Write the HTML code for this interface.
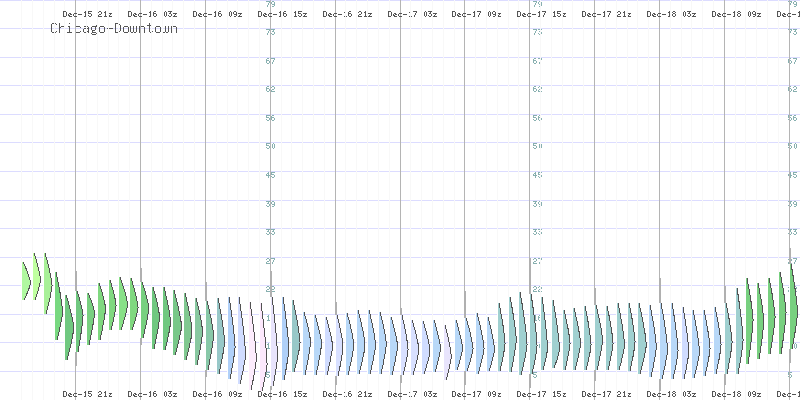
<!DOCTYPE html><html><head><meta charset="utf-8"><style>html,body{margin:0;padding:0;background:#fff;width:800px;height:400px;overflow:hidden}svg{display:block}</style></head><body>
<svg width="800" height="400" viewBox="0 0 800 400" shape-rendering="crispEdges">
<rect width="800" height="400" fill="#fff"/>
<path d="M0 0h800v1h-800zM0 28h800v1h-800zM0 57h800v1h-800zM0 85h800v1h-800zM0 114h800v1h-800zM0 142h800v1h-800zM0 171h800v1h-800zM0 200h800v1h-800zM0 228h800v1h-800zM0 257h800v1h-800zM0 285h800v1h-800zM0 314h800v1h-800zM0 342h800v1h-800zM0 371h800v1h-800z" fill="#dcdcff"/>
<path d="M266 1h4v1h-4zM272 1h2v1h-2zM269 2h1v1h-1zM271 2h1v1h-1zM274 2h1v1h-1zM268 3h1v1h-1zM271 3h1v1h-1zM274 3h1v1h-1zM268 4h1v1h-1zM272 4h3v1h-3zM267 5h1v1h-1zM274 5h1v1h-1zM267 6h1v1h-1zM272 6h2v1h-2zM533 1h4v1h-4zM539 1h2v1h-2zM536 2h1v1h-1zM538 2h1v1h-1zM541 2h1v1h-1zM535 3h1v1h-1zM538 3h1v1h-1zM541 3h1v1h-1zM535 4h1v1h-1zM539 4h3v1h-3zM534 5h1v1h-1zM541 5h1v1h-1zM534 6h1v1h-1zM539 6h2v1h-2zM788 1h4v1h-4zM794 1h2v1h-2zM791 2h1v1h-1zM793 2h1v1h-1zM796 2h1v1h-1zM790 3h1v1h-1zM793 3h1v1h-1zM796 3h1v1h-1zM790 4h1v1h-1zM794 4h3v1h-3zM789 5h1v1h-1zM796 5h1v1h-1zM789 6h1v1h-1zM794 6h2v1h-2zM266 29h4v1h-4zM271 29h4v1h-4zM269 30h1v1h-1zM273 30h1v1h-1zM268 31h1v1h-1zM272 31h2v1h-2zM268 32h1v1h-1zM274 32h1v1h-1zM267 33h1v1h-1zM271 33h1v1h-1zM274 33h1v1h-1zM267 34h1v1h-1zM272 34h2v1h-2zM533 29h4v1h-4zM538 29h4v1h-4zM536 30h1v1h-1zM540 30h1v1h-1zM535 31h1v1h-1zM539 31h2v1h-2zM535 32h1v1h-1zM541 32h1v1h-1zM534 33h1v1h-1zM538 33h1v1h-1zM541 33h1v1h-1zM534 34h1v1h-1zM539 34h2v1h-2zM788 29h4v1h-4zM793 29h4v1h-4zM791 30h1v1h-1zM795 30h1v1h-1zM790 31h1v1h-1zM794 31h2v1h-2zM790 32h1v1h-1zM796 32h1v1h-1zM789 33h1v1h-1zM793 33h1v1h-1zM796 33h1v1h-1zM789 34h1v1h-1zM794 34h2v1h-2zM267 58h2v1h-2zM271 58h4v1h-4zM266 59h1v1h-1zM274 59h1v1h-1zM266 60h3v1h-3zM273 60h1v1h-1zM266 61h1v1h-1zM269 61h1v1h-1zM273 61h1v1h-1zM266 62h1v1h-1zM269 62h1v1h-1zM272 62h1v1h-1zM267 63h2v1h-2zM272 63h1v1h-1zM534 58h2v1h-2zM538 58h4v1h-4zM533 59h1v1h-1zM541 59h1v1h-1zM533 60h3v1h-3zM540 60h1v1h-1zM533 61h1v1h-1zM536 61h1v1h-1zM540 61h1v1h-1zM533 62h1v1h-1zM536 62h1v1h-1zM539 62h1v1h-1zM534 63h2v1h-2zM539 63h1v1h-1zM789 58h2v1h-2zM793 58h4v1h-4zM788 59h1v1h-1zM796 59h1v1h-1zM788 60h3v1h-3zM795 60h1v1h-1zM788 61h1v1h-1zM791 61h1v1h-1zM795 61h1v1h-1zM788 62h1v1h-1zM791 62h1v1h-1zM794 62h1v1h-1zM789 63h2v1h-2zM794 63h1v1h-1zM267 86h2v1h-2zM272 86h2v1h-2zM266 87h1v1h-1zM271 87h1v1h-1zM274 87h1v1h-1zM266 88h3v1h-3zM274 88h1v1h-1zM266 89h1v1h-1zM269 89h1v1h-1zM272 89h2v1h-2zM266 90h1v1h-1zM269 90h1v1h-1zM271 90h1v1h-1zM267 91h2v1h-2zM271 91h4v1h-4zM534 86h2v1h-2zM539 86h2v1h-2zM533 87h1v1h-1zM538 87h1v1h-1zM541 87h1v1h-1zM533 88h3v1h-3zM541 88h1v1h-1zM533 89h1v1h-1zM536 89h1v1h-1zM539 89h2v1h-2zM533 90h1v1h-1zM536 90h1v1h-1zM538 90h1v1h-1zM534 91h2v1h-2zM538 91h4v1h-4zM789 86h2v1h-2zM794 86h2v1h-2zM788 87h1v1h-1zM793 87h1v1h-1zM796 87h1v1h-1zM788 88h3v1h-3zM796 88h1v1h-1zM788 89h1v1h-1zM791 89h1v1h-1zM794 89h2v1h-2zM788 90h1v1h-1zM791 90h1v1h-1zM793 90h1v1h-1zM789 91h2v1h-2zM793 91h4v1h-4zM266 115h4v1h-4zM272 115h2v1h-2zM266 116h1v1h-1zM271 116h1v1h-1zM266 117h3v1h-3zM271 117h3v1h-3zM269 118h1v1h-1zM271 118h1v1h-1zM274 118h1v1h-1zM266 119h1v1h-1zM269 119h1v1h-1zM271 119h1v1h-1zM274 119h1v1h-1zM267 120h2v1h-2zM272 120h2v1h-2zM533 115h4v1h-4zM539 115h2v1h-2zM533 116h1v1h-1zM538 116h1v1h-1zM533 117h3v1h-3zM538 117h3v1h-3zM536 118h1v1h-1zM538 118h1v1h-1zM541 118h1v1h-1zM533 119h1v1h-1zM536 119h1v1h-1zM538 119h1v1h-1zM541 119h1v1h-1zM534 120h2v1h-2zM539 120h2v1h-2zM788 115h4v1h-4zM794 115h2v1h-2zM788 116h1v1h-1zM793 116h1v1h-1zM788 117h3v1h-3zM793 117h3v1h-3zM791 118h1v1h-1zM793 118h1v1h-1zM796 118h1v1h-1zM788 119h1v1h-1zM791 119h1v1h-1zM793 119h1v1h-1zM796 119h1v1h-1zM789 120h2v1h-2zM794 120h2v1h-2zM266 143h4v1h-4zM273 143h1v1h-1zM266 144h1v1h-1zM272 144h1v1h-1zM274 144h1v1h-1zM266 145h3v1h-3zM272 145h1v1h-1zM274 145h1v1h-1zM269 146h1v1h-1zM272 146h1v1h-1zM274 146h1v1h-1zM266 147h1v1h-1zM269 147h1v1h-1zM272 147h1v1h-1zM274 147h1v1h-1zM267 148h2v1h-2zM273 148h1v1h-1zM533 143h4v1h-4zM540 143h1v1h-1zM533 144h1v1h-1zM539 144h1v1h-1zM541 144h1v1h-1zM533 145h3v1h-3zM539 145h1v1h-1zM541 145h1v1h-1zM536 146h1v1h-1zM539 146h1v1h-1zM541 146h1v1h-1zM533 147h1v1h-1zM536 147h1v1h-1zM539 147h1v1h-1zM541 147h1v1h-1zM534 148h2v1h-2zM540 148h1v1h-1zM788 143h4v1h-4zM795 143h1v1h-1zM788 144h1v1h-1zM794 144h1v1h-1zM796 144h1v1h-1zM788 145h3v1h-3zM794 145h1v1h-1zM796 145h1v1h-1zM791 146h1v1h-1zM794 146h1v1h-1zM796 146h1v1h-1zM788 147h1v1h-1zM791 147h1v1h-1zM794 147h1v1h-1zM796 147h1v1h-1zM789 148h2v1h-2zM795 148h1v1h-1zM268 172h1v1h-1zM271 172h4v1h-4zM267 173h2v1h-2zM271 173h1v1h-1zM266 174h1v1h-1zM268 174h1v1h-1zM271 174h3v1h-3zM266 175h4v1h-4zM274 175h1v1h-1zM268 176h1v1h-1zM271 176h1v1h-1zM274 176h1v1h-1zM268 177h1v1h-1zM272 177h2v1h-2zM535 172h1v1h-1zM538 172h4v1h-4zM534 173h2v1h-2zM538 173h1v1h-1zM533 174h1v1h-1zM535 174h1v1h-1zM538 174h3v1h-3zM533 175h4v1h-4zM541 175h1v1h-1zM535 176h1v1h-1zM538 176h1v1h-1zM541 176h1v1h-1zM535 177h1v1h-1zM539 177h2v1h-2zM790 172h1v1h-1zM793 172h4v1h-4zM789 173h2v1h-2zM793 173h1v1h-1zM788 174h1v1h-1zM790 174h1v1h-1zM793 174h3v1h-3zM788 175h4v1h-4zM796 175h1v1h-1zM790 176h1v1h-1zM793 176h1v1h-1zM796 176h1v1h-1zM790 177h1v1h-1zM794 177h2v1h-2zM266 201h4v1h-4zM272 201h2v1h-2zM268 202h1v1h-1zM271 202h1v1h-1zM274 202h1v1h-1zM267 203h2v1h-2zM271 203h1v1h-1zM274 203h1v1h-1zM269 204h1v1h-1zM272 204h3v1h-3zM266 205h1v1h-1zM269 205h1v1h-1zM274 205h1v1h-1zM267 206h2v1h-2zM272 206h2v1h-2zM533 201h4v1h-4zM539 201h2v1h-2zM535 202h1v1h-1zM538 202h1v1h-1zM541 202h1v1h-1zM534 203h2v1h-2zM538 203h1v1h-1zM541 203h1v1h-1zM536 204h1v1h-1zM539 204h3v1h-3zM533 205h1v1h-1zM536 205h1v1h-1zM541 205h1v1h-1zM534 206h2v1h-2zM539 206h2v1h-2zM788 201h4v1h-4zM794 201h2v1h-2zM790 202h1v1h-1zM793 202h1v1h-1zM796 202h1v1h-1zM789 203h2v1h-2zM793 203h1v1h-1zM796 203h1v1h-1zM791 204h1v1h-1zM794 204h3v1h-3zM788 205h1v1h-1zM791 205h1v1h-1zM796 205h1v1h-1zM789 206h2v1h-2zM794 206h2v1h-2zM266 229h4v1h-4zM271 229h4v1h-4zM268 230h1v1h-1zM273 230h1v1h-1zM267 231h2v1h-2zM272 231h2v1h-2zM269 232h1v1h-1zM274 232h1v1h-1zM266 233h1v1h-1zM269 233h1v1h-1zM271 233h1v1h-1zM274 233h1v1h-1zM267 234h2v1h-2zM272 234h2v1h-2zM533 229h4v1h-4zM538 229h4v1h-4zM535 230h1v1h-1zM540 230h1v1h-1zM534 231h2v1h-2zM539 231h2v1h-2zM536 232h1v1h-1zM541 232h1v1h-1zM533 233h1v1h-1zM536 233h1v1h-1zM538 233h1v1h-1zM541 233h1v1h-1zM534 234h2v1h-2zM539 234h2v1h-2zM788 229h4v1h-4zM793 229h4v1h-4zM790 230h1v1h-1zM795 230h1v1h-1zM789 231h2v1h-2zM794 231h2v1h-2zM791 232h1v1h-1zM796 232h1v1h-1zM788 233h1v1h-1zM791 233h1v1h-1zM793 233h1v1h-1zM796 233h1v1h-1zM789 234h2v1h-2zM794 234h2v1h-2zM267 258h2v1h-2zM271 258h4v1h-4zM266 259h1v1h-1zM269 259h1v1h-1zM274 259h1v1h-1zM269 260h1v1h-1zM273 260h1v1h-1zM267 261h2v1h-2zM273 261h1v1h-1zM266 262h1v1h-1zM272 262h1v1h-1zM266 263h4v1h-4zM272 263h1v1h-1zM534 258h2v1h-2zM538 258h4v1h-4zM533 259h1v1h-1zM536 259h1v1h-1zM541 259h1v1h-1zM536 260h1v1h-1zM540 260h1v1h-1zM534 261h2v1h-2zM540 261h1v1h-1zM533 262h1v1h-1zM539 262h1v1h-1zM533 263h4v1h-4zM539 263h1v1h-1zM789 258h2v1h-2zM793 258h4v1h-4zM788 259h1v1h-1zM791 259h1v1h-1zM796 259h1v1h-1zM791 260h1v1h-1zM795 260h1v1h-1zM789 261h2v1h-2zM795 261h1v1h-1zM788 262h1v1h-1zM794 262h1v1h-1zM788 263h4v1h-4zM794 263h1v1h-1zM267 286h2v1h-2zM272 286h2v1h-2zM266 287h1v1h-1zM269 287h1v1h-1zM271 287h1v1h-1zM274 287h1v1h-1zM269 288h1v1h-1zM274 288h1v1h-1zM267 289h2v1h-2zM272 289h2v1h-2zM266 290h1v1h-1zM271 290h1v1h-1zM266 291h4v1h-4zM271 291h4v1h-4zM534 286h2v1h-2zM539 286h2v1h-2zM533 287h1v1h-1zM536 287h1v1h-1zM538 287h1v1h-1zM541 287h1v1h-1zM536 288h1v1h-1zM541 288h1v1h-1zM534 289h2v1h-2zM539 289h2v1h-2zM533 290h1v1h-1zM538 290h1v1h-1zM533 291h4v1h-4zM538 291h4v1h-4zM789 286h2v1h-2zM794 286h2v1h-2zM788 287h1v1h-1zM791 287h1v1h-1zM793 287h1v1h-1zM796 287h1v1h-1zM791 288h1v1h-1zM796 288h1v1h-1zM789 289h2v1h-2zM794 289h2v1h-2zM788 290h1v1h-1zM793 290h1v1h-1zM788 291h4v1h-4zM793 291h4v1h-4zM268 315h1v1h-1zM272 315h2v1h-2zM267 316h2v1h-2zM271 316h1v1h-1zM268 317h1v1h-1zM271 317h3v1h-3zM268 318h1v1h-1zM271 318h1v1h-1zM274 318h1v1h-1zM268 319h1v1h-1zM271 319h1v1h-1zM274 319h1v1h-1zM267 320h3v1h-3zM272 320h2v1h-2zM535 315h1v1h-1zM539 315h2v1h-2zM534 316h2v1h-2zM538 316h1v1h-1zM535 317h1v1h-1zM538 317h3v1h-3zM535 318h1v1h-1zM538 318h1v1h-1zM541 318h1v1h-1zM535 319h1v1h-1zM538 319h1v1h-1zM541 319h1v1h-1zM534 320h3v1h-3zM539 320h2v1h-2zM790 315h1v1h-1zM794 315h2v1h-2zM789 316h2v1h-2zM793 316h1v1h-1zM790 317h1v1h-1zM793 317h3v1h-3zM790 318h1v1h-1zM793 318h1v1h-1zM796 318h1v1h-1zM790 319h1v1h-1zM793 319h1v1h-1zM796 319h1v1h-1zM789 320h3v1h-3zM794 320h2v1h-2zM268 343h1v1h-1zM273 343h1v1h-1zM267 344h2v1h-2zM272 344h1v1h-1zM274 344h1v1h-1zM268 345h1v1h-1zM272 345h1v1h-1zM274 345h1v1h-1zM268 346h1v1h-1zM272 346h1v1h-1zM274 346h1v1h-1zM268 347h1v1h-1zM272 347h1v1h-1zM274 347h1v1h-1zM267 348h3v1h-3zM273 348h1v1h-1zM535 343h1v1h-1zM540 343h1v1h-1zM534 344h2v1h-2zM539 344h1v1h-1zM541 344h1v1h-1zM535 345h1v1h-1zM539 345h1v1h-1zM541 345h1v1h-1zM535 346h1v1h-1zM539 346h1v1h-1zM541 346h1v1h-1zM535 347h1v1h-1zM539 347h1v1h-1zM541 347h1v1h-1zM534 348h3v1h-3zM540 348h1v1h-1zM790 343h1v1h-1zM795 343h1v1h-1zM789 344h2v1h-2zM794 344h1v1h-1zM796 344h1v1h-1zM790 345h1v1h-1zM794 345h1v1h-1zM796 345h1v1h-1zM790 346h1v1h-1zM794 346h1v1h-1zM796 346h1v1h-1zM790 347h1v1h-1zM794 347h1v1h-1zM796 347h1v1h-1zM789 348h3v1h-3zM795 348h1v1h-1zM266 372h4v1h-4zM266 373h1v1h-1zM266 374h3v1h-3zM269 375h1v1h-1zM266 376h1v1h-1zM269 376h1v1h-1zM267 377h2v1h-2zM533 372h4v1h-4zM533 373h1v1h-1zM533 374h3v1h-3zM536 375h1v1h-1zM533 376h1v1h-1zM536 376h1v1h-1zM534 377h2v1h-2zM788 372h4v1h-4zM788 373h1v1h-1zM788 374h3v1h-3zM791 375h1v1h-1zM788 376h1v1h-1zM791 376h1v1h-1zM789 377h2v1h-2z" fill="#88b0b0"/>
<path d="M52 23h4v1h-4zM59 23h1v1h-1zM69 23h1v1h-1zM115 23h4v1h-4zM149 23h1v1h-1zM51 24h1v1h-1zM56 24h1v1h-1zM59 24h1v1h-1zM115 24h1v1h-1zM119 24h1v1h-1zM149 24h1v1h-1zM51 25h1v1h-1zM59 25h1v1h-1zM96 25h1v1h-1zM115 25h1v1h-1zM120 25h1v1h-1zM147 25h5v1h-5zM51 26h1v1h-1zM59 26h1v1h-1zM61 26h3v1h-3zM68 26h2v1h-2zM76 26h4v1h-4zM84 26h4v1h-4zM92 26h5v1h-5zM100 26h4v1h-4zM115 26h1v1h-1zM120 26h1v1h-1zM124 26h4v1h-4zM130 26h1v1h-1zM133 26h1v1h-1zM136 26h1v1h-1zM139 26h1v1h-1zM141 26h3v1h-3zM149 26h1v1h-1zM156 26h4v1h-4zM162 26h1v1h-1zM165 26h1v1h-1zM168 26h1v1h-1zM171 26h1v1h-1zM173 26h3v1h-3zM51 27h1v1h-1zM59 27h2v1h-2zM64 27h1v1h-1zM69 27h1v1h-1zM75 27h1v1h-1zM80 27h1v1h-1zM88 27h1v1h-1zM91 27h1v1h-1zM95 27h1v1h-1zM99 27h1v1h-1zM104 27h1v1h-1zM115 27h1v1h-1zM120 27h1v1h-1zM123 27h1v1h-1zM128 27h1v1h-1zM130 27h1v1h-1zM133 27h1v1h-1zM136 27h1v1h-1zM139 27h2v1h-2zM144 27h1v1h-1zM149 27h1v1h-1zM155 27h1v1h-1zM160 27h1v1h-1zM162 27h1v1h-1zM165 27h1v1h-1zM168 27h1v1h-1zM171 27h2v1h-2zM176 27h1v1h-1zM51 28h1v1h-1zM59 28h1v1h-1zM64 28h1v1h-1zM69 28h1v1h-1zM75 28h1v1h-1zM84 28h5v1h-5zM91 28h1v1h-1zM95 28h1v1h-1zM99 28h1v1h-1zM104 28h1v1h-1zM107 28h6v1h-6zM115 28h1v1h-1zM120 28h1v1h-1zM123 28h1v1h-1zM128 28h1v1h-1zM130 28h1v1h-1zM133 28h1v1h-1zM136 28h1v1h-1zM139 28h1v1h-1zM144 28h1v1h-1zM149 28h1v1h-1zM155 28h1v1h-1zM160 28h1v1h-1zM162 28h1v1h-1zM165 28h1v1h-1zM168 28h1v1h-1zM171 28h1v1h-1zM176 28h1v1h-1zM51 29h1v1h-1zM59 29h1v1h-1zM64 29h1v1h-1zM69 29h1v1h-1zM75 29h1v1h-1zM83 29h1v1h-1zM88 29h1v1h-1zM91 29h1v1h-1zM95 29h1v1h-1zM99 29h1v1h-1zM104 29h1v1h-1zM115 29h1v1h-1zM120 29h1v1h-1zM123 29h1v1h-1zM128 29h1v1h-1zM130 29h1v1h-1zM133 29h1v1h-1zM136 29h1v1h-1zM139 29h1v1h-1zM144 29h1v1h-1zM149 29h1v1h-1zM155 29h1v1h-1zM160 29h1v1h-1zM162 29h1v1h-1zM165 29h1v1h-1zM168 29h1v1h-1zM171 29h1v1h-1zM176 29h1v1h-1zM51 30h1v1h-1zM59 30h1v1h-1zM64 30h1v1h-1zM69 30h1v1h-1zM75 30h1v1h-1zM83 30h1v1h-1zM88 30h1v1h-1zM92 30h3v1h-3zM99 30h1v1h-1zM104 30h1v1h-1zM115 30h1v1h-1zM120 30h1v1h-1zM123 30h1v1h-1zM128 30h1v1h-1zM130 30h1v1h-1zM133 30h1v1h-1zM136 30h1v1h-1zM139 30h1v1h-1zM144 30h1v1h-1zM149 30h1v1h-1zM155 30h1v1h-1zM160 30h1v1h-1zM162 30h1v1h-1zM165 30h1v1h-1zM168 30h1v1h-1zM171 30h1v1h-1zM176 30h1v1h-1zM51 31h1v1h-1zM56 31h1v1h-1zM59 31h1v1h-1zM64 31h1v1h-1zM69 31h1v1h-1zM75 31h1v1h-1zM80 31h1v1h-1zM83 31h1v1h-1zM87 31h2v1h-2zM92 31h1v1h-1zM99 31h1v1h-1zM104 31h1v1h-1zM115 31h1v1h-1zM119 31h1v1h-1zM123 31h1v1h-1zM128 31h1v1h-1zM130 31h1v1h-1zM133 31h1v1h-1zM136 31h1v1h-1zM139 31h1v1h-1zM144 31h1v1h-1zM149 31h1v1h-1zM152 31h1v1h-1zM155 31h1v1h-1zM160 31h1v1h-1zM162 31h1v1h-1zM165 31h1v1h-1zM168 31h1v1h-1zM171 31h1v1h-1zM176 31h1v1h-1zM52 32h4v1h-4zM59 32h1v1h-1zM64 32h1v1h-1zM67 32h5v1h-5zM76 32h4v1h-4zM84 32h3v1h-3zM88 32h1v1h-1zM92 32h4v1h-4zM100 32h4v1h-4zM115 32h4v1h-4zM124 32h4v1h-4zM131 32h2v1h-2zM134 32h2v1h-2zM139 32h1v1h-1zM144 32h1v1h-1zM150 32h2v1h-2zM156 32h4v1h-4zM163 32h2v1h-2zM166 32h2v1h-2zM171 32h1v1h-1zM176 32h1v1h-1zM91 33h1v1h-1zM96 33h1v1h-1zM92 34h4v1h-4z" fill="#555555"/>
<path d="M21 0h1v400h-1z" fill="#f8f8f8"/>
<path d="M32 0h1v400h-1z" fill="#f8f8f8"/>
<path d="M43 0h1v400h-1z" fill="#f8f8f8"/>
<path d="M54 0h1v400h-1z" fill="#f8f8f8"/>
<path d="M64 0h1v400h-1z" fill="#f8f8f8"/>
<path d="M75 0h1v400h-1z" fill="#b4b4b4"/>
<path d="M63 11h3v1h-3zM85 11h1v1h-1zM88 11h4v1h-4zM99 11h2v1h-2zM105 11h1v1h-1zM63 12h1v1h-1zM66 12h1v1h-1zM84 12h2v1h-2zM88 12h1v1h-1zM98 12h1v1h-1zM101 12h1v1h-1zM104 12h2v1h-2zM63 13h1v1h-1zM66 13h1v1h-1zM69 13h2v1h-2zM74 13h3v1h-3zM85 13h1v1h-1zM88 13h3v1h-3zM101 13h1v1h-1zM105 13h1v1h-1zM108 13h4v1h-4zM63 14h1v1h-1zM66 14h1v1h-1zM68 14h1v1h-1zM70 14h2v1h-2zM73 14h1v1h-1zM78 14h4v1h-4zM85 14h1v1h-1zM91 14h1v1h-1zM99 14h2v1h-2zM105 14h1v1h-1zM110 14h1v1h-1zM63 15h1v1h-1zM66 15h1v1h-1zM68 15h2v1h-2zM73 15h1v1h-1zM85 15h1v1h-1zM88 15h1v1h-1zM91 15h1v1h-1zM98 15h1v1h-1zM105 15h1v1h-1zM109 15h1v1h-1zM63 16h3v1h-3zM69 16h3v1h-3zM74 16h3v1h-3zM84 16h3v1h-3zM89 16h2v1h-2zM98 16h4v1h-4zM104 16h3v1h-3zM108 16h4v1h-4zM63 391h3v1h-3zM85 391h1v1h-1zM88 391h4v1h-4zM99 391h2v1h-2zM105 391h1v1h-1zM63 392h1v1h-1zM66 392h1v1h-1zM84 392h2v1h-2zM88 392h1v1h-1zM98 392h1v1h-1zM101 392h1v1h-1zM104 392h2v1h-2zM63 393h1v1h-1zM66 393h1v1h-1zM69 393h2v1h-2zM74 393h3v1h-3zM85 393h1v1h-1zM88 393h3v1h-3zM101 393h1v1h-1zM105 393h1v1h-1zM108 393h4v1h-4zM63 394h1v1h-1zM66 394h1v1h-1zM68 394h1v1h-1zM70 394h2v1h-2zM73 394h1v1h-1zM78 394h4v1h-4zM85 394h1v1h-1zM91 394h1v1h-1zM99 394h2v1h-2zM105 394h1v1h-1zM110 394h1v1h-1zM63 395h1v1h-1zM66 395h1v1h-1zM68 395h2v1h-2zM73 395h1v1h-1zM85 395h1v1h-1zM88 395h1v1h-1zM91 395h1v1h-1zM98 395h1v1h-1zM105 395h1v1h-1zM109 395h1v1h-1zM63 396h3v1h-3zM69 396h3v1h-3zM74 396h3v1h-3zM84 396h3v1h-3zM89 396h2v1h-2zM98 396h4v1h-4zM104 396h3v1h-3zM108 396h4v1h-4z" fill="#555555"/>
<path d="M86 0h1v400h-1z" fill="#f8f8f8"/>
<path d="M97 0h1v400h-1z" fill="#f8f8f8"/>
<path d="M108 0h1v400h-1z" fill="#f8f8f8"/>
<path d="M118 0h1v400h-1z" fill="#f8f8f8"/>
<path d="M129 0h1v400h-1z" fill="#f8f8f8"/>
<path d="M140 0h1v400h-1z" fill="#b4b4b4"/>
<path d="M128 11h3v1h-3zM150 11h1v1h-1zM154 11h2v1h-2zM165 11h1v1h-1zM168 11h4v1h-4zM128 12h1v1h-1zM131 12h1v1h-1zM149 12h2v1h-2zM153 12h1v1h-1zM164 12h1v1h-1zM166 12h1v1h-1zM170 12h1v1h-1zM128 13h1v1h-1zM131 13h1v1h-1zM134 13h2v1h-2zM139 13h3v1h-3zM150 13h1v1h-1zM153 13h3v1h-3zM164 13h1v1h-1zM166 13h1v1h-1zM169 13h2v1h-2zM173 13h4v1h-4zM128 14h1v1h-1zM131 14h1v1h-1zM133 14h1v1h-1zM135 14h2v1h-2zM138 14h1v1h-1zM143 14h4v1h-4zM150 14h1v1h-1zM153 14h1v1h-1zM156 14h1v1h-1zM164 14h1v1h-1zM166 14h1v1h-1zM171 14h1v1h-1zM175 14h1v1h-1zM128 15h1v1h-1zM131 15h1v1h-1zM133 15h2v1h-2zM138 15h1v1h-1zM150 15h1v1h-1zM153 15h1v1h-1zM156 15h1v1h-1zM164 15h1v1h-1zM166 15h1v1h-1zM168 15h1v1h-1zM171 15h1v1h-1zM174 15h1v1h-1zM128 16h3v1h-3zM134 16h3v1h-3zM139 16h3v1h-3zM149 16h3v1h-3zM154 16h2v1h-2zM165 16h1v1h-1zM169 16h2v1h-2zM173 16h4v1h-4zM128 391h3v1h-3zM150 391h1v1h-1zM154 391h2v1h-2zM165 391h1v1h-1zM168 391h4v1h-4zM128 392h1v1h-1zM131 392h1v1h-1zM149 392h2v1h-2zM153 392h1v1h-1zM164 392h1v1h-1zM166 392h1v1h-1zM170 392h1v1h-1zM128 393h1v1h-1zM131 393h1v1h-1zM134 393h2v1h-2zM139 393h3v1h-3zM150 393h1v1h-1zM153 393h3v1h-3zM164 393h1v1h-1zM166 393h1v1h-1zM169 393h2v1h-2zM173 393h4v1h-4zM128 394h1v1h-1zM131 394h1v1h-1zM133 394h1v1h-1zM135 394h2v1h-2zM138 394h1v1h-1zM143 394h4v1h-4zM150 394h1v1h-1zM153 394h1v1h-1zM156 394h1v1h-1zM164 394h1v1h-1zM166 394h1v1h-1zM171 394h1v1h-1zM175 394h1v1h-1zM128 395h1v1h-1zM131 395h1v1h-1zM133 395h2v1h-2zM138 395h1v1h-1zM150 395h1v1h-1zM153 395h1v1h-1zM156 395h1v1h-1zM164 395h1v1h-1zM166 395h1v1h-1zM168 395h1v1h-1zM171 395h1v1h-1zM174 395h1v1h-1zM128 396h3v1h-3zM134 396h3v1h-3zM139 396h3v1h-3zM149 396h3v1h-3zM154 396h2v1h-2zM165 396h1v1h-1zM169 396h2v1h-2zM173 396h4v1h-4z" fill="#555555"/>
<path d="M151 0h1v400h-1z" fill="#f8f8f8"/>
<path d="M162 0h1v400h-1z" fill="#f8f8f8"/>
<path d="M172 0h1v400h-1z" fill="#f8f8f8"/>
<path d="M183 0h1v400h-1z" fill="#f8f8f8"/>
<path d="M194 0h1v400h-1z" fill="#f8f8f8"/>
<path d="M205 0h1v400h-1z" fill="#b4b4b4"/>
<path d="M193 11h3v1h-3zM215 11h1v1h-1zM219 11h2v1h-2zM230 11h1v1h-1zM234 11h2v1h-2zM193 12h1v1h-1zM196 12h1v1h-1zM214 12h2v1h-2zM218 12h1v1h-1zM229 12h1v1h-1zM231 12h1v1h-1zM233 12h1v1h-1zM236 12h1v1h-1zM193 13h1v1h-1zM196 13h1v1h-1zM199 13h2v1h-2zM204 13h3v1h-3zM215 13h1v1h-1zM218 13h3v1h-3zM229 13h1v1h-1zM231 13h1v1h-1zM233 13h1v1h-1zM236 13h1v1h-1zM238 13h4v1h-4zM193 14h1v1h-1zM196 14h1v1h-1zM198 14h1v1h-1zM200 14h2v1h-2zM203 14h1v1h-1zM208 14h4v1h-4zM215 14h1v1h-1zM218 14h1v1h-1zM221 14h1v1h-1zM229 14h1v1h-1zM231 14h1v1h-1zM234 14h3v1h-3zM240 14h1v1h-1zM193 15h1v1h-1zM196 15h1v1h-1zM198 15h2v1h-2zM203 15h1v1h-1zM215 15h1v1h-1zM218 15h1v1h-1zM221 15h1v1h-1zM229 15h1v1h-1zM231 15h1v1h-1zM236 15h1v1h-1zM239 15h1v1h-1zM193 16h3v1h-3zM199 16h3v1h-3zM204 16h3v1h-3zM214 16h3v1h-3zM219 16h2v1h-2zM230 16h1v1h-1zM234 16h2v1h-2zM238 16h4v1h-4zM193 391h3v1h-3zM215 391h1v1h-1zM219 391h2v1h-2zM230 391h1v1h-1zM234 391h2v1h-2zM193 392h1v1h-1zM196 392h1v1h-1zM214 392h2v1h-2zM218 392h1v1h-1zM229 392h1v1h-1zM231 392h1v1h-1zM233 392h1v1h-1zM236 392h1v1h-1zM193 393h1v1h-1zM196 393h1v1h-1zM199 393h2v1h-2zM204 393h3v1h-3zM215 393h1v1h-1zM218 393h3v1h-3zM229 393h1v1h-1zM231 393h1v1h-1zM233 393h1v1h-1zM236 393h1v1h-1zM238 393h4v1h-4zM193 394h1v1h-1zM196 394h1v1h-1zM198 394h1v1h-1zM200 394h2v1h-2zM203 394h1v1h-1zM208 394h4v1h-4zM215 394h1v1h-1zM218 394h1v1h-1zM221 394h1v1h-1zM229 394h1v1h-1zM231 394h1v1h-1zM234 394h3v1h-3zM240 394h1v1h-1zM193 395h1v1h-1zM196 395h1v1h-1zM198 395h2v1h-2zM203 395h1v1h-1zM215 395h1v1h-1zM218 395h1v1h-1zM221 395h1v1h-1zM229 395h1v1h-1zM231 395h1v1h-1zM236 395h1v1h-1zM239 395h1v1h-1zM193 396h3v1h-3zM199 396h3v1h-3zM204 396h3v1h-3zM214 396h3v1h-3zM219 396h2v1h-2zM230 396h1v1h-1zM234 396h2v1h-2zM238 396h4v1h-4z" fill="#555555"/>
<path d="M216 0h1v400h-1z" fill="#f8f8f8"/>
<path d="M227 0h1v400h-1z" fill="#f8f8f8"/>
<path d="M237 0h1v400h-1z" fill="#f8f8f8"/>
<path d="M248 0h1v400h-1z" fill="#f8f8f8"/>
<path d="M259 0h1v400h-1z" fill="#f8f8f8"/>
<path d="M270 0h1v400h-1z" fill="#b4b4b4"/>
<path d="M258 11h3v1h-3zM280 11h1v1h-1zM284 11h2v1h-2zM295 11h1v1h-1zM298 11h4v1h-4zM258 12h1v1h-1zM261 12h1v1h-1zM279 12h2v1h-2zM283 12h1v1h-1zM294 12h2v1h-2zM298 12h1v1h-1zM258 13h1v1h-1zM261 13h1v1h-1zM264 13h2v1h-2zM269 13h3v1h-3zM280 13h1v1h-1zM283 13h3v1h-3zM295 13h1v1h-1zM298 13h3v1h-3zM303 13h4v1h-4zM258 14h1v1h-1zM261 14h1v1h-1zM263 14h1v1h-1zM265 14h2v1h-2zM268 14h1v1h-1zM273 14h4v1h-4zM280 14h1v1h-1zM283 14h1v1h-1zM286 14h1v1h-1zM295 14h1v1h-1zM301 14h1v1h-1zM305 14h1v1h-1zM258 15h1v1h-1zM261 15h1v1h-1zM263 15h2v1h-2zM268 15h1v1h-1zM280 15h1v1h-1zM283 15h1v1h-1zM286 15h1v1h-1zM295 15h1v1h-1zM298 15h1v1h-1zM301 15h1v1h-1zM304 15h1v1h-1zM258 16h3v1h-3zM264 16h3v1h-3zM269 16h3v1h-3zM279 16h3v1h-3zM284 16h2v1h-2zM294 16h3v1h-3zM299 16h2v1h-2zM303 16h4v1h-4zM258 391h3v1h-3zM280 391h1v1h-1zM284 391h2v1h-2zM295 391h1v1h-1zM298 391h4v1h-4zM258 392h1v1h-1zM261 392h1v1h-1zM279 392h2v1h-2zM283 392h1v1h-1zM294 392h2v1h-2zM298 392h1v1h-1zM258 393h1v1h-1zM261 393h1v1h-1zM264 393h2v1h-2zM269 393h3v1h-3zM280 393h1v1h-1zM283 393h3v1h-3zM295 393h1v1h-1zM298 393h3v1h-3zM303 393h4v1h-4zM258 394h1v1h-1zM261 394h1v1h-1zM263 394h1v1h-1zM265 394h2v1h-2zM268 394h1v1h-1zM273 394h4v1h-4zM280 394h1v1h-1zM283 394h1v1h-1zM286 394h1v1h-1zM295 394h1v1h-1zM301 394h1v1h-1zM305 394h1v1h-1zM258 395h1v1h-1zM261 395h1v1h-1zM263 395h2v1h-2zM268 395h1v1h-1zM280 395h1v1h-1zM283 395h1v1h-1zM286 395h1v1h-1zM295 395h1v1h-1zM298 395h1v1h-1zM301 395h1v1h-1zM304 395h1v1h-1zM258 396h3v1h-3zM264 396h3v1h-3zM269 396h3v1h-3zM279 396h3v1h-3zM284 396h2v1h-2zM294 396h3v1h-3zM299 396h2v1h-2zM303 396h4v1h-4z" fill="#555555"/>
<path d="M281 0h1v400h-1z" fill="#f8f8f8"/>
<path d="M291 0h1v400h-1z" fill="#f8f8f8"/>
<path d="M302 0h1v400h-1z" fill="#f8f8f8"/>
<path d="M313 0h1v400h-1z" fill="#f8f8f8"/>
<path d="M324 0h1v400h-1z" fill="#f8f8f8"/>
<path d="M335 0h1v400h-1z" fill="#b4b4b4"/>
<path d="M323 11h3v1h-3zM345 11h1v1h-1zM349 11h2v1h-2zM359 11h2v1h-2zM365 11h1v1h-1zM323 12h1v1h-1zM326 12h1v1h-1zM344 12h2v1h-2zM348 12h1v1h-1zM358 12h1v1h-1zM361 12h1v1h-1zM364 12h2v1h-2zM323 13h1v1h-1zM326 13h1v1h-1zM329 13h2v1h-2zM334 13h3v1h-3zM345 13h1v1h-1zM348 13h3v1h-3zM361 13h1v1h-1zM365 13h1v1h-1zM368 13h4v1h-4zM323 14h1v1h-1zM326 14h1v1h-1zM328 14h1v1h-1zM330 14h2v1h-2zM333 14h1v1h-1zM338 14h4v1h-4zM345 14h1v1h-1zM348 14h1v1h-1zM351 14h1v1h-1zM359 14h2v1h-2zM365 14h1v1h-1zM370 14h1v1h-1zM323 15h1v1h-1zM326 15h1v1h-1zM328 15h2v1h-2zM333 15h1v1h-1zM345 15h1v1h-1zM348 15h1v1h-1zM351 15h1v1h-1zM358 15h1v1h-1zM365 15h1v1h-1zM369 15h1v1h-1zM323 16h3v1h-3zM329 16h3v1h-3zM334 16h3v1h-3zM344 16h3v1h-3zM349 16h2v1h-2zM358 16h4v1h-4zM364 16h3v1h-3zM368 16h4v1h-4zM323 391h3v1h-3zM345 391h1v1h-1zM349 391h2v1h-2zM359 391h2v1h-2zM365 391h1v1h-1zM323 392h1v1h-1zM326 392h1v1h-1zM344 392h2v1h-2zM348 392h1v1h-1zM358 392h1v1h-1zM361 392h1v1h-1zM364 392h2v1h-2zM323 393h1v1h-1zM326 393h1v1h-1zM329 393h2v1h-2zM334 393h3v1h-3zM345 393h1v1h-1zM348 393h3v1h-3zM361 393h1v1h-1zM365 393h1v1h-1zM368 393h4v1h-4zM323 394h1v1h-1zM326 394h1v1h-1zM328 394h1v1h-1zM330 394h2v1h-2zM333 394h1v1h-1zM338 394h4v1h-4zM345 394h1v1h-1zM348 394h1v1h-1zM351 394h1v1h-1zM359 394h2v1h-2zM365 394h1v1h-1zM370 394h1v1h-1zM323 395h1v1h-1zM326 395h1v1h-1zM328 395h2v1h-2zM333 395h1v1h-1zM345 395h1v1h-1zM348 395h1v1h-1zM351 395h1v1h-1zM358 395h1v1h-1zM365 395h1v1h-1zM369 395h1v1h-1zM323 396h3v1h-3zM329 396h3v1h-3zM334 396h3v1h-3zM344 396h3v1h-3zM349 396h2v1h-2zM358 396h4v1h-4zM364 396h3v1h-3zM368 396h4v1h-4z" fill="#555555"/>
<path d="M345 0h1v400h-1z" fill="#f8f8f8"/>
<path d="M356 0h1v400h-1z" fill="#f8f8f8"/>
<path d="M367 0h1v400h-1z" fill="#f8f8f8"/>
<path d="M378 0h1v400h-1z" fill="#f8f8f8"/>
<path d="M389 0h1v400h-1z" fill="#f8f8f8"/>
<path d="M400 0h1v400h-1z" fill="#b4b4b4"/>
<path d="M388 11h3v1h-3zM410 11h1v1h-1zM413 11h4v1h-4zM425 11h1v1h-1zM428 11h4v1h-4zM388 12h1v1h-1zM391 12h1v1h-1zM409 12h2v1h-2zM416 12h1v1h-1zM424 12h1v1h-1zM426 12h1v1h-1zM430 12h1v1h-1zM388 13h1v1h-1zM391 13h1v1h-1zM394 13h2v1h-2zM399 13h3v1h-3zM410 13h1v1h-1zM415 13h1v1h-1zM424 13h1v1h-1zM426 13h1v1h-1zM429 13h2v1h-2zM433 13h4v1h-4zM388 14h1v1h-1zM391 14h1v1h-1zM393 14h1v1h-1zM395 14h2v1h-2zM398 14h1v1h-1zM403 14h4v1h-4zM410 14h1v1h-1zM415 14h1v1h-1zM424 14h1v1h-1zM426 14h1v1h-1zM431 14h1v1h-1zM435 14h1v1h-1zM388 15h1v1h-1zM391 15h1v1h-1zM393 15h2v1h-2zM398 15h1v1h-1zM410 15h1v1h-1zM414 15h1v1h-1zM424 15h1v1h-1zM426 15h1v1h-1zM428 15h1v1h-1zM431 15h1v1h-1zM434 15h1v1h-1zM388 16h3v1h-3zM394 16h3v1h-3zM399 16h3v1h-3zM409 16h3v1h-3zM414 16h1v1h-1zM425 16h1v1h-1zM429 16h2v1h-2zM433 16h4v1h-4zM388 391h3v1h-3zM410 391h1v1h-1zM413 391h4v1h-4zM425 391h1v1h-1zM428 391h4v1h-4zM388 392h1v1h-1zM391 392h1v1h-1zM409 392h2v1h-2zM416 392h1v1h-1zM424 392h1v1h-1zM426 392h1v1h-1zM430 392h1v1h-1zM388 393h1v1h-1zM391 393h1v1h-1zM394 393h2v1h-2zM399 393h3v1h-3zM410 393h1v1h-1zM415 393h1v1h-1zM424 393h1v1h-1zM426 393h1v1h-1zM429 393h2v1h-2zM433 393h4v1h-4zM388 394h1v1h-1zM391 394h1v1h-1zM393 394h1v1h-1zM395 394h2v1h-2zM398 394h1v1h-1zM403 394h4v1h-4zM410 394h1v1h-1zM415 394h1v1h-1zM424 394h1v1h-1zM426 394h1v1h-1zM431 394h1v1h-1zM435 394h1v1h-1zM388 395h1v1h-1zM391 395h1v1h-1zM393 395h2v1h-2zM398 395h1v1h-1zM410 395h1v1h-1zM414 395h1v1h-1zM424 395h1v1h-1zM426 395h1v1h-1zM428 395h1v1h-1zM431 395h1v1h-1zM434 395h1v1h-1zM388 396h3v1h-3zM394 396h3v1h-3zM399 396h3v1h-3zM409 396h3v1h-3zM414 396h1v1h-1zM425 396h1v1h-1zM429 396h2v1h-2zM433 396h4v1h-4z" fill="#555555"/>
<path d="M410 0h1v400h-1z" fill="#f8f8f8"/>
<path d="M421 0h1v400h-1z" fill="#f8f8f8"/>
<path d="M432 0h1v400h-1z" fill="#f8f8f8"/>
<path d="M443 0h1v400h-1z" fill="#f8f8f8"/>
<path d="M454 0h1v400h-1z" fill="#f8f8f8"/>
<path d="M464 0h1v400h-1z" fill="#b4b4b4"/>
<path d="M452 11h3v1h-3zM474 11h1v1h-1zM477 11h4v1h-4zM489 11h1v1h-1zM493 11h2v1h-2zM452 12h1v1h-1zM455 12h1v1h-1zM473 12h2v1h-2zM480 12h1v1h-1zM488 12h1v1h-1zM490 12h1v1h-1zM492 12h1v1h-1zM495 12h1v1h-1zM452 13h1v1h-1zM455 13h1v1h-1zM458 13h2v1h-2zM463 13h3v1h-3zM474 13h1v1h-1zM479 13h1v1h-1zM488 13h1v1h-1zM490 13h1v1h-1zM492 13h1v1h-1zM495 13h1v1h-1zM497 13h4v1h-4zM452 14h1v1h-1zM455 14h1v1h-1zM457 14h1v1h-1zM459 14h2v1h-2zM462 14h1v1h-1zM467 14h4v1h-4zM474 14h1v1h-1zM479 14h1v1h-1zM488 14h1v1h-1zM490 14h1v1h-1zM493 14h3v1h-3zM499 14h1v1h-1zM452 15h1v1h-1zM455 15h1v1h-1zM457 15h2v1h-2zM462 15h1v1h-1zM474 15h1v1h-1zM478 15h1v1h-1zM488 15h1v1h-1zM490 15h1v1h-1zM495 15h1v1h-1zM498 15h1v1h-1zM452 16h3v1h-3zM458 16h3v1h-3zM463 16h3v1h-3zM473 16h3v1h-3zM478 16h1v1h-1zM489 16h1v1h-1zM493 16h2v1h-2zM497 16h4v1h-4zM452 391h3v1h-3zM474 391h1v1h-1zM477 391h4v1h-4zM489 391h1v1h-1zM493 391h2v1h-2zM452 392h1v1h-1zM455 392h1v1h-1zM473 392h2v1h-2zM480 392h1v1h-1zM488 392h1v1h-1zM490 392h1v1h-1zM492 392h1v1h-1zM495 392h1v1h-1zM452 393h1v1h-1zM455 393h1v1h-1zM458 393h2v1h-2zM463 393h3v1h-3zM474 393h1v1h-1zM479 393h1v1h-1zM488 393h1v1h-1zM490 393h1v1h-1zM492 393h1v1h-1zM495 393h1v1h-1zM497 393h4v1h-4zM452 394h1v1h-1zM455 394h1v1h-1zM457 394h1v1h-1zM459 394h2v1h-2zM462 394h1v1h-1zM467 394h4v1h-4zM474 394h1v1h-1zM479 394h1v1h-1zM488 394h1v1h-1zM490 394h1v1h-1zM493 394h3v1h-3zM499 394h1v1h-1zM452 395h1v1h-1zM455 395h1v1h-1zM457 395h2v1h-2zM462 395h1v1h-1zM474 395h1v1h-1zM478 395h1v1h-1zM488 395h1v1h-1zM490 395h1v1h-1zM495 395h1v1h-1zM498 395h1v1h-1zM452 396h3v1h-3zM458 396h3v1h-3zM463 396h3v1h-3zM473 396h3v1h-3zM478 396h1v1h-1zM489 396h1v1h-1zM493 396h2v1h-2zM497 396h4v1h-4z" fill="#555555"/>
<path d="M475 0h1v400h-1z" fill="#f8f8f8"/>
<path d="M486 0h1v400h-1z" fill="#f8f8f8"/>
<path d="M497 0h1v400h-1z" fill="#f8f8f8"/>
<path d="M508 0h1v400h-1z" fill="#f8f8f8"/>
<path d="M518 0h1v400h-1z" fill="#f8f8f8"/>
<path d="M529 0h1v400h-1z" fill="#b4b4b4"/>
<path d="M517 11h3v1h-3zM539 11h1v1h-1zM542 11h4v1h-4zM554 11h1v1h-1zM557 11h4v1h-4zM517 12h1v1h-1zM520 12h1v1h-1zM538 12h2v1h-2zM545 12h1v1h-1zM553 12h2v1h-2zM557 12h1v1h-1zM517 13h1v1h-1zM520 13h1v1h-1zM523 13h2v1h-2zM528 13h3v1h-3zM539 13h1v1h-1zM544 13h1v1h-1zM554 13h1v1h-1zM557 13h3v1h-3zM562 13h4v1h-4zM517 14h1v1h-1zM520 14h1v1h-1zM522 14h1v1h-1zM524 14h2v1h-2zM527 14h1v1h-1zM532 14h4v1h-4zM539 14h1v1h-1zM544 14h1v1h-1zM554 14h1v1h-1zM560 14h1v1h-1zM564 14h1v1h-1zM517 15h1v1h-1zM520 15h1v1h-1zM522 15h2v1h-2zM527 15h1v1h-1zM539 15h1v1h-1zM543 15h1v1h-1zM554 15h1v1h-1zM557 15h1v1h-1zM560 15h1v1h-1zM563 15h1v1h-1zM517 16h3v1h-3zM523 16h3v1h-3zM528 16h3v1h-3zM538 16h3v1h-3zM543 16h1v1h-1zM553 16h3v1h-3zM558 16h2v1h-2zM562 16h4v1h-4zM517 391h3v1h-3zM539 391h1v1h-1zM542 391h4v1h-4zM554 391h1v1h-1zM557 391h4v1h-4zM517 392h1v1h-1zM520 392h1v1h-1zM538 392h2v1h-2zM545 392h1v1h-1zM553 392h2v1h-2zM557 392h1v1h-1zM517 393h1v1h-1zM520 393h1v1h-1zM523 393h2v1h-2zM528 393h3v1h-3zM539 393h1v1h-1zM544 393h1v1h-1zM554 393h1v1h-1zM557 393h3v1h-3zM562 393h4v1h-4zM517 394h1v1h-1zM520 394h1v1h-1zM522 394h1v1h-1zM524 394h2v1h-2zM527 394h1v1h-1zM532 394h4v1h-4zM539 394h1v1h-1zM544 394h1v1h-1zM554 394h1v1h-1zM560 394h1v1h-1zM564 394h1v1h-1zM517 395h1v1h-1zM520 395h1v1h-1zM522 395h2v1h-2zM527 395h1v1h-1zM539 395h1v1h-1zM543 395h1v1h-1zM554 395h1v1h-1zM557 395h1v1h-1zM560 395h1v1h-1zM563 395h1v1h-1zM517 396h3v1h-3zM523 396h3v1h-3zM528 396h3v1h-3zM538 396h3v1h-3zM543 396h1v1h-1zM553 396h3v1h-3zM558 396h2v1h-2zM562 396h4v1h-4z" fill="#555555"/>
<path d="M540 0h1v400h-1z" fill="#f8f8f8"/>
<path d="M551 0h1v400h-1z" fill="#f8f8f8"/>
<path d="M562 0h1v400h-1z" fill="#f8f8f8"/>
<path d="M572 0h1v400h-1z" fill="#f8f8f8"/>
<path d="M583 0h1v400h-1z" fill="#f8f8f8"/>
<path d="M594 0h1v400h-1z" fill="#b4b4b4"/>
<path d="M582 11h3v1h-3zM604 11h1v1h-1zM607 11h4v1h-4zM618 11h2v1h-2zM624 11h1v1h-1zM582 12h1v1h-1zM585 12h1v1h-1zM603 12h2v1h-2zM610 12h1v1h-1zM617 12h1v1h-1zM620 12h1v1h-1zM623 12h2v1h-2zM582 13h1v1h-1zM585 13h1v1h-1zM588 13h2v1h-2zM593 13h3v1h-3zM604 13h1v1h-1zM609 13h1v1h-1zM620 13h1v1h-1zM624 13h1v1h-1zM627 13h4v1h-4zM582 14h1v1h-1zM585 14h1v1h-1zM587 14h1v1h-1zM589 14h2v1h-2zM592 14h1v1h-1zM597 14h4v1h-4zM604 14h1v1h-1zM609 14h1v1h-1zM618 14h2v1h-2zM624 14h1v1h-1zM629 14h1v1h-1zM582 15h1v1h-1zM585 15h1v1h-1zM587 15h2v1h-2zM592 15h1v1h-1zM604 15h1v1h-1zM608 15h1v1h-1zM617 15h1v1h-1zM624 15h1v1h-1zM628 15h1v1h-1zM582 16h3v1h-3zM588 16h3v1h-3zM593 16h3v1h-3zM603 16h3v1h-3zM608 16h1v1h-1zM617 16h4v1h-4zM623 16h3v1h-3zM627 16h4v1h-4zM582 391h3v1h-3zM604 391h1v1h-1zM607 391h4v1h-4zM618 391h2v1h-2zM624 391h1v1h-1zM582 392h1v1h-1zM585 392h1v1h-1zM603 392h2v1h-2zM610 392h1v1h-1zM617 392h1v1h-1zM620 392h1v1h-1zM623 392h2v1h-2zM582 393h1v1h-1zM585 393h1v1h-1zM588 393h2v1h-2zM593 393h3v1h-3zM604 393h1v1h-1zM609 393h1v1h-1zM620 393h1v1h-1zM624 393h1v1h-1zM627 393h4v1h-4zM582 394h1v1h-1zM585 394h1v1h-1zM587 394h1v1h-1zM589 394h2v1h-2zM592 394h1v1h-1zM597 394h4v1h-4zM604 394h1v1h-1zM609 394h1v1h-1zM618 394h2v1h-2zM624 394h1v1h-1zM629 394h1v1h-1zM582 395h1v1h-1zM585 395h1v1h-1zM587 395h2v1h-2zM592 395h1v1h-1zM604 395h1v1h-1zM608 395h1v1h-1zM617 395h1v1h-1zM624 395h1v1h-1zM628 395h1v1h-1zM582 396h3v1h-3zM588 396h3v1h-3zM593 396h3v1h-3zM603 396h3v1h-3zM608 396h1v1h-1zM617 396h4v1h-4zM623 396h3v1h-3zM627 396h4v1h-4z" fill="#555555"/>
<path d="M605 0h1v400h-1z" fill="#f8f8f8"/>
<path d="M616 0h1v400h-1z" fill="#f8f8f8"/>
<path d="M627 0h1v400h-1z" fill="#f8f8f8"/>
<path d="M637 0h1v400h-1z" fill="#f8f8f8"/>
<path d="M648 0h1v400h-1z" fill="#f8f8f8"/>
<path d="M659 0h1v400h-1z" fill="#b4b4b4"/>
<path d="M647 11h3v1h-3zM669 11h1v1h-1zM673 11h2v1h-2zM684 11h1v1h-1zM687 11h4v1h-4zM647 12h1v1h-1zM650 12h1v1h-1zM668 12h2v1h-2zM672 12h1v1h-1zM675 12h1v1h-1zM683 12h1v1h-1zM685 12h1v1h-1zM689 12h1v1h-1zM647 13h1v1h-1zM650 13h1v1h-1zM653 13h2v1h-2zM658 13h3v1h-3zM669 13h1v1h-1zM673 13h2v1h-2zM683 13h1v1h-1zM685 13h1v1h-1zM688 13h2v1h-2zM692 13h4v1h-4zM647 14h1v1h-1zM650 14h1v1h-1zM652 14h1v1h-1zM654 14h2v1h-2zM657 14h1v1h-1zM662 14h4v1h-4zM669 14h1v1h-1zM672 14h1v1h-1zM675 14h1v1h-1zM683 14h1v1h-1zM685 14h1v1h-1zM690 14h1v1h-1zM694 14h1v1h-1zM647 15h1v1h-1zM650 15h1v1h-1zM652 15h2v1h-2zM657 15h1v1h-1zM669 15h1v1h-1zM672 15h1v1h-1zM675 15h1v1h-1zM683 15h1v1h-1zM685 15h1v1h-1zM687 15h1v1h-1zM690 15h1v1h-1zM693 15h1v1h-1zM647 16h3v1h-3zM653 16h3v1h-3zM658 16h3v1h-3zM668 16h3v1h-3zM673 16h2v1h-2zM684 16h1v1h-1zM688 16h2v1h-2zM692 16h4v1h-4zM647 391h3v1h-3zM669 391h1v1h-1zM673 391h2v1h-2zM684 391h1v1h-1zM687 391h4v1h-4zM647 392h1v1h-1zM650 392h1v1h-1zM668 392h2v1h-2zM672 392h1v1h-1zM675 392h1v1h-1zM683 392h1v1h-1zM685 392h1v1h-1zM689 392h1v1h-1zM647 393h1v1h-1zM650 393h1v1h-1zM653 393h2v1h-2zM658 393h3v1h-3zM669 393h1v1h-1zM673 393h2v1h-2zM683 393h1v1h-1zM685 393h1v1h-1zM688 393h2v1h-2zM692 393h4v1h-4zM647 394h1v1h-1zM650 394h1v1h-1zM652 394h1v1h-1zM654 394h2v1h-2zM657 394h1v1h-1zM662 394h4v1h-4zM669 394h1v1h-1zM672 394h1v1h-1zM675 394h1v1h-1zM683 394h1v1h-1zM685 394h1v1h-1zM690 394h1v1h-1zM694 394h1v1h-1zM647 395h1v1h-1zM650 395h1v1h-1zM652 395h2v1h-2zM657 395h1v1h-1zM669 395h1v1h-1zM672 395h1v1h-1zM675 395h1v1h-1zM683 395h1v1h-1zM685 395h1v1h-1zM687 395h1v1h-1zM690 395h1v1h-1zM693 395h1v1h-1zM647 396h3v1h-3zM653 396h3v1h-3zM658 396h3v1h-3zM668 396h3v1h-3zM673 396h2v1h-2zM684 396h1v1h-1zM688 396h2v1h-2zM692 396h4v1h-4z" fill="#555555"/>
<path d="M670 0h1v400h-1z" fill="#f8f8f8"/>
<path d="M681 0h1v400h-1z" fill="#f8f8f8"/>
<path d="M691 0h1v400h-1z" fill="#f8f8f8"/>
<path d="M702 0h1v400h-1z" fill="#f8f8f8"/>
<path d="M713 0h1v400h-1z" fill="#f8f8f8"/>
<path d="M724 0h1v400h-1z" fill="#b4b4b4"/>
<path d="M712 11h3v1h-3zM734 11h1v1h-1zM738 11h2v1h-2zM749 11h1v1h-1zM753 11h2v1h-2zM712 12h1v1h-1zM715 12h1v1h-1zM733 12h2v1h-2zM737 12h1v1h-1zM740 12h1v1h-1zM748 12h1v1h-1zM750 12h1v1h-1zM752 12h1v1h-1zM755 12h1v1h-1zM712 13h1v1h-1zM715 13h1v1h-1zM718 13h2v1h-2zM723 13h3v1h-3zM734 13h1v1h-1zM738 13h2v1h-2zM748 13h1v1h-1zM750 13h1v1h-1zM752 13h1v1h-1zM755 13h1v1h-1zM757 13h4v1h-4zM712 14h1v1h-1zM715 14h1v1h-1zM717 14h1v1h-1zM719 14h2v1h-2zM722 14h1v1h-1zM727 14h4v1h-4zM734 14h1v1h-1zM737 14h1v1h-1zM740 14h1v1h-1zM748 14h1v1h-1zM750 14h1v1h-1zM753 14h3v1h-3zM759 14h1v1h-1zM712 15h1v1h-1zM715 15h1v1h-1zM717 15h2v1h-2zM722 15h1v1h-1zM734 15h1v1h-1zM737 15h1v1h-1zM740 15h1v1h-1zM748 15h1v1h-1zM750 15h1v1h-1zM755 15h1v1h-1zM758 15h1v1h-1zM712 16h3v1h-3zM718 16h3v1h-3zM723 16h3v1h-3zM733 16h3v1h-3zM738 16h2v1h-2zM749 16h1v1h-1zM753 16h2v1h-2zM757 16h4v1h-4zM712 391h3v1h-3zM734 391h1v1h-1zM738 391h2v1h-2zM749 391h1v1h-1zM753 391h2v1h-2zM712 392h1v1h-1zM715 392h1v1h-1zM733 392h2v1h-2zM737 392h1v1h-1zM740 392h1v1h-1zM748 392h1v1h-1zM750 392h1v1h-1zM752 392h1v1h-1zM755 392h1v1h-1zM712 393h1v1h-1zM715 393h1v1h-1zM718 393h2v1h-2zM723 393h3v1h-3zM734 393h1v1h-1zM738 393h2v1h-2zM748 393h1v1h-1zM750 393h1v1h-1zM752 393h1v1h-1zM755 393h1v1h-1zM757 393h4v1h-4zM712 394h1v1h-1zM715 394h1v1h-1zM717 394h1v1h-1zM719 394h2v1h-2zM722 394h1v1h-1zM727 394h4v1h-4zM734 394h1v1h-1zM737 394h1v1h-1zM740 394h1v1h-1zM748 394h1v1h-1zM750 394h1v1h-1zM753 394h3v1h-3zM759 394h1v1h-1zM712 395h1v1h-1zM715 395h1v1h-1zM717 395h2v1h-2zM722 395h1v1h-1zM734 395h1v1h-1zM737 395h1v1h-1zM740 395h1v1h-1zM748 395h1v1h-1zM750 395h1v1h-1zM755 395h1v1h-1zM758 395h1v1h-1zM712 396h3v1h-3zM718 396h3v1h-3zM723 396h3v1h-3zM733 396h3v1h-3zM738 396h2v1h-2zM749 396h1v1h-1zM753 396h2v1h-2zM757 396h4v1h-4z" fill="#555555"/>
<path d="M735 0h1v400h-1z" fill="#f8f8f8"/>
<path d="M745 0h1v400h-1z" fill="#f8f8f8"/>
<path d="M756 0h1v400h-1z" fill="#f8f8f8"/>
<path d="M767 0h1v400h-1z" fill="#f8f8f8"/>
<path d="M778 0h1v400h-1z" fill="#f8f8f8"/>
<path d="M789 0h1v400h-1z" fill="#b4b4b4"/>
<path d="M777 11h3v1h-3zM799 11h1v1h-1zM803 11h2v1h-2zM814 11h1v1h-1zM817 11h4v1h-4zM777 12h1v1h-1zM780 12h1v1h-1zM798 12h2v1h-2zM802 12h1v1h-1zM805 12h1v1h-1zM813 12h2v1h-2zM817 12h1v1h-1zM777 13h1v1h-1zM780 13h1v1h-1zM783 13h2v1h-2zM788 13h3v1h-3zM799 13h1v1h-1zM803 13h2v1h-2zM814 13h1v1h-1zM817 13h3v1h-3zM822 13h4v1h-4zM777 14h1v1h-1zM780 14h1v1h-1zM782 14h1v1h-1zM784 14h2v1h-2zM787 14h1v1h-1zM792 14h4v1h-4zM799 14h1v1h-1zM802 14h1v1h-1zM805 14h1v1h-1zM814 14h1v1h-1zM820 14h1v1h-1zM824 14h1v1h-1zM777 15h1v1h-1zM780 15h1v1h-1zM782 15h2v1h-2zM787 15h1v1h-1zM799 15h1v1h-1zM802 15h1v1h-1zM805 15h1v1h-1zM814 15h1v1h-1zM817 15h1v1h-1zM820 15h1v1h-1zM823 15h1v1h-1zM777 16h3v1h-3zM783 16h3v1h-3zM788 16h3v1h-3zM798 16h3v1h-3zM803 16h2v1h-2zM813 16h3v1h-3zM818 16h2v1h-2zM822 16h4v1h-4zM777 391h3v1h-3zM799 391h1v1h-1zM803 391h2v1h-2zM814 391h1v1h-1zM817 391h4v1h-4zM777 392h1v1h-1zM780 392h1v1h-1zM798 392h2v1h-2zM802 392h1v1h-1zM805 392h1v1h-1zM813 392h2v1h-2zM817 392h1v1h-1zM777 393h1v1h-1zM780 393h1v1h-1zM783 393h2v1h-2zM788 393h3v1h-3zM799 393h1v1h-1zM803 393h2v1h-2zM814 393h1v1h-1zM817 393h3v1h-3zM822 393h4v1h-4zM777 394h1v1h-1zM780 394h1v1h-1zM782 394h1v1h-1zM784 394h2v1h-2zM787 394h1v1h-1zM792 394h4v1h-4zM799 394h1v1h-1zM802 394h1v1h-1zM805 394h1v1h-1zM814 394h1v1h-1zM820 394h1v1h-1zM824 394h1v1h-1zM777 395h1v1h-1zM780 395h1v1h-1zM782 395h2v1h-2zM787 395h1v1h-1zM799 395h1v1h-1zM802 395h1v1h-1zM805 395h1v1h-1zM814 395h1v1h-1zM817 395h1v1h-1zM820 395h1v1h-1zM823 395h1v1h-1zM777 396h3v1h-3zM783 396h3v1h-3zM788 396h3v1h-3zM798 396h3v1h-3zM803 396h2v1h-2zM813 396h3v1h-3zM818 396h2v1h-2zM822 396h4v1h-4z" fill="#555555"/>
<path d="M21 262h1v38h-1z" fill="#fff"/>
<path d="M22 262L23 262L23.5 263L23.9 264L24.4 265L24.9 266L25.3 267L25.7 268L26.2 269L26.6 270L27.0 271L27.4 272L27.7 273L28.1 274L28.5 275L28.8 276L29.1 277L29.4 278L29.7 279L30.0 280L30.2 281L30.4 282L30.5 283L30.3 284L30.1 285L29.8 286L29.5 287L29.2 288L28.8 289L28.4 290L28.0 291L27.6 292L27.2 293L26.8 294L26.4 295L25.9 296L25.4 297L25.0 298L24.5 299L24 300L22 300Z" fill="#b0f8a0"/>
<path d="M23 262L23.5 263L23.9 264L24.4 265L24.9 266L25.3 267L25.7 268L26.2 269L26.6 270L27.0 271L27.4 272L27.7 273L28.1 274L28.5 275L28.8 276L29.1 277L29.4 278L29.7 279L30.0 280L30.2 281L30.4 282L30.5 283L30.3 284L30.1 285L29.8 286L29.5 287L29.2 288L28.8 289L28.4 290L28.0 291L27.6 292L27.2 293L26.8 294L26.4 295L25.9 296L25.4 297L25.0 298L24.5 299L24 300" fill="none" stroke="#525252" stroke-width="1"/>
<path d="M32 253h1v47h-1z" fill="#fff"/>
<path d="M33 253L34 253L34.3 254L34.6 255L35.0 256L35.3 257L35.6 258L35.9 259L36.2 260L36.5 261L36.7 262L37.0 263L37.3 264L37.6 265L37.8 266L38.1 267L38.3 268L38.6 269L38.8 270L39.0 271L39.2 272L39.4 273L39.6 274L39.8 275L40.0 276L40.2 277L40.3 278L40.4 279L40.5 280L40.4 281L40.2 282L40.0 283L39.8 284L39.6 285L39.4 286L39.1 287L38.8 288L38.6 289L38.3 290L38.0 291L37.7 292L37.4 293L37.0 294L36.7 295L36.4 296L36.0 297L35.7 298L35.4 299L35 300L33 300Z" fill="#c0ffa0"/>
<path d="M34 253L34.3 254L34.6 255L35.0 256L35.3 257L35.6 258L35.9 259L36.2 260L36.5 261L36.7 262L37.0 263L37.3 264L37.6 265L37.8 266L38.1 267L38.3 268L38.6 269L38.8 270L39.0 271L39.2 272L39.4 273L39.6 274L39.8 275L40.0 276L40.2 277L40.3 278L40.4 279L40.5 280L40.4 281L40.2 282L40.0 283L39.8 284L39.6 285L39.4 286L39.1 287L38.8 288L38.6 289L38.3 290L38.0 291L37.7 292L37.4 293L37.0 294L36.7 295L36.4 296L36.0 297L35.7 298L35.4 299L35 300" fill="none" stroke="#525252" stroke-width="1"/>
<path d="M43 253h1v61h-1z" fill="#fff"/>
<path d="M44 253L45 253L45.3 254L45.6 255L45.9 256L46.1 257L46.4 258L46.7 259L47.0 260L47.2 261L47.5 262L47.7 263L48.0 264L48.2 265L48.5 266L48.7 267L49.0 268L49.2 269L49.4 270L49.6 271L49.9 272L50.1 273L50.3 274L50.5 275L50.7 276L50.9 277L51.0 278L51.2 279L51.4 280L51.5 281L51.7 282L51.8 283L51.9 284L52.0 285L52.0 286L51.9 287L51.8 288L51.6 289L51.5 290L51.3 291L51.1 292L50.9 293L50.8 294L50.6 295L50.4 296L50.2 297L49.9 298L49.7 299L49.5 300L49.3 301L49.0 302L48.8 303L48.6 304L48.3 305L48.1 306L47.8 307L47.6 308L47.3 309L47.1 310L46.8 311L46.5 312L46.3 313L46 314L44 314Z" fill="#a8f098"/>
<path d="M45 253L45.3 254L45.6 255L45.9 256L46.1 257L46.4 258L46.7 259L47.0 260L47.2 261L47.5 262L47.7 263L48.0 264L48.2 265L48.5 266L48.7 267L49.0 268L49.2 269L49.4 270L49.6 271L49.9 272L50.1 273L50.3 274L50.5 275L50.7 276L50.9 277L51.0 278L51.2 279L51.4 280L51.5 281L51.7 282L51.8 283L51.9 284L52.0 285L52.0 286L51.9 287L51.8 288L51.6 289L51.5 290L51.3 291L51.1 292L50.9 293L50.8 294L50.6 295L50.4 296L50.2 297L49.9 298L49.7 299L49.5 300L49.3 301L49.0 302L48.8 303L48.6 304L48.3 305L48.1 306L47.8 307L47.6 308L47.3 309L47.1 310L46.8 311L46.5 312L46.3 313L46 314" fill="none" stroke="#525252" stroke-width="1"/>
<path d="M54 272h1v68h-1z" fill="#fff"/>
<path d="M55 272L56 272L56.2 273L56.4 274L56.6 275L56.9 276L57.1 277L57.3 278L57.5 279L57.7 280L57.9 281L58.1 282L58.3 283L58.5 284L58.6 285L58.8 286L59.0 287L59.2 288L59.4 289L59.6 290L59.7 291L59.9 292L60.1 293L60.2 294L60.4 295L60.6 296L60.7 297L60.9 298L61.0 299L61.2 300L61.3 301L61.4 302L61.6 303L61.7 304L61.8 305L62.0 306L62.1 307L62.2 308L62.3 309L62.3 310L62.4 311L62.5 312L62.5 313L62.4 314L62.3 315L62.1 316L62.0 317L61.8 318L61.7 319L61.5 320L61.3 321L61.1 322L60.9 323L60.7 324L60.5 325L60.3 326L60.1 327L59.9 328L59.7 329L59.4 330L59.2 331L59.0 332L58.7 333L58.5 334L58.3 335L58.0 336L57.8 337L57.5 338L57.3 339L57 340L55 340Z" fill="#78d880"/>
<path d="M56 272L56.2 273L56.4 274L56.6 275L56.9 276L57.1 277L57.3 278L57.5 279L57.7 280L57.9 281L58.1 282L58.3 283L58.5 284L58.6 285L58.8 286L59.0 287L59.2 288L59.4 289L59.6 290L59.7 291L59.9 292L60.1 293L60.2 294L60.4 295L60.6 296L60.7 297L60.9 298L61.0 299L61.2 300L61.3 301L61.4 302L61.6 303L61.7 304L61.8 305L62.0 306L62.1 307L62.2 308L62.3 309L62.3 310L62.4 311L62.5 312L62.5 313L62.4 314L62.3 315L62.1 316L62.0 317L61.8 318L61.7 319L61.5 320L61.3 321L61.1 322L60.9 323L60.7 324L60.5 325L60.3 326L60.1 327L59.9 328L59.7 329L59.4 330L59.2 331L59.0 332L58.7 333L58.5 334L58.3 335L58.0 336L57.8 337L57.5 338L57.3 339L57 340" fill="none" stroke="#525252" stroke-width="1"/>
<path d="M64 295h1v65h-1z" fill="#fff"/>
<path d="M65 295L66 295L66.3 296L66.6 297L66.9 298L67.3 299L67.6 300L67.9 301L68.2 302L68.5 303L68.7 304L69.0 305L69.3 306L69.6 307L69.9 308L70.1 309L70.4 310L70.6 311L70.9 312L71.1 313L71.4 314L71.6 315L71.8 316L72.1 317L72.3 318L72.5 319L72.7 320L72.9 321L73.0 322L73.2 323L73.4 324L73.5 325L73.6 326L73.7 327L73.7 328L73.6 329L73.5 330L73.4 331L73.2 332L73.1 333L72.9 334L72.7 335L72.6 336L72.4 337L72.2 338L72.0 339L71.8 340L71.6 341L71.4 342L71.2 343L70.9 344L70.7 345L70.5 346L70.3 347L70.0 348L69.8 349L69.5 350L69.3 351L69.1 352L68.8 353L68.6 354L68.3 355L68.1 356L67.8 357L67.5 358L67.3 359L67 360L65 360Z" fill="#70c880"/>
<path d="M66 295L66.3 296L66.6 297L66.9 298L67.3 299L67.6 300L67.9 301L68.2 302L68.5 303L68.7 304L69.0 305L69.3 306L69.6 307L69.9 308L70.1 309L70.4 310L70.6 311L70.9 312L71.1 313L71.4 314L71.6 315L71.8 316L72.1 317L72.3 318L72.5 319L72.7 320L72.9 321L73.0 322L73.2 323L73.4 324L73.5 325L73.6 326L73.7 327L73.7 328L73.6 329L73.5 330L73.4 331L73.2 332L73.1 333L72.9 334L72.7 335L72.6 336L72.4 337L72.2 338L72.0 339L71.8 340L71.6 341L71.4 342L71.2 343L70.9 344L70.7 345L70.5 346L70.3 347L70.0 348L69.8 349L69.5 350L69.3 351L69.1 352L68.8 353L68.6 354L68.3 355L68.1 356L67.8 357L67.5 358L67.3 359L67 360" fill="none" stroke="#525252" stroke-width="1"/>
<path d="M75 271h2v20h-2zM75 352h2v14h-2z" fill="#b0b0b0"/>
<path d="M75 291h1v61h-1z" fill="#fff"/>
<path d="M76 291L77 291L77.3 292L77.7 293L78.0 294L78.3 295L78.6 296L78.9 297L79.2 298L79.5 299L79.8 300L80.0 301L80.3 302L80.6 303L80.8 304L81.1 305L81.3 306L81.6 307L81.8 308L82.0 309L82.2 310L82.4 311L82.6 312L82.7 313L82.9 314L83.0 315L83.0 316L82.9 317L82.9 318L82.8 319L82.7 320L82.6 321L82.5 322L82.4 323L82.3 324L82.1 325L82.0 326L81.9 327L81.8 328L81.6 329L81.5 330L81.4 331L81.2 332L81.1 333L80.9 334L80.8 335L80.6 336L80.5 337L80.3 338L80.2 339L80.0 340L79.9 341L79.7 342L79.5 343L79.4 344L79.2 345L79.0 346L78.9 347L78.7 348L78.5 349L78.4 350L78.2 351L78 352L76 352Z" fill="#70c880"/>
<path d="M77 291L77.3 292L77.7 293L78.0 294L78.3 295L78.6 296L78.9 297L79.2 298L79.5 299L79.8 300L80.0 301L80.3 302L80.6 303L80.8 304L81.1 305L81.3 306L81.6 307L81.8 308L82.0 309L82.2 310L82.4 311L82.6 312L82.7 313L82.9 314L83.0 315L83.0 316L82.9 317L82.9 318L82.8 319L82.7 320L82.6 321L82.5 322L82.4 323L82.3 324L82.1 325L82.0 326L81.9 327L81.8 328L81.6 329L81.5 330L81.4 331L81.2 332L81.1 333L80.9 334L80.8 335L80.6 336L80.5 337L80.3 338L80.2 339L80.0 340L79.9 341L79.7 342L79.5 343L79.4 344L79.2 345L79.0 346L78.9 347L78.7 348L78.5 349L78.4 350L78.2 351L78 352" fill="none" stroke="#525252" stroke-width="1"/>
<path d="M86 293h1v52h-1z" fill="#fff"/>
<path d="M87 293L88 293L88.4 294L88.9 295L89.3 296L89.7 297L90.1 298L90.5 299L90.9 300L91.3 301L91.7 302L92.0 303L92.4 304L92.7 305L93.0 306L93.3 307L93.6 308L93.9 309L94.1 310L94.3 311L94.5 312L94.5 313L94.4 314L94.3 315L94.2 316L94.1 317L94.0 318L93.8 319L93.7 320L93.5 321L93.4 322L93.2 323L93.1 324L92.9 325L92.7 326L92.6 327L92.4 328L92.2 329L92.0 330L91.9 331L91.7 332L91.5 333L91.3 334L91.1 335L90.9 336L90.7 337L90.5 338L90.3 339L90.1 340L89.9 341L89.6 342L89.4 343L89.2 344L89 345L87 345Z" fill="#78d080"/>
<path d="M88 293L88.4 294L88.9 295L89.3 296L89.7 297L90.1 298L90.5 299L90.9 300L91.3 301L91.7 302L92.0 303L92.4 304L92.7 305L93.0 306L93.3 307L93.6 308L93.9 309L94.1 310L94.3 311L94.5 312L94.5 313L94.4 314L94.3 315L94.2 316L94.1 317L94.0 318L93.8 319L93.7 320L93.5 321L93.4 322L93.2 323L93.1 324L92.9 325L92.7 326L92.6 327L92.4 328L92.2 329L92.0 330L91.9 331L91.7 332L91.5 333L91.3 334L91.1 335L90.9 336L90.7 337L90.5 338L90.3 339L90.1 340L89.9 341L89.6 342L89.4 343L89.2 344L89 345" fill="none" stroke="#525252" stroke-width="1"/>
<path d="M97 283h1v57h-1z" fill="#fff"/>
<path d="M98 283L99 283L99.3 284L99.7 285L100.0 286L100.3 287L100.7 288L101.0 289L101.3 290L101.6 291L101.9 292L102.2 293L102.5 294L102.7 295L103.0 296L103.3 297L103.5 298L103.8 299L104.0 300L104.3 301L104.5 302L104.7 303L104.9 304L105.1 305L105.2 306L105.4 307L105.5 308L105.5 309L105.4 310L105.3 311L105.2 312L105.1 313L104.9 314L104.8 315L104.7 316L104.5 317L104.3 318L104.2 319L104.0 320L103.8 321L103.7 322L103.5 323L103.3 324L103.1 325L102.9 326L102.7 327L102.5 328L102.4 329L102.2 330L101.9 331L101.7 332L101.5 333L101.3 334L101.1 335L100.9 336L100.7 337L100.4 338L100.2 339L100 340L98 340Z" fill="#80d880"/>
<path d="M99 283L99.3 284L99.7 285L100.0 286L100.3 287L100.7 288L101.0 289L101.3 290L101.6 291L101.9 292L102.2 293L102.5 294L102.7 295L103.0 296L103.3 297L103.5 298L103.8 299L104.0 300L104.3 301L104.5 302L104.7 303L104.9 304L105.1 305L105.2 306L105.4 307L105.5 308L105.5 309L105.4 310L105.3 311L105.2 312L105.1 313L104.9 314L104.8 315L104.7 316L104.5 317L104.3 318L104.2 319L104.0 320L103.8 321L103.7 322L103.5 323L103.3 324L103.1 325L102.9 326L102.7 327L102.5 328L102.4 329L102.2 330L101.9 331L101.7 332L101.5 333L101.3 334L101.1 335L100.9 336L100.7 337L100.4 338L100.2 339L100 340" fill="none" stroke="#525252" stroke-width="1"/>
<path d="M108 280h1v50h-1z" fill="#fff"/>
<path d="M109 280L110 280L110.3 281L110.6 282L110.9 283L111.2 284L111.5 285L111.8 286L112.1 287L112.4 288L112.7 289L112.9 290L113.2 291L113.5 292L113.7 293L114.0 294L114.2 295L114.4 296L114.6 297L114.9 298L115.1 299L115.2 300L115.4 301L115.6 302L115.7 303L115.9 304L116.0 305L116.0 306L115.9 307L115.8 308L115.6 309L115.5 310L115.3 311L115.1 312L114.9 313L114.7 314L114.6 315L114.3 316L114.1 317L113.9 318L113.7 319L113.5 320L113.2 321L113.0 322L112.8 323L112.5 324L112.3 325L112.0 326L111.8 327L111.5 328L111.3 329L111 330L109 330Z" fill="#80d880"/>
<path d="M110 280L110.3 281L110.6 282L110.9 283L111.2 284L111.5 285L111.8 286L112.1 287L112.4 288L112.7 289L112.9 290L113.2 291L113.5 292L113.7 293L114.0 294L114.2 295L114.4 296L114.6 297L114.9 298L115.1 299L115.2 300L115.4 301L115.6 302L115.7 303L115.9 304L116.0 305L116.0 306L115.9 307L115.8 308L115.6 309L115.5 310L115.3 311L115.1 312L114.9 313L114.7 314L114.6 315L114.3 316L114.1 317L113.9 318L113.7 319L113.5 320L113.2 321L113.0 322L112.8 323L112.5 324L112.3 325L112.0 326L111.8 327L111.5 328L111.3 329L111 330" fill="none" stroke="#525252" stroke-width="1"/>
<path d="M118 277h1v53h-1z" fill="#fff"/>
<path d="M119 277L120 277L120.4 278L120.7 279L121.1 280L121.4 281L121.8 282L122.1 283L122.5 284L122.8 285L123.1 286L123.4 287L123.7 288L124.0 289L124.3 290L124.6 291L124.9 292L125.2 293L125.5 294L125.7 295L126.0 296L126.2 297L126.4 298L126.6 299L126.8 300L127.0 301L127.2 302L127.4 303L127.5 304L127.5 305L127.3 306L127.2 307L127.0 308L126.8 309L126.6 310L126.4 311L126.2 312L125.9 313L125.7 314L125.4 315L125.2 316L124.9 317L124.6 318L124.4 319L124.1 320L123.8 321L123.5 322L123.2 323L122.9 324L122.6 325L122.3 326L122.0 327L121.6 328L121.3 329L121 330L119 330Z" fill="#88e088"/>
<path d="M120 277L120.4 278L120.7 279L121.1 280L121.4 281L121.8 282L122.1 283L122.5 284L122.8 285L123.1 286L123.4 287L123.7 288L124.0 289L124.3 290L124.6 291L124.9 292L125.2 293L125.5 294L125.7 295L126.0 296L126.2 297L126.4 298L126.6 299L126.8 300L127.0 301L127.2 302L127.4 303L127.5 304L127.5 305L127.3 306L127.2 307L127.0 308L126.8 309L126.6 310L126.4 311L126.2 312L125.9 313L125.7 314L125.4 315L125.2 316L124.9 317L124.6 318L124.4 319L124.1 320L123.8 321L123.5 322L123.2 323L122.9 324L122.6 325L122.3 326L122.0 327L121.6 328L121.3 329L121 330" fill="none" stroke="#525252" stroke-width="1"/>
<path d="M129 278h1v52h-1z" fill="#fff"/>
<path d="M130 278L131 278L131.3 279L131.6 280L131.9 281L132.3 282L132.6 283L132.9 284L133.1 285L133.4 286L133.7 287L134.0 288L134.3 289L134.5 290L134.8 291L135.1 292L135.3 293L135.6 294L135.8 295L136.0 296L136.3 297L136.5 298L136.7 299L136.9 300L137.1 301L137.3 302L137.4 303L137.6 304L137.7 305L137.9 306L138.0 307L138.0 308L137.8 309L137.7 310L137.5 311L137.3 312L137.0 313L136.8 314L136.6 315L136.3 316L136.0 317L135.8 318L135.5 319L135.2 320L134.9 321L134.6 322L134.3 323L134.0 324L133.7 325L133.3 326L133.0 327L132.7 328L132.3 329L132 330L130 330Z" fill="#80d880"/>
<path d="M131 278L131.3 279L131.6 280L131.9 281L132.3 282L132.6 283L132.9 284L133.1 285L133.4 286L133.7 287L134.0 288L134.3 289L134.5 290L134.8 291L135.1 292L135.3 293L135.6 294L135.8 295L136.0 296L136.3 297L136.5 298L136.7 299L136.9 300L137.1 301L137.3 302L137.4 303L137.6 304L137.7 305L137.9 306L138.0 307L138.0 308L137.8 309L137.7 310L137.5 311L137.3 312L137.0 313L136.8 314L136.6 315L136.3 316L136.0 317L135.8 318L135.5 319L135.2 320L134.9 321L134.6 322L134.3 323L134.0 324L133.7 325L133.3 326L133.0 327L132.7 328L132.3 329L132 330" fill="none" stroke="#525252" stroke-width="1"/>
<path d="M140 268h2v14h-2zM140 338h2v7h-2z" fill="#b0b0b0"/>
<path d="M140 282h1v56h-1z" fill="#fff"/>
<path d="M141 282L142 282L142.3 283L142.7 284L143.0 285L143.4 286L143.7 287L144.0 288L144.3 289L144.6 290L144.9 291L145.2 292L145.5 293L145.8 294L146.1 295L146.4 296L146.6 297L146.9 298L147.1 299L147.4 300L147.6 301L147.8 302L148.0 303L148.2 304L148.4 305L148.5 306L148.7 307L148.8 308L148.7 309L148.6 310L148.5 311L148.3 312L148.2 313L148.0 314L147.9 315L147.7 316L147.6 317L147.4 318L147.2 319L147.0 320L146.8 321L146.6 322L146.4 323L146.2 324L146.0 325L145.8 326L145.6 327L145.4 328L145.1 329L144.9 330L144.7 331L144.4 332L144.2 333L144.0 334L143.7 335L143.5 336L143.2 337L143 338L141 338Z" fill="#78d080"/>
<path d="M142 282L142.3 283L142.7 284L143.0 285L143.4 286L143.7 287L144.0 288L144.3 289L144.6 290L144.9 291L145.2 292L145.5 293L145.8 294L146.1 295L146.4 296L146.6 297L146.9 298L147.1 299L147.4 300L147.6 301L147.8 302L148.0 303L148.2 304L148.4 305L148.5 306L148.7 307L148.8 308L148.7 309L148.6 310L148.5 311L148.3 312L148.2 313L148.0 314L147.9 315L147.7 316L147.6 317L147.4 318L147.2 319L147.0 320L146.8 321L146.6 322L146.4 323L146.2 324L146.0 325L145.8 326L145.6 327L145.4 328L145.1 329L144.9 330L144.7 331L144.4 332L144.2 333L144.0 334L143.7 335L143.5 336L143.2 337L143 338" fill="none" stroke="#525252" stroke-width="1"/>
<path d="M151 287h1v62h-1z" fill="#fff"/>
<path d="M152 287L153 287L153.3 288L153.6 289L153.9 290L154.1 291L154.4 292L154.7 293L155.0 294L155.2 295L155.5 296L155.7 297L156.0 298L156.2 299L156.5 300L156.7 301L157.0 302L157.2 303L157.4 304L157.6 305L157.8 306L158.0 307L158.2 308L158.4 309L158.6 310L158.8 311L158.9 312L159.1 313L159.2 314L159.3 315L159.4 316L159.5 317L159.4 318L159.4 319L159.3 320L159.1 321L159.0 322L158.9 323L158.7 324L158.6 325L158.4 326L158.3 327L158.1 328L158.0 329L157.8 330L157.6 331L157.4 332L157.3 333L157.1 334L156.9 335L156.7 336L156.5 337L156.3 338L156.1 339L155.9 340L155.7 341L155.5 342L155.3 343L155.1 344L154.9 345L154.7 346L154.4 347L154.2 348L154 349L152 349Z" fill="#70c880"/>
<path d="M153 287L153.3 288L153.6 289L153.9 290L154.1 291L154.4 292L154.7 293L155.0 294L155.2 295L155.5 296L155.7 297L156.0 298L156.2 299L156.5 300L156.7 301L157.0 302L157.2 303L157.4 304L157.6 305L157.8 306L158.0 307L158.2 308L158.4 309L158.6 310L158.8 311L158.9 312L159.1 313L159.2 314L159.3 315L159.4 316L159.5 317L159.4 318L159.4 319L159.3 320L159.1 321L159.0 322L158.9 323L158.7 324L158.6 325L158.4 326L158.3 327L158.1 328L158.0 329L157.8 330L157.6 331L157.4 332L157.3 333L157.1 334L156.9 335L156.7 336L156.5 337L156.3 338L156.1 339L155.9 340L155.7 341L155.5 342L155.3 343L155.1 344L154.9 345L154.7 346L154.4 347L154.2 348L154 349" fill="none" stroke="#525252" stroke-width="1"/>
<path d="M162 287h1v63h-1z" fill="#fff"/>
<path d="M163 287L164 287L164.2 288L164.5 289L164.7 290L165.0 291L165.2 292L165.5 293L165.7 294L165.9 295L166.1 296L166.4 297L166.6 298L166.8 299L167.0 300L167.2 301L167.4 302L167.7 303L167.9 304L168.0 305L168.2 306L168.4 307L168.6 308L168.8 309L169.0 310L169.1 311L169.3 312L169.5 313L169.6 314L169.8 315L169.9 316L170.0 317L170.2 318L170.3 319L170.4 320L170.4 321L170.5 322L170.4 323L170.3 324L170.2 325L170.1 326L169.9 327L169.8 328L169.6 329L169.4 330L169.2 331L169.1 332L168.9 333L168.7 334L168.5 335L168.3 336L168.1 337L167.8 338L167.6 339L167.4 340L167.2 341L166.9 342L166.7 343L166.5 344L166.2 345L166.0 346L165.8 347L165.5 348L165.3 349L165 350L163 350Z" fill="#70c880"/>
<path d="M164 287L164.2 288L164.5 289L164.7 290L165.0 291L165.2 292L165.5 293L165.7 294L165.9 295L166.1 296L166.4 297L166.6 298L166.8 299L167.0 300L167.2 301L167.4 302L167.7 303L167.9 304L168.0 305L168.2 306L168.4 307L168.6 308L168.8 309L169.0 310L169.1 311L169.3 312L169.5 313L169.6 314L169.8 315L169.9 316L170.0 317L170.2 318L170.3 319L170.4 320L170.4 321L170.5 322L170.4 323L170.3 324L170.2 325L170.1 326L169.9 327L169.8 328L169.6 329L169.4 330L169.2 331L169.1 332L168.9 333L168.7 334L168.5 335L168.3 336L168.1 337L167.8 338L167.6 339L167.4 340L167.2 341L166.9 342L166.7 343L166.5 344L166.2 345L166.0 346L165.8 347L165.5 348L165.3 349L165 350" fill="none" stroke="#525252" stroke-width="1"/>
<path d="M172 290h1v65h-1z" fill="#fff"/>
<path d="M173 290L174 290L174.3 291L174.5 292L174.8 293L175.1 294L175.4 295L175.6 296L175.9 297L176.1 298L176.4 299L176.6 300L176.9 301L177.1 302L177.4 303L177.6 304L177.8 305L178.1 306L178.3 307L178.5 308L178.7 309L178.9 310L179.1 311L179.3 312L179.5 313L179.7 314L179.9 315L180.1 316L180.3 317L180.5 318L180.6 319L180.8 320L180.9 321L181.1 322L181.2 323L181.3 324L181.4 325L181.5 326L181.5 327L181.4 328L181.2 329L181.1 330L180.9 331L180.7 332L180.5 333L180.3 334L180.1 335L179.9 336L179.7 337L179.5 338L179.3 339L179.0 340L178.8 341L178.5 342L178.3 343L178.0 344L177.8 345L177.5 346L177.3 347L177.0 348L176.7 349L176.4 350L176.2 351L175.9 352L175.6 353L175.3 354L175 355L173 355Z" fill="#78c888"/>
<path d="M174 290L174.3 291L174.5 292L174.8 293L175.1 294L175.4 295L175.6 296L175.9 297L176.1 298L176.4 299L176.6 300L176.9 301L177.1 302L177.4 303L177.6 304L177.8 305L178.1 306L178.3 307L178.5 308L178.7 309L178.9 310L179.1 311L179.3 312L179.5 313L179.7 314L179.9 315L180.1 316L180.3 317L180.5 318L180.6 319L180.8 320L180.9 321L181.1 322L181.2 323L181.3 324L181.4 325L181.5 326L181.5 327L181.4 328L181.2 329L181.1 330L180.9 331L180.7 332L180.5 333L180.3 334L180.1 335L179.9 336L179.7 337L179.5 338L179.3 339L179.0 340L178.8 341L178.5 342L178.3 343L178.0 344L177.8 345L177.5 346L177.3 347L177.0 348L176.7 349L176.4 350L176.2 351L175.9 352L175.6 353L175.3 354L175 355" fill="none" stroke="#525252" stroke-width="1"/>
<path d="M183 293h1v67h-1z" fill="#fff"/>
<path d="M184 293L185 293L185.2 294L185.5 295L185.7 296L186.0 297L186.2 298L186.4 299L186.7 300L186.9 301L187.1 302L187.4 303L187.6 304L187.8 305L188.0 306L188.2 307L188.4 308L188.7 309L188.9 310L189.1 311L189.3 312L189.4 313L189.6 314L189.8 315L190.0 316L190.2 317L190.4 318L190.5 319L190.7 320L190.8 321L191.0 322L191.1 323L191.3 324L191.4 325L191.5 326L191.7 327L191.8 328L191.9 329L191.9 330L192.0 331L191.9 332L191.8 333L191.7 334L191.5 335L191.4 336L191.2 337L191.1 338L190.9 339L190.7 340L190.5 341L190.3 342L190.1 343L189.9 344L189.7 345L189.4 346L189.2 347L189.0 348L188.8 349L188.5 350L188.3 351L188.0 352L187.8 353L187.6 354L187.3 355L187.0 356L186.8 357L186.5 358L186.3 359L186 360L184 360Z" fill="#80c890"/>
<path d="M185 293L185.2 294L185.5 295L185.7 296L186.0 297L186.2 298L186.4 299L186.7 300L186.9 301L187.1 302L187.4 303L187.6 304L187.8 305L188.0 306L188.2 307L188.4 308L188.7 309L188.9 310L189.1 311L189.3 312L189.4 313L189.6 314L189.8 315L190.0 316L190.2 317L190.4 318L190.5 319L190.7 320L190.8 321L191.0 322L191.1 323L191.3 324L191.4 325L191.5 326L191.7 327L191.8 328L191.9 329L191.9 330L192.0 331L191.9 332L191.8 333L191.7 334L191.5 335L191.4 336L191.2 337L191.1 338L190.9 339L190.7 340L190.5 341L190.3 342L190.1 343L189.9 344L189.7 345L189.4 346L189.2 347L189.0 348L188.8 349L188.5 350L188.3 351L188.0 352L187.8 353L187.6 354L187.3 355L187.0 356L186.8 357L186.5 358L186.3 359L186 360" fill="none" stroke="#525252" stroke-width="1"/>
<path d="M194 298h1v67h-1z" fill="#fff"/>
<path d="M195 298L196 298L196.3 299L196.5 300L196.8 301L197.0 302L197.3 303L197.5 304L197.8 305L198.0 306L198.2 307L198.5 308L198.7 309L198.9 310L199.2 311L199.4 312L199.6 313L199.8 314L200.0 315L200.2 316L200.4 317L200.6 318L200.8 319L201.0 320L201.1 321L201.3 322L201.5 323L201.6 324L201.8 325L201.9 326L202.1 327L202.2 328L202.3 329L202.4 330L202.5 331L202.5 332L202.4 333L202.3 334L202.2 335L202.1 336L202.0 337L201.9 338L201.7 339L201.6 340L201.4 341L201.3 342L201.1 343L201.0 344L200.8 345L200.7 346L200.5 347L200.3 348L200.1 349L200.0 350L199.8 351L199.6 352L199.4 353L199.2 354L199.0 355L198.8 356L198.6 357L198.4 358L198.2 359L198.0 360L197.8 361L197.6 362L197.4 363L197.2 364L197 365L195 365Z" fill="#88c8a0"/>
<path d="M196 298L196.3 299L196.5 300L196.8 301L197.0 302L197.3 303L197.5 304L197.8 305L198.0 306L198.2 307L198.5 308L198.7 309L198.9 310L199.2 311L199.4 312L199.6 313L199.8 314L200.0 315L200.2 316L200.4 317L200.6 318L200.8 319L201.0 320L201.1 321L201.3 322L201.5 323L201.6 324L201.8 325L201.9 326L202.1 327L202.2 328L202.3 329L202.4 330L202.5 331L202.5 332L202.4 333L202.3 334L202.2 335L202.1 336L202.0 337L201.9 338L201.7 339L201.6 340L201.4 341L201.3 342L201.1 343L201.0 344L200.8 345L200.7 346L200.5 347L200.3 348L200.1 349L200.0 350L199.8 351L199.6 352L199.4 353L199.2 354L199.0 355L198.8 356L198.6 357L198.4 358L198.2 359L198.0 360L197.8 361L197.6 362L197.4 363L197.2 364L197 365" fill="none" stroke="#525252" stroke-width="1"/>
<path d="M205 282h2v19h-2zM205 370h2v7h-2z" fill="#b0b0b0"/>
<path d="M205 301h1v69h-1z" fill="#fff"/>
<path d="M206 301L207 301L207.3 302L207.5 303L207.8 304L208.0 305L208.3 306L208.5 307L208.7 308L209.0 309L209.2 310L209.4 311L209.7 312L209.9 313L210.1 314L210.3 315L210.5 316L210.7 317L211.0 318L211.2 319L211.3 320L211.5 321L211.7 322L211.9 323L212.1 324L212.3 325L212.4 326L212.6 327L212.7 328L212.9 329L213.0 330L213.1 331L213.3 332L213.4 333L213.4 334L213.5 335L213.5 336L213.4 337L213.3 338L213.2 339L213.1 340L213.0 341L212.8 342L212.7 343L212.6 344L212.4 345L212.3 346L212.1 347L212.0 348L211.8 349L211.7 350L211.5 351L211.4 352L211.2 353L211.0 354L210.8 355L210.7 356L210.5 357L210.3 358L210.1 359L209.9 360L209.8 361L209.6 362L209.4 363L209.2 364L209.0 365L208.8 366L208.6 367L208.4 368L208.2 369L208 370L206 370Z" fill="#88c8a8"/>
<path d="M207 301L207.3 302L207.5 303L207.8 304L208.0 305L208.3 306L208.5 307L208.7 308L209.0 309L209.2 310L209.4 311L209.7 312L209.9 313L210.1 314L210.3 315L210.5 316L210.7 317L211.0 318L211.2 319L211.3 320L211.5 321L211.7 322L211.9 323L212.1 324L212.3 325L212.4 326L212.6 327L212.7 328L212.9 329L213.0 330L213.1 331L213.3 332L213.4 333L213.4 334L213.5 335L213.5 336L213.4 337L213.3 338L213.2 339L213.1 340L213.0 341L212.8 342L212.7 343L212.6 344L212.4 345L212.3 346L212.1 347L212.0 348L211.8 349L211.7 350L211.5 351L211.4 352L211.2 353L211.0 354L210.8 355L210.7 356L210.5 357L210.3 358L210.1 359L209.9 360L209.8 361L209.6 362L209.4 363L209.2 364L209.0 365L208.8 366L208.6 367L208.4 368L208.2 369L208 370" fill="none" stroke="#525252" stroke-width="1"/>
<path d="M216 298h1v76h-1z" fill="#fff"/>
<path d="M217 298L218 298L218.2 299L218.4 300L218.6 301L218.8 302L219.0 303L219.2 304L219.4 305L219.6 306L219.7 307L219.9 308L220.1 309L220.3 310L220.5 311L220.7 312L220.8 313L221.0 314L221.2 315L221.3 316L221.5 317L221.7 318L221.8 319L222.0 320L222.1 321L222.3 322L222.5 323L222.6 324L222.7 325L222.9 326L223.0 327L223.2 328L223.3 329L223.4 330L223.5 331L223.7 332L223.8 333L223.9 334L224.0 335L224.1 336L224.2 337L224.3 338L224.4 339L224.4 340L224.5 341L224.5 342L224.4 343L224.3 344L224.2 345L224.1 346L224.0 347L223.8 348L223.7 349L223.5 350L223.4 351L223.2 352L223.1 353L222.9 354L222.7 355L222.6 356L222.4 357L222.2 358L222.0 359L221.9 360L221.7 361L221.5 362L221.3 363L221.1 364L220.9 365L220.7 366L220.5 367L220.3 368L220.1 369L219.9 370L219.6 371L219.4 372L219.2 373L219 374L217 374Z" fill="#98c8c8"/>
<path d="M218 298L218.2 299L218.4 300L218.6 301L218.8 302L219.0 303L219.2 304L219.4 305L219.6 306L219.7 307L219.9 308L220.1 309L220.3 310L220.5 311L220.7 312L220.8 313L221.0 314L221.2 315L221.3 316L221.5 317L221.7 318L221.8 319L222.0 320L222.1 321L222.3 322L222.5 323L222.6 324L222.7 325L222.9 326L223.0 327L223.2 328L223.3 329L223.4 330L223.5 331L223.7 332L223.8 333L223.9 334L224.0 335L224.1 336L224.2 337L224.3 338L224.4 339L224.4 340L224.5 341L224.5 342L224.4 343L224.3 344L224.2 345L224.1 346L224.0 347L223.8 348L223.7 349L223.5 350L223.4 351L223.2 352L223.1 353L222.9 354L222.7 355L222.6 356L222.4 357L222.2 358L222.0 359L221.9 360L221.7 361L221.5 362L221.3 363L221.1 364L220.9 365L220.7 366L220.5 367L220.3 368L220.1 369L219.9 370L219.6 371L219.4 372L219.2 373L219 374" fill="none" stroke="#525252" stroke-width="1"/>
<path d="M227 297h1v82h-1z" fill="#fff"/>
<path d="M228 297L229 297L229.2 298L229.3 299L229.5 300L229.6 301L229.8 302L230.0 303L230.1 304L230.3 305L230.4 306L230.6 307L230.7 308L230.9 309L231.0 310L231.1 311L231.3 312L231.4 313L231.6 314L231.7 315L231.9 316L232.0 317L232.1 318L232.3 319L232.4 320L232.5 321L232.6 322L232.8 323L232.9 324L233.0 325L233.1 326L233.3 327L233.4 328L233.5 329L233.6 330L233.7 331L233.8 332L233.9 333L234.0 334L234.1 335L234.2 336L234.3 337L234.4 338L234.5 339L234.6 340L234.7 341L234.7 342L234.8 343L234.9 344L234.9 345L235.0 346L235.0 347L235.0 348L234.9 349L234.8 350L234.7 351L234.6 352L234.4 353L234.3 354L234.2 355L234.1 356L233.9 357L233.8 358L233.6 359L233.5 360L233.3 361L233.1 362L233.0 363L232.8 364L232.6 365L232.5 366L232.3 367L232.1 368L231.9 369L231.7 370L231.6 371L231.4 372L231.2 373L231.0 374L230.8 375L230.6 376L230.4 377L230.2 378L230 379L228 379Z" fill="#b0d0f8"/>
<path d="M229 297L229.2 298L229.3 299L229.5 300L229.6 301L229.8 302L230.0 303L230.1 304L230.3 305L230.4 306L230.6 307L230.7 308L230.9 309L231.0 310L231.1 311L231.3 312L231.4 313L231.6 314L231.7 315L231.9 316L232.0 317L232.1 318L232.3 319L232.4 320L232.5 321L232.6 322L232.8 323L232.9 324L233.0 325L233.1 326L233.3 327L233.4 328L233.5 329L233.6 330L233.7 331L233.8 332L233.9 333L234.0 334L234.1 335L234.2 336L234.3 337L234.4 338L234.5 339L234.6 340L234.7 341L234.7 342L234.8 343L234.9 344L234.9 345L235.0 346L235.0 347L235.0 348L234.9 349L234.8 350L234.7 351L234.6 352L234.4 353L234.3 354L234.2 355L234.1 356L233.9 357L233.8 358L233.6 359L233.5 360L233.3 361L233.1 362L233.0 363L232.8 364L232.6 365L232.5 366L232.3 367L232.1 368L231.9 369L231.7 370L231.6 371L231.4 372L231.2 373L231.0 374L230.8 375L230.6 376L230.4 377L230.2 378L230 379" fill="none" stroke="#525252" stroke-width="1"/>
<path d="M237 297h1v87h-1z" fill="#fff"/>
<path d="M238 297L239 297L239.2 298L239.3 299L239.4 300L239.6 301L239.7 302L239.9 303L240.0 304L240.2 305L240.3 306L240.5 307L240.6 308L240.7 309L240.9 310L241.0 311L241.2 312L241.3 313L241.4 314L241.6 315L241.7 316L241.8 317L242.0 318L242.1 319L242.2 320L242.3 321L242.5 322L242.6 323L242.7 324L242.8 325L243.0 326L243.1 327L243.2 328L243.3 329L243.4 330L243.5 331L243.6 332L243.7 333L243.9 334L244.0 335L244.1 336L244.2 337L244.3 338L244.4 339L244.5 340L244.5 341L244.6 342L244.7 343L244.8 344L244.9 345L245.0 346L245.1 347L245.1 348L245.2 349L245.3 350L245.3 351L245.4 352L245.4 353L245.5 354L245.5 355L245.4 356L245.3 357L245.2 358L245.1 359L245.0 360L244.8 361L244.6 362L244.5 363L244.3 364L244.1 365L243.9 366L243.8 367L243.6 368L243.4 369L243.2 370L243.0 371L242.8 372L242.5 373L242.3 374L242.1 375L241.9 376L241.7 377L241.4 378L241.2 379L241.0 380L240.7 381L240.5 382L240.2 383L240 384L238 384Z" fill="#d0dcff"/>
<path d="M239 297L239.2 298L239.3 299L239.4 300L239.6 301L239.7 302L239.9 303L240.0 304L240.2 305L240.3 306L240.5 307L240.6 308L240.7 309L240.9 310L241.0 311L241.2 312L241.3 313L241.4 314L241.6 315L241.7 316L241.8 317L242.0 318L242.1 319L242.2 320L242.3 321L242.5 322L242.6 323L242.7 324L242.8 325L243.0 326L243.1 327L243.2 328L243.3 329L243.4 330L243.5 331L243.6 332L243.7 333L243.9 334L244.0 335L244.1 336L244.2 337L244.3 338L244.4 339L244.5 340L244.5 341L244.6 342L244.7 343L244.8 344L244.9 345L245.0 346L245.1 347L245.1 348L245.2 349L245.3 350L245.3 351L245.4 352L245.4 353L245.5 354L245.5 355L245.4 356L245.3 357L245.2 358L245.1 359L245.0 360L244.8 361L244.6 362L244.5 363L244.3 364L244.1 365L243.9 366L243.8 367L243.6 368L243.4 369L243.2 370L243.0 371L242.8 372L242.5 373L242.3 374L242.1 375L241.9 376L241.7 377L241.4 378L241.2 379L241.0 380L240.7 381L240.5 382L240.2 383L240 384" fill="none" stroke="#525252" stroke-width="1"/>
<path d="M248 302h1v88h-1z" fill="#fff"/>
<path d="M249 302L250 302L250.1 303L250.3 304L250.4 305L250.6 306L250.7 307L250.9 308L251.0 309L251.2 310L251.3 311L251.4 312L251.6 313L251.7 314L251.9 315L252.0 316L252.1 317L252.3 318L252.4 319L252.5 320L252.7 321L252.8 322L252.9 323L253.0 324L253.2 325L253.3 326L253.4 327L253.5 328L253.7 329L253.8 330L253.9 331L254.0 332L254.1 333L254.2 334L254.3 335L254.4 336L254.6 337L254.7 338L254.8 339L254.9 340L255.0 341L255.1 342L255.2 343L255.3 344L255.3 345L255.4 346L255.5 347L255.6 348L255.7 349L255.8 350L255.8 351L255.9 352L256.0 353L256.0 354L256.1 355L256.2 356L256.2 357L256.2 358L256.2 359L256.2 360L256.1 361L256.0 362L255.8 363L255.7 364L255.6 365L255.4 366L255.3 367L255.2 368L255.0 369L254.8 370L254.7 371L254.5 372L254.3 373L254.2 374L254.0 375L253.8 376L253.6 377L253.4 378L253.2 379L253.1 380L252.9 381L252.7 382L252.5 383L252.3 384L252.1 385L251.8 386L251.6 387L251.4 388L251.2 389L251 390L249 390Z" fill="#fcecfc"/>
<path d="M250 302L250.1 303L250.3 304L250.4 305L250.6 306L250.7 307L250.9 308L251.0 309L251.2 310L251.3 311L251.4 312L251.6 313L251.7 314L251.9 315L252.0 316L252.1 317L252.3 318L252.4 319L252.5 320L252.7 321L252.8 322L252.9 323L253.0 324L253.2 325L253.3 326L253.4 327L253.5 328L253.7 329L253.8 330L253.9 331L254.0 332L254.1 333L254.2 334L254.3 335L254.4 336L254.6 337L254.7 338L254.8 339L254.9 340L255.0 341L255.1 342L255.2 343L255.3 344L255.3 345L255.4 346L255.5 347L255.6 348L255.7 349L255.8 350L255.8 351L255.9 352L256.0 353L256.0 354L256.1 355L256.2 356L256.2 357L256.2 358L256.2 359L256.2 360L256.1 361L256.0 362L255.8 363L255.7 364L255.6 365L255.4 366L255.3 367L255.2 368L255.0 369L254.8 370L254.7 371L254.5 372L254.3 373L254.2 374L254.0 375L253.8 376L253.6 377L253.4 378L253.2 379L253.1 380L252.9 381L252.7 382L252.5 383L252.3 384L252.1 385L251.8 386L251.6 387L251.4 388L251.2 389L251 390" fill="none" stroke="#525252" stroke-width="1"/>
<path d="M259 303h1v88h-1z" fill="#fff"/>
<path d="M260 303L261 303L261.1 304L261.3 305L261.4 306L261.5 307L261.6 308L261.8 309L261.9 310L262.0 311L262.2 312L262.3 313L262.4 314L262.5 315L262.6 316L262.8 317L262.9 318L263.0 319L263.1 320L263.2 321L263.4 322L263.5 323L263.6 324L263.7 325L263.8 326L263.9 327L264.0 328L264.1 329L264.3 330L264.4 331L264.5 332L264.6 333L264.7 334L264.8 335L264.9 336L265.0 337L265.1 338L265.2 339L265.3 340L265.4 341L265.5 342L265.5 343L265.6 344L265.7 345L265.8 346L265.9 347L266.0 348L266.1 349L266.1 350L266.2 351L266.3 352L266.4 353L266.4 354L266.5 355L266.6 356L266.6 357L266.7 358L266.8 359L266.8 360L266.9 361L266.9 362L267.0 363L267.0 364L267.0 365L266.9 366L266.8 367L266.7 368L266.5 369L266.4 370L266.2 371L266.0 372L265.9 373L265.7 374L265.5 375L265.3 376L265.1 377L264.9 378L264.7 379L264.5 380L264.3 381L264.1 382L263.9 383L263.6 384L263.4 385L263.2 386L263.0 387L262.7 388L262.5 389L262.2 390L262 391L260 391Z" fill="#fce8fc"/>
<path d="M261 303L261.1 304L261.3 305L261.4 306L261.5 307L261.6 308L261.8 309L261.9 310L262.0 311L262.2 312L262.3 313L262.4 314L262.5 315L262.6 316L262.8 317L262.9 318L263.0 319L263.1 320L263.2 321L263.4 322L263.5 323L263.6 324L263.7 325L263.8 326L263.9 327L264.0 328L264.1 329L264.3 330L264.4 331L264.5 332L264.6 333L264.7 334L264.8 335L264.9 336L265.0 337L265.1 338L265.2 339L265.3 340L265.4 341L265.5 342L265.5 343L265.6 344L265.7 345L265.8 346L265.9 347L266.0 348L266.1 349L266.1 350L266.2 351L266.3 352L266.4 353L266.4 354L266.5 355L266.6 356L266.6 357L266.7 358L266.8 359L266.8 360L266.9 361L266.9 362L267.0 363L267.0 364L267.0 365L266.9 366L266.8 367L266.7 368L266.5 369L266.4 370L266.2 371L266.0 372L265.9 373L265.7 374L265.5 375L265.3 376L265.1 377L264.9 378L264.7 379L264.5 380L264.3 381L264.1 382L263.9 383L263.6 384L263.4 385L263.2 386L263.0 387L262.7 388L262.5 389L262.2 390L262 391" fill="none" stroke="#525252" stroke-width="1"/>
<path d="M270 271h2v26h-2zM270 386h2v4h-2z" fill="#b0b0b0"/>
<path d="M270 297h1v89h-1z" fill="#fff"/>
<path d="M271 297L272 297L272.1 298L272.3 299L272.4 300L272.5 301L272.6 302L272.7 303L272.9 304L273.0 305L273.1 306L273.2 307L273.3 308L273.5 309L273.6 310L273.7 311L273.8 312L273.9 313L274.0 314L274.1 315L274.2 316L274.4 317L274.5 318L274.6 319L274.7 320L274.8 321L274.9 322L275.0 323L275.1 324L275.2 325L275.3 326L275.4 327L275.5 328L275.6 329L275.7 330L275.8 331L275.9 332L276.0 333L276.0 334L276.1 335L276.2 336L276.3 337L276.4 338L276.5 339L276.6 340L276.6 341L276.7 342L276.8 343L276.9 344L276.9 345L277.0 346L277.1 347L277.1 348L277.2 349L277.2 350L277.3 351L277.4 352L277.4 353L277.4 354L277.5 355L277.5 356L277.5 357L277.4 358L277.3 359L277.2 360L277.1 361L277.0 362L276.8 363L276.7 364L276.6 365L276.4 366L276.3 367L276.2 368L276.0 369L275.8 370L275.7 371L275.5 372L275.4 373L275.2 374L275.0 375L274.9 376L274.7 377L274.5 378L274.3 379L274.1 380L274.0 381L273.8 382L273.6 383L273.4 384L273.2 385L273 386L271 386Z" fill="#e8e4fc"/>
<path d="M272 297L272.1 298L272.3 299L272.4 300L272.5 301L272.6 302L272.7 303L272.9 304L273.0 305L273.1 306L273.2 307L273.3 308L273.5 309L273.6 310L273.7 311L273.8 312L273.9 313L274.0 314L274.1 315L274.2 316L274.4 317L274.5 318L274.6 319L274.7 320L274.8 321L274.9 322L275.0 323L275.1 324L275.2 325L275.3 326L275.4 327L275.5 328L275.6 329L275.7 330L275.8 331L275.9 332L276.0 333L276.0 334L276.1 335L276.2 336L276.3 337L276.4 338L276.5 339L276.6 340L276.6 341L276.7 342L276.8 343L276.9 344L276.9 345L277.0 346L277.1 347L277.1 348L277.2 349L277.2 350L277.3 351L277.4 352L277.4 353L277.4 354L277.5 355L277.5 356L277.5 357L277.4 358L277.3 359L277.2 360L277.1 361L277.0 362L276.8 363L276.7 364L276.6 365L276.4 366L276.3 367L276.2 368L276.0 369L275.8 370L275.7 371L275.5 372L275.4 373L275.2 374L275.0 375L274.9 376L274.7 377L274.5 378L274.3 379L274.1 380L274.0 381L273.8 382L273.6 383L273.4 384L273.2 385L273 386" fill="none" stroke="#525252" stroke-width="1"/>
<path d="M281 297h1v83h-1z" fill="#fff"/>
<path d="M282 297L283 297L283.1 298L283.3 299L283.4 300L283.6 301L283.7 302L283.9 303L284.0 304L284.2 305L284.3 306L284.4 307L284.6 308L284.7 309L284.9 310L285.0 311L285.1 312L285.2 313L285.4 314L285.5 315L285.6 316L285.8 317L285.9 318L286.0 319L286.1 320L286.3 321L286.4 322L286.5 323L286.6 324L286.7 325L286.8 326L286.9 327L287.1 328L287.2 329L287.3 330L287.4 331L287.5 332L287.6 333L287.7 334L287.8 335L287.9 336L288.0 337L288.0 338L288.1 339L288.2 340L288.3 341L288.4 342L288.4 343L288.5 344L288.6 345L288.6 346L288.7 347L288.7 348L288.8 349L288.7 350L288.6 351L288.5 352L288.4 353L288.3 354L288.2 355L288.1 356L288.0 357L287.8 358L287.7 359L287.5 360L287.4 361L287.2 362L287.1 363L286.9 364L286.8 365L286.6 366L286.4 367L286.2 368L286.1 369L285.9 370L285.7 371L285.5 372L285.3 373L285.2 374L285.0 375L284.8 376L284.6 377L284.4 378L284.2 379L284 380L282 380Z" fill="#b0d0f8"/>
<path d="M283 297L283.1 298L283.3 299L283.4 300L283.6 301L283.7 302L283.9 303L284.0 304L284.2 305L284.3 306L284.4 307L284.6 308L284.7 309L284.9 310L285.0 311L285.1 312L285.2 313L285.4 314L285.5 315L285.6 316L285.8 317L285.9 318L286.0 319L286.1 320L286.3 321L286.4 322L286.5 323L286.6 324L286.7 325L286.8 326L286.9 327L287.1 328L287.2 329L287.3 330L287.4 331L287.5 332L287.6 333L287.7 334L287.8 335L287.9 336L288.0 337L288.0 338L288.1 339L288.2 340L288.3 341L288.4 342L288.4 343L288.5 344L288.6 345L288.6 346L288.7 347L288.7 348L288.8 349L288.7 350L288.6 351L288.5 352L288.4 353L288.3 354L288.2 355L288.1 356L288.0 357L287.8 358L287.7 359L287.5 360L287.4 361L287.2 362L287.1 363L286.9 364L286.8 365L286.6 366L286.4 367L286.2 368L286.1 369L285.9 370L285.7 371L285.5 372L285.3 373L285.2 374L285.0 375L284.8 376L284.6 377L284.4 378L284.2 379L284 380" fill="none" stroke="#525252" stroke-width="1"/>
<path d="M291 300h1v72h-1z" fill="#fff"/>
<path d="M292 300L293 300L293.2 301L293.4 302L293.7 303L293.9 304L294.1 305L294.3 306L294.5 307L294.7 308L294.9 309L295.1 310L295.3 311L295.5 312L295.7 313L295.9 314L296.1 315L296.3 316L296.5 317L296.6 318L296.8 319L297.0 320L297.2 321L297.3 322L297.5 323L297.7 324L297.8 325L298.0 326L298.2 327L298.3 328L298.5 329L298.6 330L298.8 331L298.9 332L299.0 333L299.2 334L299.3 335L299.4 336L299.5 337L299.6 338L299.7 339L299.8 340L299.9 341L300.0 342L300.0 343L299.9 344L299.8 345L299.7 346L299.5 347L299.4 348L299.2 349L299.1 350L298.9 351L298.7 352L298.5 353L298.3 354L298.1 355L297.9 356L297.7 357L297.4 358L297.2 359L297.0 360L296.8 361L296.5 362L296.3 363L296.0 364L295.8 365L295.6 366L295.3 367L295.0 368L294.8 369L294.5 370L294.3 371L294 372L292 372Z" fill="#98c8c8"/>
<path d="M293 300L293.2 301L293.4 302L293.7 303L293.9 304L294.1 305L294.3 306L294.5 307L294.7 308L294.9 309L295.1 310L295.3 311L295.5 312L295.7 313L295.9 314L296.1 315L296.3 316L296.5 317L296.6 318L296.8 319L297.0 320L297.2 321L297.3 322L297.5 323L297.7 324L297.8 325L298.0 326L298.2 327L298.3 328L298.5 329L298.6 330L298.8 331L298.9 332L299.0 333L299.2 334L299.3 335L299.4 336L299.5 337L299.6 338L299.7 339L299.8 340L299.9 341L300.0 342L300.0 343L299.9 344L299.8 345L299.7 346L299.5 347L299.4 348L299.2 349L299.1 350L298.9 351L298.7 352L298.5 353L298.3 354L298.1 355L297.9 356L297.7 357L297.4 358L297.2 359L297.0 360L296.8 361L296.5 362L296.3 363L296.0 364L295.8 365L295.6 366L295.3 367L295.0 368L294.8 369L294.5 370L294.3 371L294 372" fill="none" stroke="#525252" stroke-width="1"/>
<path d="M302 312h1v63h-1z" fill="#fff"/>
<path d="M303 312L304 312L304.3 313L304.6 314L304.9 315L305.1 316L305.4 317L305.7 318L306.0 319L306.2 320L306.5 321L306.7 322L307.0 323L307.2 324L307.5 325L307.7 326L308.0 327L308.2 328L308.4 329L308.6 330L308.8 331L309.0 332L309.2 333L309.4 334L309.6 335L309.8 336L309.9 337L310.1 338L310.2 339L310.3 340L310.4 341L310.5 342L310.4 343L310.4 344L310.3 345L310.2 346L310.0 347L309.9 348L309.8 349L309.6 350L309.5 351L309.3 352L309.2 353L309.0 354L308.9 355L308.7 356L308.5 357L308.4 358L308.2 359L308.0 360L307.8 361L307.6 362L307.4 363L307.3 364L307.1 365L306.9 366L306.7 367L306.5 368L306.3 369L306.1 370L305.8 371L305.6 372L305.4 373L305.2 374L305 375L303 375Z" fill="#b8d8f8"/>
<path d="M304 312L304.3 313L304.6 314L304.9 315L305.1 316L305.4 317L305.7 318L306.0 319L306.2 320L306.5 321L306.7 322L307.0 323L307.2 324L307.5 325L307.7 326L308.0 327L308.2 328L308.4 329L308.6 330L308.8 331L309.0 332L309.2 333L309.4 334L309.6 335L309.8 336L309.9 337L310.1 338L310.2 339L310.3 340L310.4 341L310.5 342L310.4 343L310.4 344L310.3 345L310.2 346L310.0 347L309.9 348L309.8 349L309.6 350L309.5 351L309.3 352L309.2 353L309.0 354L308.9 355L308.7 356L308.5 357L308.4 358L308.2 359L308.0 360L307.8 361L307.6 362L307.4 363L307.3 364L307.1 365L306.9 366L306.7 367L306.5 368L306.3 369L306.1 370L305.8 371L305.6 372L305.4 373L305.2 374L305 375" fill="none" stroke="#525252" stroke-width="1"/>
<path d="M313 315h1v60h-1z" fill="#fff"/>
<path d="M314 315L315 315L315.3 316L315.6 317L315.9 318L316.2 319L316.5 320L316.8 321L317.1 322L317.3 323L317.6 324L317.9 325L318.1 326L318.4 327L318.6 328L318.9 329L319.1 330L319.4 331L319.6 332L319.8 333L320.0 334L320.2 335L320.4 336L320.6 337L320.8 338L321.0 339L321.1 340L321.3 341L321.4 342L321.5 343L321.5 344L321.4 345L321.3 346L321.2 347L321.1 348L320.9 349L320.8 350L320.7 351L320.5 352L320.3 353L320.2 354L320.0 355L319.8 356L319.7 357L319.5 358L319.3 359L319.1 360L318.9 361L318.7 362L318.5 363L318.4 364L318.2 365L317.9 366L317.7 367L317.5 368L317.3 369L317.1 370L316.9 371L316.7 372L316.4 373L316.2 374L316 375L314 375Z" fill="#b8d8f8"/>
<path d="M315 315L315.3 316L315.6 317L315.9 318L316.2 319L316.5 320L316.8 321L317.1 322L317.3 323L317.6 324L317.9 325L318.1 326L318.4 327L318.6 328L318.9 329L319.1 330L319.4 331L319.6 332L319.8 333L320.0 334L320.2 335L320.4 336L320.6 337L320.8 338L321.0 339L321.1 340L321.3 341L321.4 342L321.5 343L321.5 344L321.4 345L321.3 346L321.2 347L321.1 348L320.9 349L320.8 350L320.7 351L320.5 352L320.3 353L320.2 354L320.0 355L319.8 356L319.7 357L319.5 358L319.3 359L319.1 360L318.9 361L318.7 362L318.5 363L318.4 364L318.2 365L317.9 366L317.7 367L317.5 368L317.3 369L317.1 370L316.9 371L316.7 372L316.4 373L316.2 374L316 375" fill="none" stroke="#525252" stroke-width="1"/>
<path d="M324 317h1v58h-1z" fill="#fff"/>
<path d="M325 317L326 317L326.3 318L326.6 319L326.9 320L327.2 321L327.5 322L327.7 323L328.0 324L328.3 325L328.6 326L328.8 327L329.1 328L329.3 329L329.6 330L329.8 331L330.1 332L330.3 333L330.5 334L330.7 335L331.0 336L331.2 337L331.4 338L331.5 339L331.7 340L331.9 341L332.1 342L332.2 343L332.3 344L332.4 345L332.5 346L332.4 347L332.3 348L332.2 349L332.1 350L332.0 351L331.8 352L331.6 353L331.5 354L331.3 355L331.1 356L330.9 357L330.8 358L330.6 359L330.4 360L330.2 361L330.0 362L329.8 363L329.5 364L329.3 365L329.1 366L328.9 367L328.7 368L328.4 369L328.2 370L328.0 371L327.7 372L327.5 373L327.2 374L327 375L325 375Z" fill="#d0dcff"/>
<path d="M326 317L326.3 318L326.6 319L326.9 320L327.2 321L327.5 322L327.7 323L328.0 324L328.3 325L328.6 326L328.8 327L329.1 328L329.3 329L329.6 330L329.8 331L330.1 332L330.3 333L330.5 334L330.7 335L331.0 336L331.2 337L331.4 338L331.5 339L331.7 340L331.9 341L332.1 342L332.2 343L332.3 344L332.4 345L332.5 346L332.4 347L332.3 348L332.2 349L332.1 350L332.0 351L331.8 352L331.6 353L331.5 354L331.3 355L331.1 356L330.9 357L330.8 358L330.6 359L330.4 360L330.2 361L330.0 362L329.8 363L329.5 364L329.3 365L329.1 366L328.9 367L328.7 368L328.4 369L328.2 370L328.0 371L327.7 372L327.5 373L327.2 374L327 375" fill="none" stroke="#525252" stroke-width="1"/>
<path d="M335 302h2v13h-2zM335 376h2v9h-2z" fill="#b0b0b0"/>
<path d="M335 315h1v61h-1z" fill="#fff"/>
<path d="M336 315L337 315L337.3 316L337.5 317L337.8 318L338.0 319L338.3 320L338.5 321L338.8 322L339.0 323L339.2 324L339.5 325L339.7 326L339.9 327L340.1 328L340.3 329L340.5 330L340.7 331L340.9 332L341.1 333L341.3 334L341.5 335L341.7 336L341.9 337L342.0 338L342.2 339L342.3 340L342.5 341L342.6 342L342.7 343L342.9 344L342.9 345L343.0 346L342.9 347L342.9 348L342.8 349L342.6 350L342.5 351L342.4 352L342.3 353L342.1 354L342.0 355L341.8 356L341.7 357L341.5 358L341.3 359L341.2 360L341.0 361L340.8 362L340.6 363L340.4 364L340.2 365L340.1 366L339.9 367L339.7 368L339.5 369L339.3 370L339.1 371L338.8 372L338.6 373L338.4 374L338.2 375L338 376L336 376Z" fill="#d8e0ff"/>
<path d="M337 315L337.3 316L337.5 317L337.8 318L338.0 319L338.3 320L338.5 321L338.8 322L339.0 323L339.2 324L339.5 325L339.7 326L339.9 327L340.1 328L340.3 329L340.5 330L340.7 331L340.9 332L341.1 333L341.3 334L341.5 335L341.7 336L341.9 337L342.0 338L342.2 339L342.3 340L342.5 341L342.6 342L342.7 343L342.9 344L342.9 345L343.0 346L342.9 347L342.9 348L342.8 349L342.6 350L342.5 351L342.4 352L342.3 353L342.1 354L342.0 355L341.8 356L341.7 357L341.5 358L341.3 359L341.2 360L341.0 361L340.8 362L340.6 363L340.4 364L340.2 365L340.1 366L339.9 367L339.7 368L339.5 369L339.3 370L339.1 371L338.8 372L338.6 373L338.4 374L338.2 375L338 376" fill="none" stroke="#525252" stroke-width="1"/>
<path d="M345 313h1v62h-1z" fill="#fff"/>
<path d="M346 313L347 313L347.3 314L347.6 315L347.8 316L348.1 317L348.4 318L348.7 319L348.9 320L349.2 321L349.4 322L349.7 323L349.9 324L350.2 325L350.4 326L350.6 327L350.9 328L351.1 329L351.3 330L351.5 331L351.7 332L352.0 333L352.2 334L352.3 335L352.5 336L352.7 337L352.9 338L353.0 339L353.2 340L353.3 341L353.5 342L353.6 343L353.7 344L353.8 345L353.7 346L353.6 347L353.5 348L353.3 349L353.2 350L353.0 351L352.9 352L352.7 353L352.6 354L352.4 355L352.2 356L352.0 357L351.8 358L351.6 359L351.4 360L351.2 361L351.0 362L350.8 363L350.6 364L350.4 365L350.1 366L349.9 367L349.7 368L349.4 369L349.2 370L349.0 371L348.7 372L348.5 373L348.2 374L348 375L346 375Z" fill="#b8d8f8"/>
<path d="M347 313L347.3 314L347.6 315L347.8 316L348.1 317L348.4 318L348.7 319L348.9 320L349.2 321L349.4 322L349.7 323L349.9 324L350.2 325L350.4 326L350.6 327L350.9 328L351.1 329L351.3 330L351.5 331L351.7 332L352.0 333L352.2 334L352.3 335L352.5 336L352.7 337L352.9 338L353.0 339L353.2 340L353.3 341L353.5 342L353.6 343L353.7 344L353.8 345L353.7 346L353.6 347L353.5 348L353.3 349L353.2 350L353.0 351L352.9 352L352.7 353L352.6 354L352.4 355L352.2 356L352.0 357L351.8 358L351.6 359L351.4 360L351.2 361L351.0 362L350.8 363L350.6 364L350.4 365L350.1 366L349.9 367L349.7 368L349.4 369L349.2 370L349.0 371L348.7 372L348.5 373L348.2 374L348 375" fill="none" stroke="#525252" stroke-width="1"/>
<path d="M356 310h1v64h-1z" fill="#fff"/>
<path d="M357 310L358 310L358.3 311L358.5 312L358.8 313L359.1 314L359.3 315L359.6 316L359.8 317L360.1 318L360.3 319L360.6 320L360.8 321L361.0 322L361.3 323L361.5 324L361.7 325L361.9 326L362.1 327L362.4 328L362.6 329L362.8 330L363.0 331L363.2 332L363.3 333L363.5 334L363.7 335L363.9 336L364.0 337L364.2 338L364.4 339L364.5 340L364.6 341L364.7 342L364.9 343L364.9 344L365.0 345L364.9 346L364.8 347L364.7 348L364.5 349L364.4 350L364.2 351L364.1 352L363.9 353L363.7 354L363.5 355L363.3 356L363.1 357L362.9 358L362.7 359L362.4 360L362.2 361L362.0 362L361.8 363L361.5 364L361.3 365L361.0 366L360.8 367L360.6 368L360.3 369L360.0 370L359.8 371L359.5 372L359.3 373L359 374L357 374Z" fill="#b8d8f8"/>
<path d="M358 310L358.3 311L358.5 312L358.8 313L359.1 314L359.3 315L359.6 316L359.8 317L360.1 318L360.3 319L360.6 320L360.8 321L361.0 322L361.3 323L361.5 324L361.7 325L361.9 326L362.1 327L362.4 328L362.6 329L362.8 330L363.0 331L363.2 332L363.3 333L363.5 334L363.7 335L363.9 336L364.0 337L364.2 338L364.4 339L364.5 340L364.6 341L364.7 342L364.9 343L364.9 344L365.0 345L364.9 346L364.8 347L364.7 348L364.5 349L364.4 350L364.2 351L364.1 352L363.9 353L363.7 354L363.5 355L363.3 356L363.1 357L362.9 358L362.7 359L362.4 360L362.2 361L362.0 362L361.8 363L361.5 364L361.3 365L361.0 366L360.8 367L360.6 368L360.3 369L360.0 370L359.8 371L359.5 372L359.3 373L359 374" fill="none" stroke="#525252" stroke-width="1"/>
<path d="M367 310h1v64h-1z" fill="#fff"/>
<path d="M368 310L369 310L369.2 311L369.5 312L369.7 313L370.0 314L370.2 315L370.5 316L370.7 317L370.9 318L371.1 319L371.4 320L371.6 321L371.8 322L372.0 323L372.2 324L372.4 325L372.7 326L372.9 327L373.0 328L373.2 329L373.4 330L373.6 331L373.8 332L374.0 333L374.1 334L374.3 335L374.5 336L374.6 337L374.8 338L374.9 339L375.0 340L375.2 341L375.3 342L375.4 343L375.4 344L375.5 345L375.4 346L375.3 347L375.2 348L375.1 349L375.0 350L374.8 351L374.6 352L374.5 353L374.3 354L374.1 355L373.9 356L373.8 357L373.6 358L373.4 359L373.2 360L373.0 361L372.8 362L372.5 363L372.3 364L372.1 365L371.9 366L371.7 367L371.4 368L371.2 369L371.0 370L370.7 371L370.5 372L370.2 373L370 374L368 374Z" fill="#b8d8f8"/>
<path d="M369 310L369.2 311L369.5 312L369.7 313L370.0 314L370.2 315L370.5 316L370.7 317L370.9 318L371.1 319L371.4 320L371.6 321L371.8 322L372.0 323L372.2 324L372.4 325L372.7 326L372.9 327L373.0 328L373.2 329L373.4 330L373.6 331L373.8 332L374.0 333L374.1 334L374.3 335L374.5 336L374.6 337L374.8 338L374.9 339L375.0 340L375.2 341L375.3 342L375.4 343L375.4 344L375.5 345L375.4 346L375.3 347L375.2 348L375.1 349L375.0 350L374.8 351L374.6 352L374.5 353L374.3 354L374.1 355L373.9 356L373.8 357L373.6 358L373.4 359L373.2 360L373.0 361L372.8 362L372.5 363L372.3 364L372.1 365L371.9 366L371.7 367L371.4 368L371.2 369L371.0 370L370.7 371L370.5 372L370.2 373L370 374" fill="none" stroke="#525252" stroke-width="1"/>
<path d="M378 312h1v62h-1z" fill="#fff"/>
<path d="M379 312L380 312L380.3 313L380.5 314L380.8 315L381.0 316L381.3 317L381.5 318L381.8 319L382.0 320L382.2 321L382.5 322L382.7 323L382.9 324L383.2 325L383.4 326L383.6 327L383.8 328L384.0 329L384.2 330L384.4 331L384.6 332L384.8 333L385.0 334L385.1 335L385.3 336L385.4 337L385.6 338L385.7 339L385.9 340L386.0 341L386.1 342L386.2 343L386.2 344L386.2 345L386.1 346L386.0 347L385.9 348L385.8 349L385.6 350L385.5 351L385.3 352L385.2 353L385.0 354L384.8 355L384.7 356L384.5 357L384.3 358L384.1 359L383.9 360L383.7 361L383.5 362L383.4 363L383.2 364L382.9 365L382.7 366L382.5 367L382.3 368L382.1 369L381.9 370L381.7 371L381.4 372L381.2 373L381 374L379 374Z" fill="#b8d8f8"/>
<path d="M380 312L380.3 313L380.5 314L380.8 315L381.0 316L381.3 317L381.5 318L381.8 319L382.0 320L382.2 321L382.5 322L382.7 323L382.9 324L383.2 325L383.4 326L383.6 327L383.8 328L384.0 329L384.2 330L384.4 331L384.6 332L384.8 333L385.0 334L385.1 335L385.3 336L385.4 337L385.6 338L385.7 339L385.9 340L386.0 341L386.1 342L386.2 343L386.2 344L386.2 345L386.1 346L386.0 347L385.9 348L385.8 349L385.6 350L385.5 351L385.3 352L385.2 353L385.0 354L384.8 355L384.7 356L384.5 357L384.3 358L384.1 359L383.9 360L383.7 361L383.5 362L383.4 363L383.2 364L382.9 365L382.7 366L382.5 367L382.3 368L382.1 369L381.9 370L381.7 371L381.4 372L381.2 373L381 374" fill="none" stroke="#525252" stroke-width="1"/>
<path d="M389 317h1v58h-1z" fill="#fff"/>
<path d="M390 317L391 317L391.3 318L391.6 319L391.9 320L392.2 321L392.5 322L392.7 323L393.0 324L393.3 325L393.6 326L393.8 327L394.1 328L394.3 329L394.6 330L394.8 331L395.1 332L395.3 333L395.5 334L395.7 335L396.0 336L396.2 337L396.4 338L396.5 339L396.7 340L396.9 341L397.1 342L397.2 343L397.3 344L397.4 345L397.5 346L397.4 347L397.3 348L397.2 349L397.1 350L397.0 351L396.8 352L396.6 353L396.5 354L396.3 355L396.1 356L395.9 357L395.8 358L395.6 359L395.4 360L395.2 361L395.0 362L394.8 363L394.5 364L394.3 365L394.1 366L393.9 367L393.7 368L393.4 369L393.2 370L393.0 371L392.7 372L392.5 373L392.2 374L392 375L390 375Z" fill="#b8d8f8"/>
<path d="M391 317L391.3 318L391.6 319L391.9 320L392.2 321L392.5 322L392.7 323L393.0 324L393.3 325L393.6 326L393.8 327L394.1 328L394.3 329L394.6 330L394.8 331L395.1 332L395.3 333L395.5 334L395.7 335L396.0 336L396.2 337L396.4 338L396.5 339L396.7 340L396.9 341L397.1 342L397.2 343L397.3 344L397.4 345L397.5 346L397.4 347L397.3 348L397.2 349L397.1 350L397.0 351L396.8 352L396.6 353L396.5 354L396.3 355L396.1 356L395.9 357L395.8 358L395.6 359L395.4 360L395.2 361L395.0 362L394.8 363L394.5 364L394.3 365L394.1 366L393.9 367L393.7 368L393.4 369L393.2 370L393.0 371L392.7 372L392.5 373L392.2 374L392 375" fill="none" stroke="#525252" stroke-width="1"/>
<path d="M400 308h2v7h-2zM400 375h2v8h-2z" fill="#b0b0b0"/>
<path d="M400 315h1v60h-1z" fill="#fff"/>
<path d="M401 315L402 315L402.2 316L402.5 317L402.7 318L402.9 319L403.1 320L403.4 321L403.6 322L403.8 323L404.0 324L404.2 325L404.4 326L404.6 327L404.8 328L405.0 329L405.2 330L405.4 331L405.6 332L405.8 333L406.0 334L406.1 335L406.3 336L406.5 337L406.6 338L406.8 339L406.9 340L407.1 341L407.2 342L407.4 343L407.5 344L407.6 345L407.7 346L407.8 347L407.9 348L408.0 349L408.0 350L407.9 351L407.8 352L407.6 353L407.5 354L407.3 355L407.2 356L407.0 357L406.8 358L406.6 359L406.4 360L406.2 361L406.0 362L405.8 363L405.6 364L405.4 365L405.2 366L404.9 367L404.7 368L404.5 369L404.2 370L404.0 371L403.8 372L403.5 373L403.3 374L403 375L401 375Z" fill="#d8e0ff"/>
<path d="M402 315L402.2 316L402.5 317L402.7 318L402.9 319L403.1 320L403.4 321L403.6 322L403.8 323L404.0 324L404.2 325L404.4 326L404.6 327L404.8 328L405.0 329L405.2 330L405.4 331L405.6 332L405.8 333L406.0 334L406.1 335L406.3 336L406.5 337L406.6 338L406.8 339L406.9 340L407.1 341L407.2 342L407.4 343L407.5 344L407.6 345L407.7 346L407.8 347L407.9 348L408.0 349L408.0 350L407.9 351L407.8 352L407.6 353L407.5 354L407.3 355L407.2 356L407.0 357L406.8 358L406.6 359L406.4 360L406.2 361L406.0 362L405.8 363L405.6 364L405.4 365L405.2 366L404.9 367L404.7 368L404.5 369L404.2 370L404.0 371L403.8 372L403.5 373L403.3 374L403 375" fill="none" stroke="#525252" stroke-width="1"/>
<path d="M410 320h1v55h-1z" fill="#fff"/>
<path d="M411 320L412 320L412.3 321L412.6 322L412.9 323L413.2 324L413.5 325L413.8 326L414.1 327L414.3 328L414.6 329L414.9 330L415.2 331L415.4 332L415.7 333L415.9 334L416.2 335L416.4 336L416.6 337L416.9 338L417.1 339L417.3 340L417.5 341L417.7 342L417.9 343L418.1 344L418.2 345L418.4 346L418.5 347L418.6 348L418.7 349L418.7 350L418.6 351L418.5 352L418.3 353L418.2 354L418.0 355L417.8 356L417.6 357L417.4 358L417.2 359L416.9 360L416.7 361L416.5 362L416.2 363L416.0 364L415.7 365L415.5 366L415.2 367L415.0 368L414.7 369L414.4 370L414.1 371L413.9 372L413.6 373L413.3 374L413 375L411 375Z" fill="#d8e0ff"/>
<path d="M412 320L412.3 321L412.6 322L412.9 323L413.2 324L413.5 325L413.8 326L414.1 327L414.3 328L414.6 329L414.9 330L415.2 331L415.4 332L415.7 333L415.9 334L416.2 335L416.4 336L416.6 337L416.9 338L417.1 339L417.3 340L417.5 341L417.7 342L417.9 343L418.1 344L418.2 345L418.4 346L418.5 347L418.6 348L418.7 349L418.7 350L418.6 351L418.5 352L418.3 353L418.2 354L418.0 355L417.8 356L417.6 357L417.4 358L417.2 359L416.9 360L416.7 361L416.5 362L416.2 363L416.0 364L415.7 365L415.5 366L415.2 367L415.0 368L414.7 369L414.4 370L414.1 371L413.9 372L413.6 373L413.3 374L413 375" fill="none" stroke="#525252" stroke-width="1"/>
<path d="M421 321h1v53h-1z" fill="#fff"/>
<path d="M422 321L423 321L423.3 322L423.6 323L423.9 324L424.2 325L424.5 326L424.8 327L425.1 328L425.4 329L425.7 330L426.0 331L426.2 332L426.5 333L426.7 334L427.0 335L427.3 336L427.5 337L427.7 338L428.0 339L428.2 340L428.4 341L428.6 342L428.8 343L429.0 344L429.2 345L429.4 346L429.5 347L429.7 348L429.8 349L429.9 350L430.0 351L429.9 352L429.8 353L429.6 354L429.4 355L429.2 356L429.0 357L428.7 358L428.5 359L428.2 360L428.0 361L427.7 362L427.4 363L427.1 364L426.8 365L426.5 366L426.2 367L425.9 368L425.6 369L425.3 370L425.0 371L424.7 372L424.3 373L424 374L422 374Z" fill="#d0dcff"/>
<path d="M423 321L423.3 322L423.6 323L423.9 324L424.2 325L424.5 326L424.8 327L425.1 328L425.4 329L425.7 330L426.0 331L426.2 332L426.5 333L426.7 334L427.0 335L427.3 336L427.5 337L427.7 338L428.0 339L428.2 340L428.4 341L428.6 342L428.8 343L429.0 344L429.2 345L429.4 346L429.5 347L429.7 348L429.8 349L429.9 350L430.0 351L429.9 352L429.8 353L429.6 354L429.4 355L429.2 356L429.0 357L428.7 358L428.5 359L428.2 360L428.0 361L427.7 362L427.4 363L427.1 364L426.8 365L426.5 366L426.2 367L425.9 368L425.6 369L425.3 370L425.0 371L424.7 372L424.3 373L424 374" fill="none" stroke="#525252" stroke-width="1"/>
<path d="M432 320h1v52h-1z" fill="#fff"/>
<path d="M433 320L434 320L434.3 321L434.6 322L434.9 323L435.2 324L435.5 325L435.8 326L436.1 327L436.3 328L436.6 329L436.9 330L437.1 331L437.4 332L437.6 333L437.9 334L438.1 335L438.4 336L438.6 337L438.8 338L439.0 339L439.2 340L439.4 341L439.6 342L439.8 343L440.0 344L440.1 345L440.3 346L440.4 347L440.5 348L440.5 349L440.4 350L440.2 351L440.0 352L439.9 353L439.7 354L439.5 355L439.3 356L439.0 357L438.8 358L438.6 359L438.3 360L438.1 361L437.8 362L437.6 363L437.3 364L437.0 365L436.7 366L436.5 367L436.2 368L435.9 369L435.6 370L435.3 371L435 372L433 372Z" fill="#b8d8f8"/>
<path d="M434 320L434.3 321L434.6 322L434.9 323L435.2 324L435.5 325L435.8 326L436.1 327L436.3 328L436.6 329L436.9 330L437.1 331L437.4 332L437.6 333L437.9 334L438.1 335L438.4 336L438.6 337L438.8 338L439.0 339L439.2 340L439.4 341L439.6 342L439.8 343L440.0 344L440.1 345L440.3 346L440.4 347L440.5 348L440.5 349L440.4 350L440.2 351L440.0 352L439.9 353L439.7 354L439.5 355L439.3 356L439.0 357L438.8 358L438.6 359L438.3 360L438.1 361L437.8 362L437.6 363L437.3 364L437.0 365L436.7 366L436.5 367L436.2 368L435.9 369L435.6 370L435.3 371L435 372" fill="none" stroke="#525252" stroke-width="1"/>
<path d="M443 325h1v55h-1z" fill="#fff"/>
<path d="M444 325L445 325L445.3 326L445.5 327L445.8 328L446.0 329L446.3 330L446.5 331L446.8 332L447.0 333L447.2 334L447.5 335L447.7 336L447.9 337L448.2 338L448.4 339L448.6 340L448.8 341L449.0 342L449.2 343L449.4 344L449.6 345L449.8 346L450.0 347L450.1 348L450.3 349L450.4 350L450.6 351L450.7 352L450.9 353L451.0 354L451.1 355L451.2 356L451.2 357L451.2 358L451.0 359L450.9 360L450.7 361L450.5 362L450.3 363L450.1 364L449.9 365L449.7 366L449.5 367L449.2 368L449.0 369L448.8 370L448.5 371L448.2 372L448.0 373L447.7 374L447.4 375L447.2 376L446.9 377L446.6 378L446.3 379L446 380L444 380Z" fill="#e8e4fc"/>
<path d="M445 325L445.3 326L445.5 327L445.8 328L446.0 329L446.3 330L446.5 331L446.8 332L447.0 333L447.2 334L447.5 335L447.7 336L447.9 337L448.2 338L448.4 339L448.6 340L448.8 341L449.0 342L449.2 343L449.4 344L449.6 345L449.8 346L450.0 347L450.1 348L450.3 349L450.4 350L450.6 351L450.7 352L450.9 353L451.0 354L451.1 355L451.2 356L451.2 357L451.2 358L451.0 359L450.9 360L450.7 361L450.5 362L450.3 363L450.1 364L449.9 365L449.7 366L449.5 367L449.2 368L449.0 369L448.8 370L448.5 371L448.2 372L448.0 373L447.7 374L447.4 375L447.2 376L446.9 377L446.6 378L446.3 379L446 380" fill="none" stroke="#525252" stroke-width="1"/>
<path d="M454 320h1v50h-1z" fill="#fff"/>
<path d="M455 320L456 320L456.3 321L456.6 322L456.9 323L457.2 324L457.5 325L457.8 326L458.1 327L458.3 328L458.6 329L458.9 330L459.1 331L459.4 332L459.6 333L459.9 334L460.1 335L460.4 336L460.6 337L460.8 338L461.0 339L461.2 340L461.4 341L461.6 342L461.8 343L462.0 344L462.1 345L462.3 346L462.4 347L462.5 348L462.5 349L462.3 350L462.2 351L462.0 352L461.8 353L461.6 354L461.3 355L461.1 356L460.9 357L460.6 358L460.3 359L460.1 360L459.8 361L459.5 362L459.2 363L458.9 364L458.6 365L458.3 366L458.0 367L457.7 368L457.3 369L457 370L455 370Z" fill="#b8d8f8"/>
<path d="M456 320L456.3 321L456.6 322L456.9 323L457.2 324L457.5 325L457.8 326L458.1 327L458.3 328L458.6 329L458.9 330L459.1 331L459.4 332L459.6 333L459.9 334L460.1 335L460.4 336L460.6 337L460.8 338L461.0 339L461.2 340L461.4 341L461.6 342L461.8 343L462.0 344L462.1 345L462.3 346L462.4 347L462.5 348L462.5 349L462.3 350L462.2 351L462.0 352L461.8 353L461.6 354L461.3 355L461.1 356L460.9 357L460.6 358L460.3 359L460.1 360L459.8 361L459.5 362L459.2 363L458.9 364L458.6 365L458.3 366L458.0 367L457.7 368L457.3 369L457 370" fill="none" stroke="#525252" stroke-width="1"/>
<path d="M464 291h2v27h-2zM464 371h2v14h-2z" fill="#b0b0b0"/>
<path d="M464 318h1v53h-1z" fill="#fff"/>
<path d="M465 318L466 318L466.3 319L466.6 320L466.9 321L467.2 322L467.5 323L467.8 324L468.1 325L468.4 326L468.6 327L468.9 328L469.2 329L469.4 330L469.7 331L469.9 332L470.2 333L470.4 334L470.7 335L470.9 336L471.1 337L471.3 338L471.6 339L471.8 340L471.9 341L472.1 342L472.3 343L472.5 344L472.6 345L472.8 346L472.9 347L473.0 348L473.0 349L472.8 350L472.7 351L472.5 352L472.3 353L472.0 354L471.8 355L471.6 356L471.3 357L471.0 358L470.8 359L470.5 360L470.2 361L469.9 362L469.6 363L469.3 364L469.0 365L468.7 366L468.3 367L468.0 368L467.7 369L467.3 370L467 371L465 371Z" fill="#b8d8f8"/>
<path d="M466 318L466.3 319L466.6 320L466.9 321L467.2 322L467.5 323L467.8 324L468.1 325L468.4 326L468.6 327L468.9 328L469.2 329L469.4 330L469.7 331L469.9 332L470.2 333L470.4 334L470.7 335L470.9 336L471.1 337L471.3 338L471.6 339L471.8 340L471.9 341L472.1 342L472.3 343L472.5 344L472.6 345L472.8 346L472.9 347L473.0 348L473.0 349L472.8 350L472.7 351L472.5 352L472.3 353L472.0 354L471.8 355L471.6 356L471.3 357L471.0 358L470.8 359L470.5 360L470.2 361L469.9 362L469.6 363L469.3 364L469.0 365L468.7 366L468.3 367L468.0 368L467.7 369L467.3 370L467 371" fill="none" stroke="#525252" stroke-width="1"/>
<path d="M475 313h1v61h-1z" fill="#fff"/>
<path d="M476 313L477 313L477.3 314L477.5 315L477.8 316L478.0 317L478.3 318L478.5 319L478.8 320L479.0 321L479.3 322L479.5 323L479.8 324L480.0 325L480.2 326L480.4 327L480.7 328L480.9 329L481.1 330L481.3 331L481.5 332L481.7 333L481.9 334L482.1 335L482.3 336L482.5 337L482.6 338L482.8 339L483.0 340L483.1 341L483.3 342L483.4 343L483.6 344L483.7 345L483.8 346L483.9 347L484.0 348L484.0 349L483.9 350L483.7 351L483.6 352L483.4 353L483.2 354L483.0 355L482.8 356L482.6 357L482.3 358L482.1 359L481.9 360L481.6 361L481.4 362L481.1 363L480.9 364L480.6 365L480.3 366L480.0 367L479.8 368L479.5 369L479.2 370L478.9 371L478.6 372L478.3 373L478 374L476 374Z" fill="#b8d8f8"/>
<path d="M477 313L477.3 314L477.5 315L477.8 316L478.0 317L478.3 318L478.5 319L478.8 320L479.0 321L479.3 322L479.5 323L479.8 324L480.0 325L480.2 326L480.4 327L480.7 328L480.9 329L481.1 330L481.3 331L481.5 332L481.7 333L481.9 334L482.1 335L482.3 336L482.5 337L482.6 338L482.8 339L483.0 340L483.1 341L483.3 342L483.4 343L483.6 344L483.7 345L483.8 346L483.9 347L484.0 348L484.0 349L483.9 350L483.7 351L483.6 352L483.4 353L483.2 354L483.0 355L482.8 356L482.6 357L482.3 358L482.1 359L481.9 360L481.6 361L481.4 362L481.1 363L480.9 364L480.6 365L480.3 366L480.0 367L479.8 368L479.5 369L479.2 370L478.9 371L478.6 372L478.3 373L478 374" fill="none" stroke="#525252" stroke-width="1"/>
<path d="M486 317h1v54h-1z" fill="#fff"/>
<path d="M487 317L488 317L488.3 318L488.5 319L488.8 320L489.1 321L489.3 322L489.6 323L489.8 324L490.1 325L490.3 326L490.5 327L490.8 328L491.0 329L491.2 330L491.5 331L491.7 332L491.9 333L492.1 334L492.3 335L492.5 336L492.7 337L492.9 338L493.1 339L493.3 340L493.4 341L493.6 342L493.8 343L493.9 344L494.0 345L494.2 346L494.3 347L494.4 348L494.5 349L494.5 350L494.3 351L494.2 352L494.0 353L493.8 354L493.6 355L493.3 356L493.1 357L492.9 358L492.6 359L492.3 360L492.1 361L491.8 362L491.5 363L491.2 364L490.9 365L490.6 366L490.3 367L490.0 368L489.7 369L489.3 370L489 371L487 371Z" fill="#b8d8f8"/>
<path d="M488 317L488.3 318L488.5 319L488.8 320L489.1 321L489.3 322L489.6 323L489.8 324L490.1 325L490.3 326L490.5 327L490.8 328L491.0 329L491.2 330L491.5 331L491.7 332L491.9 333L492.1 334L492.3 335L492.5 336L492.7 337L492.9 338L493.1 339L493.3 340L493.4 341L493.6 342L493.8 343L493.9 344L494.0 345L494.2 346L494.3 347L494.4 348L494.5 349L494.5 350L494.3 351L494.2 352L494.0 353L493.8 354L493.6 355L493.3 356L493.1 357L492.9 358L492.6 359L492.3 360L492.1 361L491.8 362L491.5 363L491.2 364L490.9 365L490.6 366L490.3 367L490.0 368L489.7 369L489.3 370L489 371" fill="none" stroke="#525252" stroke-width="1"/>
<path d="M497 303h1v68h-1z" fill="#fff"/>
<path d="M498 303L499 303L499.2 304L499.4 305L499.6 306L499.8 307L500.0 308L500.2 309L500.4 310L500.5 311L500.7 312L500.9 313L501.1 314L501.3 315L501.4 316L501.6 317L501.8 318L502.0 319L502.1 320L502.3 321L502.4 322L502.6 323L502.8 324L502.9 325L503.1 326L503.2 327L503.4 328L503.5 329L503.6 330L503.8 331L503.9 332L504.0 333L504.2 334L504.3 335L504.4 336L504.5 337L504.6 338L504.7 339L504.8 340L504.9 341L504.9 342L505.0 343L505.0 344L504.9 345L504.8 346L504.7 347L504.5 348L504.4 349L504.2 350L504.1 351L503.9 352L503.8 353L503.6 354L503.4 355L503.2 356L503.0 357L502.8 358L502.6 359L502.4 360L502.2 361L502.0 362L501.8 363L501.6 364L501.4 365L501.1 366L500.9 367L500.7 368L500.5 369L500.2 370L500 371L498 371Z" fill="#a0d0d0"/>
<path d="M499 303L499.2 304L499.4 305L499.6 306L499.8 307L500.0 308L500.2 309L500.4 310L500.5 311L500.7 312L500.9 313L501.1 314L501.3 315L501.4 316L501.6 317L501.8 318L502.0 319L502.1 320L502.3 321L502.4 322L502.6 323L502.8 324L502.9 325L503.1 326L503.2 327L503.4 328L503.5 329L503.6 330L503.8 331L503.9 332L504.0 333L504.2 334L504.3 335L504.4 336L504.5 337L504.6 338L504.7 339L504.8 340L504.9 341L504.9 342L505.0 343L505.0 344L504.9 345L504.8 346L504.7 347L504.5 348L504.4 349L504.2 350L504.1 351L503.9 352L503.8 353L503.6 354L503.4 355L503.2 356L503.0 357L502.8 358L502.6 359L502.4 360L502.2 361L502.0 362L501.8 363L501.6 364L501.4 365L501.1 366L500.9 367L500.7 368L500.5 369L500.2 370L500 371" fill="none" stroke="#525252" stroke-width="1"/>
<path d="M508 297h1v75h-1z" fill="#fff"/>
<path d="M509 297L510 297L510.2 298L510.4 299L510.6 300L510.8 301L511.0 302L511.1 303L511.3 304L511.5 305L511.7 306L511.9 307L512.1 308L512.2 309L512.4 310L512.6 311L512.7 312L512.9 313L513.1 314L513.2 315L513.4 316L513.6 317L513.7 318L513.9 319L514.0 320L514.2 321L514.3 322L514.5 323L514.6 324L514.7 325L514.9 326L515.0 327L515.1 328L515.3 329L515.4 330L515.5 331L515.6 332L515.7 333L515.8 334L515.9 335L516.0 336L516.1 337L516.2 338L516.2 339L516.2 340L516.2 341L516.1 342L516.0 343L515.9 344L515.8 345L515.7 346L515.5 347L515.4 348L515.3 349L515.1 350L514.9 351L514.8 352L514.6 353L514.5 354L514.3 355L514.1 356L513.9 357L513.8 358L513.6 359L513.4 360L513.2 361L513.0 362L512.8 363L512.6 364L512.4 365L512.2 366L512.0 367L511.8 368L511.6 369L511.4 370L511.2 371L511 372L509 372Z" fill="#a0d0d0"/>
<path d="M510 297L510.2 298L510.4 299L510.6 300L510.8 301L511.0 302L511.1 303L511.3 304L511.5 305L511.7 306L511.9 307L512.1 308L512.2 309L512.4 310L512.6 311L512.7 312L512.9 313L513.1 314L513.2 315L513.4 316L513.6 317L513.7 318L513.9 319L514.0 320L514.2 321L514.3 322L514.5 323L514.6 324L514.7 325L514.9 326L515.0 327L515.1 328L515.3 329L515.4 330L515.5 331L515.6 332L515.7 333L515.8 334L515.9 335L516.0 336L516.1 337L516.2 338L516.2 339L516.2 340L516.2 341L516.1 342L516.0 343L515.9 344L515.8 345L515.7 346L515.5 347L515.4 348L515.3 349L515.1 350L514.9 351L514.8 352L514.6 353L514.5 354L514.3 355L514.1 356L513.9 357L513.8 358L513.6 359L513.4 360L513.2 361L513.0 362L512.8 363L512.6 364L512.4 365L512.2 366L512.0 367L511.8 368L511.6 369L511.4 370L511.2 371L511 372" fill="none" stroke="#525252" stroke-width="1"/>
<path d="M518 292h1v83h-1z" fill="#fff"/>
<path d="M519 292L520 292L520.2 293L520.4 294L520.5 295L520.7 296L520.9 297L521.0 298L521.2 299L521.4 300L521.6 301L521.7 302L521.9 303L522.1 304L522.2 305L522.4 306L522.5 307L522.7 308L522.8 309L523.0 310L523.2 311L523.3 312L523.5 313L523.6 314L523.8 315L523.9 316L524.0 317L524.2 318L524.3 319L524.5 320L524.6 321L524.7 322L524.9 323L525.0 324L525.1 325L525.2 326L525.4 327L525.5 328L525.6 329L525.7 330L525.8 331L526.0 332L526.1 333L526.2 334L526.3 335L526.4 336L526.5 337L526.5 338L526.6 339L526.7 340L526.8 341L526.9 342L526.9 343L527.0 344L527.0 345L526.9 346L526.8 347L526.7 348L526.6 349L526.4 350L526.3 351L526.1 352L525.9 353L525.7 354L525.6 355L525.4 356L525.2 357L525.0 358L524.8 359L524.6 360L524.3 361L524.1 362L523.9 363L523.7 364L523.4 365L523.2 366L523.0 367L522.7 368L522.5 369L522.3 370L522.0 371L521.8 372L521.5 373L521.3 374L521 375L519 375Z" fill="#a0d0d0"/>
<path d="M520 292L520.2 293L520.4 294L520.5 295L520.7 296L520.9 297L521.0 298L521.2 299L521.4 300L521.6 301L521.7 302L521.9 303L522.1 304L522.2 305L522.4 306L522.5 307L522.7 308L522.8 309L523.0 310L523.2 311L523.3 312L523.5 313L523.6 314L523.8 315L523.9 316L524.0 317L524.2 318L524.3 319L524.5 320L524.6 321L524.7 322L524.9 323L525.0 324L525.1 325L525.2 326L525.4 327L525.5 328L525.6 329L525.7 330L525.8 331L526.0 332L526.1 333L526.2 334L526.3 335L526.4 336L526.5 337L526.5 338L526.6 339L526.7 340L526.8 341L526.9 342L526.9 343L527.0 344L527.0 345L526.9 346L526.8 347L526.7 348L526.6 349L526.4 350L526.3 351L526.1 352L525.9 353L525.7 354L525.6 355L525.4 356L525.2 357L525.0 358L524.8 359L524.6 360L524.3 361L524.1 362L523.9 363L523.7 364L523.4 365L523.2 366L523.0 367L522.7 368L522.5 369L522.3 370L522.0 371L521.8 372L521.5 373L521.3 374L521 375" fill="none" stroke="#525252" stroke-width="1"/>
<path d="M529 258h2v36h-2zM529 374h2v14h-2z" fill="#b0b0b0"/>
<path d="M529 294h1v80h-1z" fill="#fff"/>
<path d="M530 294L531 294L531.2 295L531.3 296L531.5 297L531.6 298L531.8 299L531.9 300L532.1 301L532.2 302L532.4 303L532.5 304L532.6 305L532.8 306L532.9 307L533.1 308L533.2 309L533.3 310L533.5 311L533.6 312L533.8 313L533.9 314L534.0 315L534.1 316L534.3 317L534.4 318L534.5 319L534.6 320L534.8 321L534.9 322L535.0 323L535.1 324L535.2 325L535.3 326L535.5 327L535.6 328L535.7 329L535.8 330L535.9 331L536.0 332L536.1 333L536.2 334L536.3 335L536.4 336L536.4 337L536.5 338L536.6 339L536.7 340L536.7 341L536.8 342L536.9 343L536.9 344L537.0 345L537.0 346L536.9 347L536.8 348L536.7 349L536.6 350L536.5 351L536.3 352L536.2 353L536.0 354L535.9 355L535.7 356L535.5 357L535.3 358L535.2 359L535.0 360L534.8 361L534.6 362L534.4 363L534.2 364L534.0 365L533.8 366L533.6 367L533.3 368L533.1 369L532.9 370L532.7 371L532.5 372L532.2 373L532 374L530 374Z" fill="#a0d0d0"/>
<path d="M531 294L531.2 295L531.3 296L531.5 297L531.6 298L531.8 299L531.9 300L532.1 301L532.2 302L532.4 303L532.5 304L532.6 305L532.8 306L532.9 307L533.1 308L533.2 309L533.3 310L533.5 311L533.6 312L533.8 313L533.9 314L534.0 315L534.1 316L534.3 317L534.4 318L534.5 319L534.6 320L534.8 321L534.9 322L535.0 323L535.1 324L535.2 325L535.3 326L535.5 327L535.6 328L535.7 329L535.8 330L535.9 331L536.0 332L536.1 333L536.2 334L536.3 335L536.4 336L536.4 337L536.5 338L536.6 339L536.7 340L536.7 341L536.8 342L536.9 343L536.9 344L537.0 345L537.0 346L536.9 347L536.8 348L536.7 349L536.6 350L536.5 351L536.3 352L536.2 353L536.0 354L535.9 355L535.7 356L535.5 357L535.3 358L535.2 359L535.0 360L534.8 361L534.6 362L534.4 363L534.2 364L534.0 365L533.8 366L533.6 367L533.3 368L533.1 369L532.9 370L532.7 371L532.5 372L532.2 373L532 374" fill="none" stroke="#525252" stroke-width="1"/>
<path d="M540 297h1v73h-1z" fill="#fff"/>
<path d="M541 297L542 297L542.1 298L542.3 299L542.4 300L542.6 301L542.7 302L542.8 303L543.0 304L543.1 305L543.3 306L543.4 307L543.5 308L543.7 309L543.8 310L543.9 311L544.0 312L544.2 313L544.3 314L544.4 315L544.5 316L544.7 317L544.8 318L544.9 319L545.0 320L545.1 321L545.3 322L545.4 323L545.5 324L545.6 325L545.7 326L545.8 327L545.9 328L546.0 329L546.1 330L546.2 331L546.3 332L546.4 333L546.5 334L546.6 335L546.7 336L546.8 337L546.9 338L546.9 339L547.0 340L547.1 341L547.2 342L547.2 343L547.3 344L547.4 345L547.4 346L547.5 347L547.5 348L547.5 349L547.4 350L547.2 351L547.1 352L546.9 353L546.8 354L546.6 355L546.4 356L546.2 357L546.0 358L545.7 359L545.5 360L545.3 361L545.1 362L544.8 363L544.6 364L544.3 365L544.1 366L543.8 367L543.5 368L543.3 369L543 370L541 370Z" fill="#a0d0d0"/>
<path d="M542 297L542.1 298L542.3 299L542.4 300L542.6 301L542.7 302L542.8 303L543.0 304L543.1 305L543.3 306L543.4 307L543.5 308L543.7 309L543.8 310L543.9 311L544.0 312L544.2 313L544.3 314L544.4 315L544.5 316L544.7 317L544.8 318L544.9 319L545.0 320L545.1 321L545.3 322L545.4 323L545.5 324L545.6 325L545.7 326L545.8 327L545.9 328L546.0 329L546.1 330L546.2 331L546.3 332L546.4 333L546.5 334L546.6 335L546.7 336L546.8 337L546.9 338L546.9 339L547.0 340L547.1 341L547.2 342L547.2 343L547.3 344L547.4 345L547.4 346L547.5 347L547.5 348L547.5 349L547.4 350L547.2 351L547.1 352L546.9 353L546.8 354L546.6 355L546.4 356L546.2 357L546.0 358L545.7 359L545.5 360L545.3 361L545.1 362L544.8 363L544.6 364L544.3 365L544.1 366L543.8 367L543.5 368L543.3 369L543 370" fill="none" stroke="#525252" stroke-width="1"/>
<path d="M551 300h1v68h-1z" fill="#fff"/>
<path d="M552 300L553 300L553.2 301L553.4 302L553.5 303L553.7 304L553.9 305L554.0 306L554.2 307L554.4 308L554.5 309L554.7 310L554.9 311L555.0 312L555.2 313L555.4 314L555.5 315L555.7 316L555.8 317L556.0 318L556.1 319L556.3 320L556.4 321L556.6 322L556.7 323L556.8 324L557.0 325L557.1 326L557.3 327L557.4 328L557.5 329L557.7 330L557.8 331L557.9 332L558.0 333L558.1 334L558.3 335L558.4 336L558.5 337L558.6 338L558.7 339L558.8 340L558.9 341L559.0 342L559.1 343L559.2 344L559.2 345L559.3 346L559.4 347L559.4 348L559.5 349L559.5 350L559.3 351L559.1 352L558.9 353L558.6 354L558.4 355L558.1 356L557.8 357L557.5 358L557.2 359L556.9 360L556.5 361L556.2 362L555.8 363L555.5 364L555.1 365L554.8 366L554.4 367L554 368L552 368Z" fill="#a0d0d0"/>
<path d="M553 300L553.2 301L553.4 302L553.5 303L553.7 304L553.9 305L554.0 306L554.2 307L554.4 308L554.5 309L554.7 310L554.9 311L555.0 312L555.2 313L555.4 314L555.5 315L555.7 316L555.8 317L556.0 318L556.1 319L556.3 320L556.4 321L556.6 322L556.7 323L556.8 324L557.0 325L557.1 326L557.3 327L557.4 328L557.5 329L557.7 330L557.8 331L557.9 332L558.0 333L558.1 334L558.3 335L558.4 336L558.5 337L558.6 338L558.7 339L558.8 340L558.9 341L559.0 342L559.1 343L559.2 344L559.2 345L559.3 346L559.4 347L559.4 348L559.5 349L559.5 350L559.3 351L559.1 352L558.9 353L558.6 354L558.4 355L558.1 356L557.8 357L557.5 358L557.2 359L556.9 360L556.5 361L556.2 362L555.8 363L555.5 364L555.1 365L554.8 366L554.4 367L554 368" fill="none" stroke="#525252" stroke-width="1"/>
<path d="M562 310h1v60h-1z" fill="#fff"/>
<path d="M563 310L564 310L564.2 311L564.5 312L564.7 313L564.9 314L565.2 315L565.4 316L565.6 317L565.8 318L566.1 319L566.3 320L566.5 321L566.7 322L566.9 323L567.1 324L567.3 325L567.5 326L567.7 327L567.9 328L568.1 329L568.2 330L568.4 331L568.6 332L568.7 333L568.9 334L569.1 335L569.2 336L569.3 337L569.5 338L569.6 339L569.7 340L569.8 341L569.9 342L570.0 343L570.0 344L569.9 345L569.8 346L569.7 347L569.5 348L569.4 349L569.2 350L569.0 351L568.9 352L568.7 353L568.5 354L568.3 355L568.1 356L567.9 357L567.7 358L567.5 359L567.3 360L567.1 361L566.9 362L566.6 363L566.4 364L566.2 365L566.0 366L565.7 367L565.5 368L565.2 369L565 370L563 370Z" fill="#a0d0d0"/>
<path d="M564 310L564.2 311L564.5 312L564.7 313L564.9 314L565.2 315L565.4 316L565.6 317L565.8 318L566.1 319L566.3 320L566.5 321L566.7 322L566.9 323L567.1 324L567.3 325L567.5 326L567.7 327L567.9 328L568.1 329L568.2 330L568.4 331L568.6 332L568.7 333L568.9 334L569.1 335L569.2 336L569.3 337L569.5 338L569.6 339L569.7 340L569.8 341L569.9 342L570.0 343L570.0 344L569.9 345L569.8 346L569.7 347L569.5 348L569.4 349L569.2 350L569.0 351L568.9 352L568.7 353L568.5 354L568.3 355L568.1 356L567.9 357L567.7 358L567.5 359L567.3 360L567.1 361L566.9 362L566.6 363L566.4 364L566.2 365L566.0 366L565.7 367L565.5 368L565.2 369L565 370" fill="none" stroke="#525252" stroke-width="1"/>
<path d="M572 308h1v62h-1z" fill="#fff"/>
<path d="M573 308L574 308L574.2 309L574.5 310L574.7 311L575.0 312L575.2 313L575.4 314L575.7 315L575.9 316L576.1 317L576.3 318L576.6 319L576.8 320L577.0 321L577.2 322L577.4 323L577.6 324L577.8 325L578.0 326L578.2 327L578.4 328L578.6 329L578.7 330L578.9 331L579.1 332L579.2 333L579.4 334L579.6 335L579.7 336L579.8 337L580.0 338L580.1 339L580.2 340L580.3 341L580.4 342L580.5 343L580.5 344L580.4 345L580.3 346L580.1 347L580.0 348L579.8 349L579.6 350L579.4 351L579.3 352L579.1 353L578.9 354L578.6 355L578.4 356L578.2 357L578.0 358L577.8 359L577.5 360L577.3 361L577.1 362L576.8 363L576.6 364L576.3 365L576.1 366L575.8 367L575.5 368L575.3 369L575 370L573 370Z" fill="#a0d0d0"/>
<path d="M574 308L574.2 309L574.5 310L574.7 311L575.0 312L575.2 313L575.4 314L575.7 315L575.9 316L576.1 317L576.3 318L576.6 319L576.8 320L577.0 321L577.2 322L577.4 323L577.6 324L577.8 325L578.0 326L578.2 327L578.4 328L578.6 329L578.7 330L578.9 331L579.1 332L579.2 333L579.4 334L579.6 335L579.7 336L579.8 337L580.0 338L580.1 339L580.2 340L580.3 341L580.4 342L580.5 343L580.5 344L580.4 345L580.3 346L580.1 347L580.0 348L579.8 349L579.6 350L579.4 351L579.3 352L579.1 353L578.9 354L578.6 355L578.4 356L578.2 357L578.0 358L577.8 359L577.5 360L577.3 361L577.1 362L576.8 363L576.6 364L576.3 365L576.1 366L575.8 367L575.5 368L575.3 369L575 370" fill="none" stroke="#525252" stroke-width="1"/>
<path d="M583 306h1v64h-1z" fill="#fff"/>
<path d="M584 306L585 306L585.2 307L585.4 308L585.6 309L585.8 310L586.0 311L586.2 312L586.4 313L586.6 314L586.8 315L587.0 316L587.2 317L587.3 318L587.5 319L587.7 320L587.9 321L588.1 322L588.2 323L588.4 324L588.6 325L588.7 326L588.9 327L589.0 328L589.2 329L589.3 330L589.5 331L589.6 332L589.8 333L589.9 334L590.0 335L590.2 336L590.3 337L590.4 338L590.5 339L590.6 340L590.7 341L590.8 342L590.9 343L591.0 344L591.0 345L590.9 346L590.8 347L590.7 348L590.6 349L590.4 350L590.2 351L590.1 352L589.9 353L589.7 354L589.5 355L589.3 356L589.1 357L588.9 358L588.7 359L588.4 360L588.2 361L588.0 362L587.7 363L587.5 364L587.3 365L587.0 366L586.8 367L586.5 368L586.3 369L586 370L584 370Z" fill="#a0d0d0"/>
<path d="M585 306L585.2 307L585.4 308L585.6 309L585.8 310L586.0 311L586.2 312L586.4 313L586.6 314L586.8 315L587.0 316L587.2 317L587.3 318L587.5 319L587.7 320L587.9 321L588.1 322L588.2 323L588.4 324L588.6 325L588.7 326L588.9 327L589.0 328L589.2 329L589.3 330L589.5 331L589.6 332L589.8 333L589.9 334L590.0 335L590.2 336L590.3 337L590.4 338L590.5 339L590.6 340L590.7 341L590.8 342L590.9 343L591.0 344L591.0 345L590.9 346L590.8 347L590.7 348L590.6 349L590.4 350L590.2 351L590.1 352L589.9 353L589.7 354L589.5 355L589.3 356L589.1 357L588.9 358L588.7 359L588.4 360L588.2 361L588.0 362L587.7 363L587.5 364L587.3 365L587.0 366L586.8 367L586.5 368L586.3 369L586 370" fill="none" stroke="#525252" stroke-width="1"/>
<path d="M594 288h2v17h-2zM594 370h2v11h-2z" fill="#b0b0b0"/>
<path d="M594 305h1v65h-1z" fill="#fff"/>
<path d="M595 305L596 305L596.2 306L596.5 307L596.7 308L597.0 309L597.2 310L597.5 311L597.7 312L597.9 313L598.1 314L598.4 315L598.6 316L598.8 317L599.0 318L599.2 319L599.4 320L599.7 321L599.9 322L600.0 323L600.2 324L600.4 325L600.6 326L600.8 327L601.0 328L601.1 329L601.3 330L601.5 331L601.6 332L601.8 333L601.9 334L602.0 335L602.2 336L602.3 337L602.4 338L602.4 339L602.5 340L602.4 341L602.3 342L602.2 343L602.1 344L602.0 345L601.8 346L601.7 347L601.5 348L601.4 349L601.2 350L601.0 351L600.8 352L600.6 353L600.5 354L600.3 355L600.1 356L599.9 357L599.7 358L599.5 359L599.3 360L599.0 361L598.8 362L598.6 363L598.4 364L598.2 365L597.9 366L597.7 367L597.5 368L597.2 369L597 370L595 370Z" fill="#a0d0d0"/>
<path d="M596 305L596.2 306L596.5 307L596.7 308L597.0 309L597.2 310L597.5 311L597.7 312L597.9 313L598.1 314L598.4 315L598.6 316L598.8 317L599.0 318L599.2 319L599.4 320L599.7 321L599.9 322L600.0 323L600.2 324L600.4 325L600.6 326L600.8 327L601.0 328L601.1 329L601.3 330L601.5 331L601.6 332L601.8 333L601.9 334L602.0 335L602.2 336L602.3 337L602.4 338L602.4 339L602.5 340L602.4 341L602.3 342L602.2 343L602.1 344L602.0 345L601.8 346L601.7 347L601.5 348L601.4 349L601.2 350L601.0 351L600.8 352L600.6 353L600.5 354L600.3 355L600.1 356L599.9 357L599.7 358L599.5 359L599.3 360L599.0 361L598.8 362L598.6 363L598.4 364L598.2 365L597.9 366L597.7 367L597.5 368L597.2 369L597 370" fill="none" stroke="#525252" stroke-width="1"/>
<path d="M605 306h1v64h-1z" fill="#fff"/>
<path d="M606 306L607 306L607.2 307L607.4 308L607.6 309L607.8 310L608.1 311L608.3 312L608.5 313L608.7 314L608.9 315L609.1 316L609.2 317L609.4 318L609.6 319L609.8 320L610.0 321L610.2 322L610.3 323L610.5 324L610.7 325L610.9 326L611.0 327L611.2 328L611.3 329L611.5 330L611.6 331L611.8 332L611.9 333L612.1 334L612.2 335L612.3 336L612.4 337L612.6 338L612.7 339L612.8 340L612.8 341L612.9 342L613.0 343L613.0 344L612.9 345L612.8 346L612.7 347L612.5 348L612.4 349L612.2 350L612.0 351L611.9 352L611.7 353L611.5 354L611.3 355L611.1 356L610.9 357L610.7 358L610.5 359L610.3 360L610.1 361L609.9 362L609.6 363L609.4 364L609.2 365L609.0 366L608.7 367L608.5 368L608.2 369L608 370L606 370Z" fill="#a0d0d0"/>
<path d="M607 306L607.2 307L607.4 308L607.6 309L607.8 310L608.1 311L608.3 312L608.5 313L608.7 314L608.9 315L609.1 316L609.2 317L609.4 318L609.6 319L609.8 320L610.0 321L610.2 322L610.3 323L610.5 324L610.7 325L610.9 326L611.0 327L611.2 328L611.3 329L611.5 330L611.6 331L611.8 332L611.9 333L612.1 334L612.2 335L612.3 336L612.4 337L612.6 338L612.7 339L612.8 340L612.8 341L612.9 342L613.0 343L613.0 344L612.9 345L612.8 346L612.7 347L612.5 348L612.4 349L612.2 350L612.0 351L611.9 352L611.7 353L611.5 354L611.3 355L611.1 356L610.9 357L610.7 358L610.5 359L610.3 360L610.1 361L609.9 362L609.6 363L609.4 364L609.2 365L609.0 366L608.7 367L608.5 368L608.2 369L608 370" fill="none" stroke="#525252" stroke-width="1"/>
<path d="M616 303h1v67h-1z" fill="#fff"/>
<path d="M617 303L618 303L618.2 304L618.4 305L618.6 306L618.8 307L619.0 308L619.2 309L619.4 310L619.6 311L619.8 312L620.0 313L620.2 314L620.4 315L620.6 316L620.7 317L620.9 318L621.1 319L621.3 320L621.4 321L621.6 322L621.8 323L622.0 324L622.1 325L622.3 326L622.4 327L622.6 328L622.7 329L622.9 330L623.0 331L623.2 332L623.3 333L623.4 334L623.6 335L623.7 336L623.8 337L623.9 338L624.0 339L624.1 340L624.2 341L624.3 342L624.4 343L624.5 344L624.5 345L624.4 346L624.3 347L624.2 348L624.0 349L623.8 350L623.6 351L623.5 352L623.3 353L623.0 354L622.8 355L622.6 356L622.4 357L622.1 358L621.9 359L621.7 360L621.4 361L621.2 362L620.9 363L620.6 364L620.4 365L620.1 366L619.8 367L619.6 368L619.3 369L619 370L617 370Z" fill="#a0d0d0"/>
<path d="M618 303L618.2 304L618.4 305L618.6 306L618.8 307L619.0 308L619.2 309L619.4 310L619.6 311L619.8 312L620.0 313L620.2 314L620.4 315L620.6 316L620.7 317L620.9 318L621.1 319L621.3 320L621.4 321L621.6 322L621.8 323L622.0 324L622.1 325L622.3 326L622.4 327L622.6 328L622.7 329L622.9 330L623.0 331L623.2 332L623.3 333L623.4 334L623.6 335L623.7 336L623.8 337L623.9 338L624.0 339L624.1 340L624.2 341L624.3 342L624.4 343L624.5 344L624.5 345L624.4 346L624.3 347L624.2 348L624.0 349L623.8 350L623.6 351L623.5 352L623.3 353L623.0 354L622.8 355L622.6 356L622.4 357L622.1 358L621.9 359L621.7 360L621.4 361L621.2 362L620.9 363L620.6 364L620.4 365L620.1 366L619.8 367L619.6 368L619.3 369L619 370" fill="none" stroke="#525252" stroke-width="1"/>
<path d="M627 303h1v68h-1z" fill="#fff"/>
<path d="M628 303L629 303L629.2 304L629.4 305L629.6 306L629.8 307L630.0 308L630.2 309L630.4 310L630.6 311L630.8 312L631.0 313L631.2 314L631.3 315L631.5 316L631.7 317L631.9 318L632.1 319L632.2 320L632.4 321L632.6 322L632.7 323L632.9 324L633.0 325L633.2 326L633.3 327L633.5 328L633.6 329L633.8 330L633.9 331L634.0 332L634.2 333L634.3 334L634.4 335L634.5 336L634.6 337L634.7 338L634.8 339L634.9 340L635.0 341L635.0 342L634.9 343L634.9 344L634.8 345L634.6 346L634.5 347L634.4 348L634.2 349L634.1 350L633.9 351L633.8 352L633.6 353L633.4 354L633.2 355L633.1 356L632.9 357L632.7 358L632.5 359L632.3 360L632.1 361L631.9 362L631.7 363L631.5 364L631.3 365L631.1 366L630.9 367L630.7 368L630.4 369L630.2 370L630 371L628 371Z" fill="#a0d0d0"/>
<path d="M629 303L629.2 304L629.4 305L629.6 306L629.8 307L630.0 308L630.2 309L630.4 310L630.6 311L630.8 312L631.0 313L631.2 314L631.3 315L631.5 316L631.7 317L631.9 318L632.1 319L632.2 320L632.4 321L632.6 322L632.7 323L632.9 324L633.0 325L633.2 326L633.3 327L633.5 328L633.6 329L633.8 330L633.9 331L634.0 332L634.2 333L634.3 334L634.4 335L634.5 336L634.6 337L634.7 338L634.8 339L634.9 340L635.0 341L635.0 342L634.9 343L634.9 344L634.8 345L634.6 346L634.5 347L634.4 348L634.2 349L634.1 350L633.9 351L633.8 352L633.6 353L633.4 354L633.2 355L633.1 356L632.9 357L632.7 358L632.5 359L632.3 360L632.1 361L631.9 362L631.7 363L631.5 364L631.3 365L631.1 366L630.9 367L630.7 368L630.4 369L630.2 370L630 371" fill="none" stroke="#525252" stroke-width="1"/>
<path d="M637 303h1v71h-1z" fill="#fff"/>
<path d="M638 303L639 303L639.2 304L639.5 305L639.7 306L639.9 307L640.1 308L640.4 309L640.6 310L640.8 311L641.0 312L641.2 313L641.4 314L641.6 315L641.9 316L642.1 317L642.3 318L642.5 319L642.7 320L642.8 321L643.0 322L643.2 323L643.4 324L643.6 325L643.8 326L643.9 327L644.1 328L644.3 329L644.4 330L644.6 331L644.8 332L644.9 333L645.1 334L645.2 335L645.3 336L645.5 337L645.6 338L645.7 339L645.8 340L645.9 341L646.0 342L646.1 343L646.2 344L646.2 345L646.2 346L646.1 347L645.9 348L645.8 349L645.6 350L645.4 351L645.3 352L645.1 353L644.9 354L644.7 355L644.5 356L644.3 357L644.0 358L643.8 359L643.6 360L643.4 361L643.1 362L642.9 363L642.6 364L642.4 365L642.1 366L641.9 367L641.6 368L641.4 369L641.1 370L640.8 371L640.6 372L640.3 373L640 374L638 374Z" fill="#a0d0d0"/>
<path d="M639 303L639.2 304L639.5 305L639.7 306L639.9 307L640.1 308L640.4 309L640.6 310L640.8 311L641.0 312L641.2 313L641.4 314L641.6 315L641.9 316L642.1 317L642.3 318L642.5 319L642.7 320L642.8 321L643.0 322L643.2 323L643.4 324L643.6 325L643.8 326L643.9 327L644.1 328L644.3 329L644.4 330L644.6 331L644.8 332L644.9 333L645.1 334L645.2 335L645.3 336L645.5 337L645.6 338L645.7 339L645.8 340L645.9 341L646.0 342L646.1 343L646.2 344L646.2 345L646.2 346L646.1 347L645.9 348L645.8 349L645.6 350L645.4 351L645.3 352L645.1 353L644.9 354L644.7 355L644.5 356L644.3 357L644.0 358L643.8 359L643.6 360L643.4 361L643.1 362L642.9 363L642.6 364L642.4 365L642.1 366L641.9 367L641.6 368L641.4 369L641.1 370L640.8 371L640.6 372L640.3 373L640 374" fill="none" stroke="#525252" stroke-width="1"/>
<path d="M648 305h1v72h-1z" fill="#fff"/>
<path d="M649 305L650 305L650.2 306L650.4 307L650.6 308L650.8 309L651.0 310L651.2 311L651.4 312L651.6 313L651.7 314L651.9 315L652.1 316L652.3 317L652.5 318L652.6 319L652.8 320L653.0 321L653.1 322L653.3 323L653.5 324L653.6 325L653.8 326L654.0 327L654.1 328L654.3 329L654.4 330L654.6 331L654.7 332L654.8 333L655.0 334L655.1 335L655.2 336L655.3 337L655.5 338L655.6 339L655.7 340L655.8 341L655.9 342L656.0 343L656.1 344L656.1 345L656.2 346L656.2 347L656.2 348L656.1 349L656.0 350L655.9 351L655.8 352L655.6 353L655.5 354L655.3 355L655.2 356L655.0 357L654.8 358L654.7 359L654.5 360L654.3 361L654.1 362L653.9 363L653.7 364L653.5 365L653.4 366L653.2 367L652.9 368L652.7 369L652.5 370L652.3 371L652.1 372L651.9 373L651.7 374L651.4 375L651.2 376L651 377L649 377Z" fill="#b8d8f8"/>
<path d="M650 305L650.2 306L650.4 307L650.6 308L650.8 309L651.0 310L651.2 311L651.4 312L651.6 313L651.7 314L651.9 315L652.1 316L652.3 317L652.5 318L652.6 319L652.8 320L653.0 321L653.1 322L653.3 323L653.5 324L653.6 325L653.8 326L654.0 327L654.1 328L654.3 329L654.4 330L654.6 331L654.7 332L654.8 333L655.0 334L655.1 335L655.2 336L655.3 337L655.5 338L655.6 339L655.7 340L655.8 341L655.9 342L656.0 343L656.1 344L656.1 345L656.2 346L656.2 347L656.2 348L656.1 349L656.0 350L655.9 351L655.8 352L655.6 353L655.5 354L655.3 355L655.2 356L655.0 357L654.8 358L654.7 359L654.5 360L654.3 361L654.1 362L653.9 363L653.7 364L653.5 365L653.4 366L653.2 367L652.9 368L652.7 369L652.5 370L652.3 371L652.1 372L651.9 373L651.7 374L651.4 375L651.2 376L651 377" fill="none" stroke="#525252" stroke-width="1"/>
<path d="M659 278h2v25h-2zM659 379h2v12h-2z" fill="#b0b0b0"/>
<path d="M659 303h1v76h-1z" fill="#fff"/>
<path d="M660 303L661 303L661.2 304L661.4 305L661.6 306L661.7 307L661.9 308L662.1 309L662.3 310L662.4 311L662.6 312L662.8 313L663.0 314L663.1 315L663.3 316L663.5 317L663.6 318L663.8 319L664.0 320L664.1 321L664.3 322L664.4 323L664.6 324L664.7 325L664.9 326L665.0 327L665.2 328L665.3 329L665.4 330L665.6 331L665.7 332L665.9 333L666.0 334L666.1 335L666.2 336L666.4 337L666.5 338L666.6 339L666.7 340L666.8 341L666.9 342L667.0 343L667.1 344L667.2 345L667.3 346L667.3 347L667.4 348L667.5 349L667.5 350L667.4 351L667.3 352L667.2 353L667.1 354L667.0 355L666.8 356L666.6 357L666.5 358L666.3 359L666.1 360L665.9 361L665.8 362L665.6 363L665.4 364L665.2 365L665.0 366L664.8 367L664.5 368L664.3 369L664.1 370L663.9 371L663.7 372L663.4 373L663.2 374L663.0 375L662.7 376L662.5 377L662.2 378L662 379L660 379Z" fill="#b8d8f8"/>
<path d="M661 303L661.2 304L661.4 305L661.6 306L661.7 307L661.9 308L662.1 309L662.3 310L662.4 311L662.6 312L662.8 313L663.0 314L663.1 315L663.3 316L663.5 317L663.6 318L663.8 319L664.0 320L664.1 321L664.3 322L664.4 323L664.6 324L664.7 325L664.9 326L665.0 327L665.2 328L665.3 329L665.4 330L665.6 331L665.7 332L665.9 333L666.0 334L666.1 335L666.2 336L666.4 337L666.5 338L666.6 339L666.7 340L666.8 341L666.9 342L667.0 343L667.1 344L667.2 345L667.3 346L667.3 347L667.4 348L667.5 349L667.5 350L667.4 351L667.3 352L667.2 353L667.1 354L667.0 355L666.8 356L666.6 357L666.5 358L666.3 359L666.1 360L665.9 361L665.8 362L665.6 363L665.4 364L665.2 365L665.0 366L664.8 367L664.5 368L664.3 369L664.1 370L663.9 371L663.7 372L663.4 373L663.2 374L663.0 375L662.7 376L662.5 377L662.2 378L662 379" fill="none" stroke="#525252" stroke-width="1"/>
<path d="M670 303h1v76h-1z" fill="#fff"/>
<path d="M671 303L672 303L672.2 304L672.3 305L672.5 306L672.7 307L672.8 308L673.0 309L673.2 310L673.3 311L673.5 312L673.6 313L673.8 314L673.9 315L674.1 316L674.2 317L674.4 318L674.5 319L674.7 320L674.8 321L675.0 322L675.1 323L675.2 324L675.4 325L675.5 326L675.6 327L675.8 328L675.9 329L676.0 330L676.2 331L676.3 332L676.4 333L676.5 334L676.6 335L676.8 336L676.9 337L677.0 338L677.1 339L677.2 340L677.3 341L677.4 342L677.5 343L677.6 344L677.6 345L677.7 346L677.8 347L677.9 348L677.9 349L678.0 350L678.0 351L677.9 352L677.8 353L677.7 354L677.6 355L677.5 356L677.3 357L677.2 358L677.0 359L676.9 360L676.7 361L676.5 362L676.3 363L676.2 364L676.0 365L675.8 366L675.6 367L675.4 368L675.2 369L675.0 370L674.8 371L674.6 372L674.3 373L674.1 374L673.9 375L673.7 376L673.5 377L673.2 378L673 379L671 379Z" fill="#b8d8f8"/>
<path d="M672 303L672.2 304L672.3 305L672.5 306L672.7 307L672.8 308L673.0 309L673.2 310L673.3 311L673.5 312L673.6 313L673.8 314L673.9 315L674.1 316L674.2 317L674.4 318L674.5 319L674.7 320L674.8 321L675.0 322L675.1 323L675.2 324L675.4 325L675.5 326L675.6 327L675.8 328L675.9 329L676.0 330L676.2 331L676.3 332L676.4 333L676.5 334L676.6 335L676.8 336L676.9 337L677.0 338L677.1 339L677.2 340L677.3 341L677.4 342L677.5 343L677.6 344L677.6 345L677.7 346L677.8 347L677.9 348L677.9 349L678.0 350L678.0 351L677.9 352L677.8 353L677.7 354L677.6 355L677.5 356L677.3 357L677.2 358L677.0 359L676.9 360L676.7 361L676.5 362L676.3 363L676.2 364L676.0 365L675.8 366L675.6 367L675.4 368L675.2 369L675.0 370L674.8 371L674.6 372L674.3 373L674.1 374L673.9 375L673.7 376L673.5 377L673.2 378L673 379" fill="none" stroke="#525252" stroke-width="1"/>
<path d="M681 307h1v72h-1z" fill="#fff"/>
<path d="M682 307L683 307L683.2 308L683.3 309L683.5 310L683.7 311L683.8 312L684.0 313L684.2 314L684.3 315L684.5 316L684.7 317L684.8 318L685.0 319L685.1 320L685.3 321L685.4 322L685.6 323L685.7 324L685.9 325L686.0 326L686.1 327L686.3 328L686.4 329L686.6 330L686.7 331L686.8 332L687.0 333L687.1 334L687.2 335L687.3 336L687.4 337L687.6 338L687.7 339L687.8 340L687.9 341L688.0 342L688.1 343L688.2 344L688.3 345L688.4 346L688.5 347L688.5 348L688.6 349L688.7 350L688.7 351L688.8 352L688.7 353L688.6 354L688.5 355L688.4 356L688.2 357L688.1 358L687.9 359L687.8 360L687.6 361L687.5 362L687.3 363L687.1 364L686.9 365L686.7 366L686.5 367L686.4 368L686.2 369L686.0 370L685.7 371L685.5 372L685.3 373L685.1 374L684.9 375L684.7 376L684.5 377L684.2 378L684 379L682 379Z" fill="#d0dcff"/>
<path d="M683 307L683.2 308L683.3 309L683.5 310L683.7 311L683.8 312L684.0 313L684.2 314L684.3 315L684.5 316L684.7 317L684.8 318L685.0 319L685.1 320L685.3 321L685.4 322L685.6 323L685.7 324L685.9 325L686.0 326L686.1 327L686.3 328L686.4 329L686.6 330L686.7 331L686.8 332L687.0 333L687.1 334L687.2 335L687.3 336L687.4 337L687.6 338L687.7 339L687.8 340L687.9 341L688.0 342L688.1 343L688.2 344L688.3 345L688.4 346L688.5 347L688.5 348L688.6 349L688.7 350L688.7 351L688.8 352L688.7 353L688.6 354L688.5 355L688.4 356L688.2 357L688.1 358L687.9 359L687.8 360L687.6 361L687.5 362L687.3 363L687.1 364L686.9 365L686.7 366L686.5 367L686.4 368L686.2 369L686.0 370L685.7 371L685.5 372L685.3 373L685.1 374L684.9 375L684.7 376L684.5 377L684.2 378L684 379" fill="none" stroke="#525252" stroke-width="1"/>
<path d="M691 310h1v68h-1z" fill="#fff"/>
<path d="M692 310L693 310L693.2 311L693.4 312L693.6 313L693.8 314L694.0 315L694.2 316L694.4 317L694.6 318L694.8 319L695.0 320L695.2 321L695.4 322L695.6 323L695.7 324L695.9 325L696.1 326L696.3 327L696.4 328L696.6 329L696.8 330L697.0 331L697.1 332L697.3 333L697.4 334L697.6 335L697.7 336L697.9 337L698.0 338L698.2 339L698.3 340L698.4 341L698.6 342L698.7 343L698.8 344L698.9 345L699.0 346L699.1 347L699.2 348L699.3 349L699.4 350L699.5 351L699.5 352L699.4 353L699.3 354L699.2 355L699.0 356L698.9 357L698.7 358L698.5 359L698.3 360L698.1 361L697.9 362L697.7 363L697.5 364L697.3 365L697.0 366L696.8 367L696.6 368L696.3 369L696.1 370L695.8 371L695.6 372L695.3 373L695.1 374L694.8 375L694.5 376L694.3 377L694 378L692 378Z" fill="#b8d8f8"/>
<path d="M693 310L693.2 311L693.4 312L693.6 313L693.8 314L694.0 315L694.2 316L694.4 317L694.6 318L694.8 319L695.0 320L695.2 321L695.4 322L695.6 323L695.7 324L695.9 325L696.1 326L696.3 327L696.4 328L696.6 329L696.8 330L697.0 331L697.1 332L697.3 333L697.4 334L697.6 335L697.7 336L697.9 337L698.0 338L698.2 339L698.3 340L698.4 341L698.6 342L698.7 343L698.8 344L698.9 345L699.0 346L699.1 347L699.2 348L699.3 349L699.4 350L699.5 351L699.5 352L699.4 353L699.3 354L699.2 355L699.0 356L698.9 357L698.7 358L698.5 359L698.3 360L698.1 361L697.9 362L697.7 363L697.5 364L697.3 365L697.0 366L696.8 367L696.6 368L696.3 369L696.1 370L695.8 371L695.6 372L695.3 373L695.1 374L694.8 375L694.5 376L694.3 377L694 378" fill="none" stroke="#525252" stroke-width="1"/>
<path d="M702 310h1v66h-1z" fill="#fff"/>
<path d="M703 310L704 310L704.2 311L704.4 312L704.6 313L704.8 314L705.0 315L705.2 316L705.4 317L705.6 318L705.8 319L706.0 320L706.2 321L706.4 322L706.6 323L706.7 324L706.9 325L707.1 326L707.3 327L707.4 328L707.6 329L707.8 330L707.9 331L708.1 332L708.2 333L708.4 334L708.5 335L708.7 336L708.8 337L709.0 338L709.1 339L709.2 340L709.3 341L709.5 342L709.6 343L709.7 344L709.8 345L709.9 346L709.9 347L710.0 348L710.0 349L709.9 350L709.8 351L709.7 352L709.5 353L709.4 354L709.2 355L709.1 356L708.9 357L708.8 358L708.6 359L708.4 360L708.2 361L708.0 362L707.8 363L707.6 364L707.4 365L707.2 366L707.0 367L706.8 368L706.6 369L706.4 370L706.1 371L705.9 372L705.7 373L705.5 374L705.2 375L705 376L703 376Z" fill="#b8d8f8"/>
<path d="M704 310L704.2 311L704.4 312L704.6 313L704.8 314L705.0 315L705.2 316L705.4 317L705.6 318L705.8 319L706.0 320L706.2 321L706.4 322L706.6 323L706.7 324L706.9 325L707.1 326L707.3 327L707.4 328L707.6 329L707.8 330L707.9 331L708.1 332L708.2 333L708.4 334L708.5 335L708.7 336L708.8 337L709.0 338L709.1 339L709.2 340L709.3 341L709.5 342L709.6 343L709.7 344L709.8 345L709.9 346L709.9 347L710.0 348L710.0 349L709.9 350L709.8 351L709.7 352L709.5 353L709.4 354L709.2 355L709.1 356L708.9 357L708.8 358L708.6 359L708.4 360L708.2 361L708.0 362L707.8 363L707.6 364L707.4 365L707.2 366L707.0 367L706.8 368L706.6 369L706.4 370L706.1 371L705.9 372L705.7 373L705.5 374L705.2 375L705 376" fill="none" stroke="#525252" stroke-width="1"/>
<path d="M713 307h1v67h-1z" fill="#fff"/>
<path d="M714 307L715 307L715.2 308L715.4 309L715.6 310L715.8 311L716.0 312L716.2 313L716.4 314L716.6 315L716.8 316L717.0 317L717.2 318L717.4 319L717.6 320L717.8 321L718.0 322L718.1 323L718.3 324L718.5 325L718.6 326L718.8 327L719.0 328L719.1 329L719.3 330L719.4 331L719.6 332L719.7 333L719.9 334L720.0 335L720.1 336L720.3 337L720.4 338L720.5 339L720.6 340L720.7 341L720.8 342L720.9 343L721.0 344L721.0 345L720.9 346L720.9 347L720.8 348L720.6 349L720.5 350L720.4 351L720.2 352L720.1 353L719.9 354L719.8 355L719.6 356L719.4 357L719.2 358L719.1 359L718.9 360L718.7 361L718.5 362L718.3 363L718.1 364L717.9 365L717.7 366L717.5 367L717.3 368L717.1 369L716.9 370L716.7 371L716.4 372L716.2 373L716 374L714 374Z" fill="#b8d8f8"/>
<path d="M715 307L715.2 308L715.4 309L715.6 310L715.8 311L716.0 312L716.2 313L716.4 314L716.6 315L716.8 316L717.0 317L717.2 318L717.4 319L717.6 320L717.8 321L718.0 322L718.1 323L718.3 324L718.5 325L718.6 326L718.8 327L719.0 328L719.1 329L719.3 330L719.4 331L719.6 332L719.7 333L719.9 334L720.0 335L720.1 336L720.3 337L720.4 338L720.5 339L720.6 340L720.7 341L720.8 342L720.9 343L721.0 344L721.0 345L720.9 346L720.9 347L720.8 348L720.6 349L720.5 350L720.4 351L720.2 352L720.1 353L719.9 354L719.8 355L719.6 356L719.4 357L719.2 358L719.1 359L718.9 360L718.7 361L718.5 362L718.3 363L718.1 364L717.9 365L717.7 366L717.5 367L717.3 368L717.1 369L716.9 370L716.7 371L716.4 372L716.2 373L716 374" fill="none" stroke="#525252" stroke-width="1"/>
<path d="M724 286h2v17h-2zM724 374h2v11h-2z" fill="#b0b0b0"/>
<path d="M724 303h1v71h-1z" fill="#fff"/>
<path d="M725 303L726 303L726.2 304L726.4 305L726.6 306L726.8 307L727.0 308L727.2 309L727.4 310L727.6 311L727.8 312L728.0 313L728.2 314L728.3 315L728.5 316L728.7 317L728.9 318L729.1 319L729.2 320L729.4 321L729.6 322L729.7 323L729.9 324L730.0 325L730.2 326L730.3 327L730.5 328L730.6 329L730.8 330L730.9 331L731.0 332L731.2 333L731.3 334L731.4 335L731.5 336L731.6 337L731.7 338L731.8 339L731.9 340L732.0 341L732.0 342L732.0 343L731.9 344L731.8 345L731.7 346L731.6 347L731.4 348L731.3 349L731.2 350L731.1 351L730.9 352L730.8 353L730.6 354L730.5 355L730.3 356L730.1 357L730.0 358L729.8 359L729.6 360L729.5 361L729.3 362L729.1 363L728.9 364L728.7 365L728.6 366L728.4 367L728.2 368L728.0 369L727.8 370L727.6 371L727.4 372L727.2 373L727 374L725 374Z" fill="#a0d0d0"/>
<path d="M726 303L726.2 304L726.4 305L726.6 306L726.8 307L727.0 308L727.2 309L727.4 310L727.6 311L727.8 312L728.0 313L728.2 314L728.3 315L728.5 316L728.7 317L728.9 318L729.1 319L729.2 320L729.4 321L729.6 322L729.7 323L729.9 324L730.0 325L730.2 326L730.3 327L730.5 328L730.6 329L730.8 330L730.9 331L731.0 332L731.2 333L731.3 334L731.4 335L731.5 336L731.6 337L731.7 338L731.8 339L731.9 340L732.0 341L732.0 342L732.0 343L731.9 344L731.8 345L731.7 346L731.6 347L731.4 348L731.3 349L731.2 350L731.1 351L730.9 352L730.8 353L730.6 354L730.5 355L730.3 356L730.1 357L730.0 358L729.8 359L729.6 360L729.5 361L729.3 362L729.1 363L728.9 364L728.7 365L728.6 366L728.4 367L728.2 368L728.0 369L727.8 370L727.6 371L727.4 372L727.2 373L727 374" fill="none" stroke="#525252" stroke-width="1"/>
<path d="M735 288h1v86h-1z" fill="#fff"/>
<path d="M736 288L737 288L737.2 289L737.3 290L737.5 291L737.6 292L737.8 293L737.9 294L738.1 295L738.2 296L738.4 297L738.5 298L738.6 299L738.8 300L738.9 301L739.1 302L739.2 303L739.3 304L739.5 305L739.6 306L739.8 307L739.9 308L740.0 309L740.1 310L740.3 311L740.4 312L740.5 313L740.6 314L740.8 315L740.9 316L741.0 317L741.1 318L741.2 319L741.3 320L741.5 321L741.6 322L741.7 323L741.8 324L741.9 325L742.0 326L742.1 327L742.2 328L742.3 329L742.4 330L742.4 331L742.5 332L742.6 333L742.7 334L742.7 335L742.8 336L742.9 337L742.9 338L743.0 339L743.0 340L743.0 341L742.9 342L742.8 343L742.7 344L742.6 345L742.5 346L742.4 347L742.3 348L742.1 349L742.0 350L741.9 351L741.7 352L741.6 353L741.4 354L741.3 355L741.1 356L741.0 357L740.8 358L740.7 359L740.5 360L740.3 361L740.2 362L740.0 363L739.8 364L739.6 365L739.5 366L739.3 367L739.1 368L738.9 369L738.8 370L738.6 371L738.4 372L738.2 373L738 374L736 374Z" fill="#a0d0d0"/>
<path d="M737 288L737.2 289L737.3 290L737.5 291L737.6 292L737.8 293L737.9 294L738.1 295L738.2 296L738.4 297L738.5 298L738.6 299L738.8 300L738.9 301L739.1 302L739.2 303L739.3 304L739.5 305L739.6 306L739.8 307L739.9 308L740.0 309L740.1 310L740.3 311L740.4 312L740.5 313L740.6 314L740.8 315L740.9 316L741.0 317L741.1 318L741.2 319L741.3 320L741.5 321L741.6 322L741.7 323L741.8 324L741.9 325L742.0 326L742.1 327L742.2 328L742.3 329L742.4 330L742.4 331L742.5 332L742.6 333L742.7 334L742.7 335L742.8 336L742.9 337L742.9 338L743.0 339L743.0 340L743.0 341L742.9 342L742.8 343L742.7 344L742.6 345L742.5 346L742.4 347L742.3 348L742.1 349L742.0 350L741.9 351L741.7 352L741.6 353L741.4 354L741.3 355L741.1 356L741.0 357L740.8 358L740.7 359L740.5 360L740.3 361L740.2 362L740.0 363L739.8 364L739.6 365L739.5 366L739.3 367L739.1 368L738.9 369L738.8 370L738.6 371L738.4 372L738.2 373L738 374" fill="none" stroke="#525252" stroke-width="1"/>
<path d="M745 278h1v86h-1z" fill="#fff"/>
<path d="M746 278L747 278L747.2 279L747.4 280L747.6 281L747.8 282L747.9 283L748.1 284L748.3 285L748.5 286L748.7 287L748.8 288L749.0 289L749.2 290L749.4 291L749.5 292L749.7 293L749.9 294L750.0 295L750.2 296L750.3 297L750.5 298L750.6 299L750.8 300L750.9 301L751.1 302L751.2 303L751.4 304L751.5 305L751.6 306L751.8 307L751.9 308L752.0 309L752.1 310L752.3 311L752.4 312L752.5 313L752.6 314L752.7 315L752.7 316L752.8 317L752.9 318L753.0 319L753.0 320L753.0 321L752.9 322L752.9 323L752.8 324L752.7 325L752.6 326L752.6 327L752.5 328L752.4 329L752.3 330L752.2 331L752.1 332L752.0 333L751.9 334L751.8 335L751.7 336L751.6 337L751.4 338L751.3 339L751.2 340L751.1 341L751.0 342L750.9 343L750.7 344L750.6 345L750.5 346L750.4 347L750.2 348L750.1 349L750.0 350L749.8 351L749.7 352L749.6 353L749.4 354L749.3 355L749.1 356L749.0 357L748.9 358L748.7 359L748.6 360L748.4 361L748.3 362L748.1 363L748 364L746 364Z" fill="#78d080"/>
<path d="M747 278L747.2 279L747.4 280L747.6 281L747.8 282L747.9 283L748.1 284L748.3 285L748.5 286L748.7 287L748.8 288L749.0 289L749.2 290L749.4 291L749.5 292L749.7 293L749.9 294L750.0 295L750.2 296L750.3 297L750.5 298L750.6 299L750.8 300L750.9 301L751.1 302L751.2 303L751.4 304L751.5 305L751.6 306L751.8 307L751.9 308L752.0 309L752.1 310L752.3 311L752.4 312L752.5 313L752.6 314L752.7 315L752.7 316L752.8 317L752.9 318L753.0 319L753.0 320L753.0 321L752.9 322L752.9 323L752.8 324L752.7 325L752.6 326L752.6 327L752.5 328L752.4 329L752.3 330L752.2 331L752.1 332L752.0 333L751.9 334L751.8 335L751.7 336L751.6 337L751.4 338L751.3 339L751.2 340L751.1 341L751.0 342L750.9 343L750.7 344L750.6 345L750.5 346L750.4 347L750.2 348L750.1 349L750.0 350L749.8 351L749.7 352L749.6 353L749.4 354L749.3 355L749.1 356L749.0 357L748.9 358L748.7 359L748.6 360L748.4 361L748.3 362L748.1 363L748 364" fill="none" stroke="#525252" stroke-width="1"/>
<path d="M756 283h1v76h-1z" fill="#fff"/>
<path d="M757 283L758 283L758.2 284L758.4 285L758.6 286L758.8 287L759.0 288L759.2 289L759.4 290L759.6 291L759.8 292L759.9 293L760.1 294L760.3 295L760.5 296L760.7 297L760.8 298L761.0 299L761.2 300L761.3 301L761.5 302L761.7 303L761.8 304L762.0 305L762.1 306L762.3 307L762.4 308L762.5 309L762.7 310L762.8 311L762.9 312L763.0 313L763.2 314L763.3 315L763.4 316L763.5 317L763.6 318L763.6 319L763.7 320L763.8 321L763.7 322L763.7 323L763.6 324L763.5 325L763.4 326L763.3 327L763.2 328L763.1 329L763.0 330L762.9 331L762.8 332L762.7 333L762.6 334L762.5 335L762.3 336L762.2 337L762.1 338L762.0 339L761.8 340L761.7 341L761.6 342L761.4 343L761.3 344L761.1 345L761.0 346L760.9 347L760.7 348L760.6 349L760.4 350L760.3 351L760.1 352L760.0 353L759.8 354L759.6 355L759.5 356L759.3 357L759.2 358L759 359L757 359Z" fill="#78d080"/>
<path d="M758 283L758.2 284L758.4 285L758.6 286L758.8 287L759.0 288L759.2 289L759.4 290L759.6 291L759.8 292L759.9 293L760.1 294L760.3 295L760.5 296L760.7 297L760.8 298L761.0 299L761.2 300L761.3 301L761.5 302L761.7 303L761.8 304L762.0 305L762.1 306L762.3 307L762.4 308L762.5 309L762.7 310L762.8 311L762.9 312L763.0 313L763.2 314L763.3 315L763.4 316L763.5 317L763.6 318L763.6 319L763.7 320L763.8 321L763.7 322L763.7 323L763.6 324L763.5 325L763.4 326L763.3 327L763.2 328L763.1 329L763.0 330L762.9 331L762.8 332L762.7 333L762.6 334L762.5 335L762.3 336L762.2 337L762.1 338L762.0 339L761.8 340L761.7 341L761.6 342L761.4 343L761.3 344L761.1 345L761.0 346L760.9 347L760.7 348L760.6 349L760.4 350L760.3 351L760.1 352L760.0 353L759.8 354L759.6 355L759.5 356L759.3 357L759.2 358L759 359" fill="none" stroke="#525252" stroke-width="1"/>
<path d="M767 278h1v76h-1z" fill="#fff"/>
<path d="M768 278L769 278L769.2 279L769.4 280L769.6 281L769.8 282L770.0 283L770.2 284L770.4 285L770.6 286L770.8 287L771.0 288L771.2 289L771.3 290L771.5 291L771.7 292L771.9 293L772.1 294L772.2 295L772.4 296L772.6 297L772.7 298L772.9 299L773.0 300L773.2 301L773.3 302L773.5 303L773.6 304L773.8 305L773.9 306L774.0 307L774.2 308L774.3 309L774.4 310L774.5 311L774.6 312L774.7 313L774.8 314L774.9 315L775.0 316L775.0 317L775.0 318L774.9 319L774.8 320L774.7 321L774.6 322L774.5 323L774.4 324L774.3 325L774.2 326L774.1 327L774.0 328L773.9 329L773.7 330L773.6 331L773.5 332L773.3 333L773.2 334L773.0 335L772.9 336L772.8 337L772.6 338L772.5 339L772.3 340L772.2 341L772.0 342L771.8 343L771.7 344L771.5 345L771.4 346L771.2 347L771.0 348L770.9 349L770.7 350L770.5 351L770.3 352L770.2 353L770 354L768 354Z" fill="#78d080"/>
<path d="M769 278L769.2 279L769.4 280L769.6 281L769.8 282L770.0 283L770.2 284L770.4 285L770.6 286L770.8 287L771.0 288L771.2 289L771.3 290L771.5 291L771.7 292L771.9 293L772.1 294L772.2 295L772.4 296L772.6 297L772.7 298L772.9 299L773.0 300L773.2 301L773.3 302L773.5 303L773.6 304L773.8 305L773.9 306L774.0 307L774.2 308L774.3 309L774.4 310L774.5 311L774.6 312L774.7 313L774.8 314L774.9 315L775.0 316L775.0 317L775.0 318L774.9 319L774.8 320L774.7 321L774.6 322L774.5 323L774.4 324L774.3 325L774.2 326L774.1 327L774.0 328L773.9 329L773.7 330L773.6 331L773.5 332L773.3 333L773.2 334L773.0 335L772.9 336L772.8 337L772.6 338L772.5 339L772.3 340L772.2 341L772.0 342L771.8 343L771.7 344L771.5 345L771.4 346L771.2 347L771.0 348L770.9 349L770.7 350L770.5 351L770.3 352L770.2 353L770 354" fill="none" stroke="#525252" stroke-width="1"/>
<path d="M778 272h1v82h-1z" fill="#fff"/>
<path d="M779 272L780 272L780.2 273L780.4 274L780.6 275L780.8 276L781.0 277L781.2 278L781.4 279L781.5 280L781.7 281L781.9 282L782.1 283L782.3 284L782.4 285L782.6 286L782.8 287L783.0 288L783.1 289L783.3 290L783.4 291L783.6 292L783.8 293L783.9 294L784.1 295L784.2 296L784.4 297L784.5 298L784.6 299L784.8 300L784.9 301L785.0 302L785.2 303L785.3 304L785.4 305L785.5 306L785.6 307L785.7 308L785.8 309L785.9 310L785.9 311L786.0 312L786.0 313L785.9 314L785.9 315L785.8 316L785.7 317L785.7 318L785.6 319L785.5 320L785.4 321L785.3 322L785.2 323L785.1 324L785.0 325L784.9 326L784.7 327L784.6 328L784.5 329L784.4 330L784.3 331L784.1 332L784.0 333L783.9 334L783.8 335L783.6 336L783.5 337L783.4 338L783.2 339L783.1 340L782.9 341L782.8 342L782.7 343L782.5 344L782.4 345L782.2 346L782.1 347L781.9 348L781.8 349L781.6 350L781.5 351L781.3 352L781.2 353L781 354L779 354Z" fill="#78d080"/>
<path d="M780 272L780.2 273L780.4 274L780.6 275L780.8 276L781.0 277L781.2 278L781.4 279L781.5 280L781.7 281L781.9 282L782.1 283L782.3 284L782.4 285L782.6 286L782.8 287L783.0 288L783.1 289L783.3 290L783.4 291L783.6 292L783.8 293L783.9 294L784.1 295L784.2 296L784.4 297L784.5 298L784.6 299L784.8 300L784.9 301L785.0 302L785.2 303L785.3 304L785.4 305L785.5 306L785.6 307L785.7 308L785.8 309L785.9 310L785.9 311L786.0 312L786.0 313L785.9 314L785.9 315L785.8 316L785.7 317L785.7 318L785.6 319L785.5 320L785.4 321L785.3 322L785.2 323L785.1 324L785.0 325L784.9 326L784.7 327L784.6 328L784.5 329L784.4 330L784.3 331L784.1 332L784.0 333L783.9 334L783.8 335L783.6 336L783.5 337L783.4 338L783.2 339L783.1 340L782.9 341L782.8 342L782.7 343L782.5 344L782.4 345L782.2 346L782.1 347L781.9 348L781.8 349L781.6 350L781.5 351L781.3 352L781.2 353L781 354" fill="none" stroke="#525252" stroke-width="1"/>
<path d="M789 248h2v16h-2zM789 349h2v14h-2z" fill="#b0b0b0"/>
<path d="M789 264h1v85h-1z" fill="#fff"/>
<path d="M790 264L791 264L791.2 265L791.4 266L791.5 267L791.7 268L791.9 269L792.1 270L792.2 271L792.4 272L792.6 273L792.7 274L792.9 275L793.1 276L793.2 277L793.4 278L793.6 279L793.7 280L793.9 281L794.0 282L794.2 283L794.3 284L794.5 285L794.6 286L794.8 287L794.9 288L795.1 289L795.2 290L795.3 291L795.5 292L795.6 293L795.7 294L795.9 295L796.0 296L796.1 297L796.2 298L796.3 299L796.5 300L796.6 301L796.7 302L796.8 303L796.9 304L797.0 305L797.1 306L797.2 307L797.2 308L797.3 309L797.4 310L797.4 311L797.5 312L797.5 313L797.4 314L797.3 315L797.2 316L797.1 317L797.0 318L796.9 319L796.8 320L796.7 321L796.6 322L796.4 323L796.3 324L796.1 325L796.0 326L795.8 327L795.7 328L795.5 329L795.4 330L795.2 331L795.1 332L794.9 333L794.7 334L794.6 335L794.4 336L794.2 337L794.0 338L793.9 339L793.7 340L793.5 341L793.3 342L793.1 343L793.0 344L792.8 345L792.6 346L792.4 347L792.2 348L792 349L790 349Z" fill="#78d080"/>
<path d="M791 264L791.2 265L791.4 266L791.5 267L791.7 268L791.9 269L792.1 270L792.2 271L792.4 272L792.6 273L792.7 274L792.9 275L793.1 276L793.2 277L793.4 278L793.6 279L793.7 280L793.9 281L794.0 282L794.2 283L794.3 284L794.5 285L794.6 286L794.8 287L794.9 288L795.1 289L795.2 290L795.3 291L795.5 292L795.6 293L795.7 294L795.9 295L796.0 296L796.1 297L796.2 298L796.3 299L796.5 300L796.6 301L796.7 302L796.8 303L796.9 304L797.0 305L797.1 306L797.2 307L797.2 308L797.3 309L797.4 310L797.4 311L797.5 312L797.5 313L797.4 314L797.3 315L797.2 316L797.1 317L797.0 318L796.9 319L796.8 320L796.7 321L796.6 322L796.4 323L796.3 324L796.1 325L796.0 326L795.8 327L795.7 328L795.5 329L795.4 330L795.2 331L795.1 332L794.9 333L794.7 334L794.6 335L794.4 336L794.2 337L794.0 338L793.9 339L793.7 340L793.5 341L793.3 342L793.1 343L793.0 344L792.8 345L792.6 346L792.4 347L792.2 348L792 349" fill="none" stroke="#525252" stroke-width="1"/>
</svg></body></html>
